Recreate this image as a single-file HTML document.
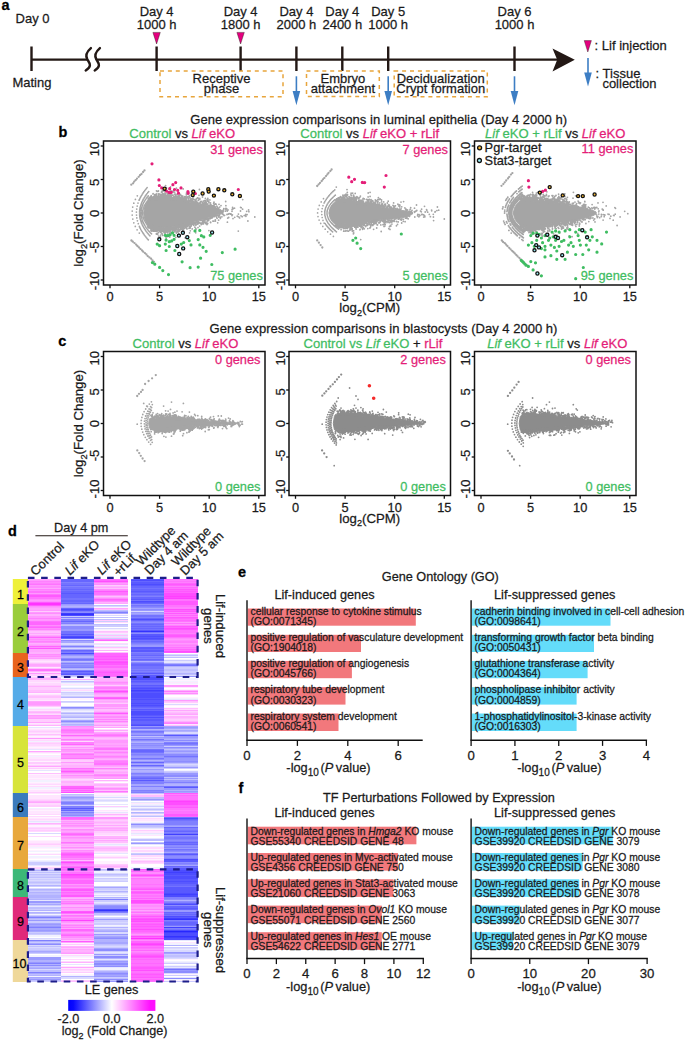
<!DOCTYPE html>
<html><head><meta charset="utf-8"><style>html,body{margin:0;padding:0;background:#fff;}svg{display:block;}text{font-family:"Liberation Sans",sans-serif;}</style></head>
<body><svg width="685" height="1040" viewBox="0 0 685 1040" font-family="Liberation Sans, sans-serif" fill="#1a1a1a">
<text font-size="14.5" fill="#000" font-weight="bold" transform="matrix(1 0 0 1.035 1.60 9.80)" stroke="#000" stroke-width="0.25">a</text>
<text font-size="13" transform="matrix(1 0 0 1.035 15.60 23.20)" stroke="#1a1a1a" stroke-width="0.25">Day 0</text>
<text font-size="13" transform="matrix(1 0 0 1.035 12.40 86.90)" stroke="#1a1a1a" stroke-width="0.25">Mating</text>
<g stroke="#231815" stroke-width="2.4" fill="none">
<path d="M31.5 59.6H87.3M96.3 59.6H558"/>
<path d="M31.5 46.5V71"/>
<path d="M156.6 46.5V71"/>
<path d="M240.6 46.5V71"/>
<path d="M296.4 46.5V71"/>
<path d="M342.3 46.5V71"/>
<path d="M388.2 46.5V71"/>
<path d="M514.5 46.5V71"/>
<path d="M90.9 48.1C87 51.5 85.3 55.8 87.3 59.3C89.2 62.6 92.8 66.2 85.7 70.5" stroke-width="2.4" stroke-linecap="round"/>
<path d="M99.9 48.1C96 51.5 94.3 55.8 96.3 59.3C98.2 62.6 101.8 66.2 94.7 70.5" stroke-width="2.4" stroke-linecap="round"/>
</g>
<path d="M574.8 59.7L552.5 48.4L557.2 59.7L552.5 71.4Z" fill="#231815"/>
<text font-size="13" text-anchor="middle" transform="matrix(1 0 0 1.035 156.60 16.40)" stroke="#1a1a1a" stroke-width="0.25">Day 4</text>
<text font-size="13" text-anchor="middle" transform="matrix(1 0 0 1.035 156.60 29.30)" stroke="#1a1a1a" stroke-width="0.25">1000 h</text>
<text font-size="13" text-anchor="middle" transform="matrix(1 0 0 1.035 240.60 16.40)" stroke="#1a1a1a" stroke-width="0.25">Day 4</text>
<text font-size="13" text-anchor="middle" transform="matrix(1 0 0 1.035 240.60 29.30)" stroke="#1a1a1a" stroke-width="0.25">1800 h</text>
<text font-size="13" text-anchor="middle" transform="matrix(1 0 0 1.035 296.40 16.40)" stroke="#1a1a1a" stroke-width="0.25">Day 4</text>
<text font-size="13" text-anchor="middle" transform="matrix(1 0 0 1.035 296.40 29.30)" stroke="#1a1a1a" stroke-width="0.25">2000 h</text>
<text font-size="13" text-anchor="middle" transform="matrix(1 0 0 1.035 342.30 16.40)" stroke="#1a1a1a" stroke-width="0.25">Day 4</text>
<text font-size="13" text-anchor="middle" transform="matrix(1 0 0 1.035 342.30 29.30)" stroke="#1a1a1a" stroke-width="0.25">2400 h</text>
<text font-size="13" text-anchor="middle" transform="matrix(1 0 0 1.035 388.20 16.40)" stroke="#1a1a1a" stroke-width="0.25">Day 5</text>
<text font-size="13" text-anchor="middle" transform="matrix(1 0 0 1.035 388.20 29.30)" stroke="#1a1a1a" stroke-width="0.25">1000 h</text>
<text font-size="13" text-anchor="middle" transform="matrix(1 0 0 1.035 514.50 16.40)" stroke="#1a1a1a" stroke-width="0.25">Day 6</text>
<text font-size="13" text-anchor="middle" transform="matrix(1 0 0 1.035 514.50 29.30)" stroke="#1a1a1a" stroke-width="0.25">1000 h</text>
<path d="M152.9 32.4H160.29999999999998L156.6 44Z" fill="#e4007f" stroke="#231815" stroke-width="0.4"/>
<path d="M236.9 32.4H244.29999999999998L240.6 44Z" fill="#e4007f" stroke="#231815" stroke-width="0.4"/>
<path d="M296.4 76.3V92.8" stroke="#3d7ec4" stroke-width="1.6"/>
<path d="M292.59999999999997 91.0L300.2 91.0L296.4 105.2Z" fill="#3d7ec4"/>
<path d="M388.2 76.3V92.8" stroke="#3d7ec4" stroke-width="1.6"/>
<path d="M384.4 91.0L392.0 91.0L388.2 105.2Z" fill="#3d7ec4"/>
<path d="M514.5 76.3V92.8" stroke="#3d7ec4" stroke-width="1.6"/>
<path d="M510.7 91.0L518.3 91.0L514.5 105.2Z" fill="#3d7ec4"/>
<rect x="160" y="70.9" width="123.0" height="25.8" fill="none" stroke="#e8a53c" stroke-width="1.5" stroke-dasharray="4 3.9"/>
<rect x="306.5" y="70.9" width="72.8" height="25.6" fill="none" stroke="#e8a53c" stroke-width="1.5" stroke-dasharray="4 3.9"/>
<rect x="394.2" y="70.9" width="93.1" height="25.8" fill="none" stroke="#e8a53c" stroke-width="1.5" stroke-dasharray="4 3.9"/>
<text font-size="13" text-anchor="middle" transform="matrix(1 0 0 1.035 221.50 83.20)" stroke="#1a1a1a" stroke-width="0.25">Receptive</text>
<text font-size="13" text-anchor="middle" transform="matrix(1 0 0 1.035 221.50 92.60)" stroke="#1a1a1a" stroke-width="0.25">phase</text>
<text font-size="13" text-anchor="middle" transform="matrix(1 0 0 1.035 342.90 83.20)" stroke="#1a1a1a" stroke-width="0.25">Embryo</text>
<text font-size="13" text-anchor="middle" transform="matrix(1 0 0 1.035 342.90 92.60)" stroke="#1a1a1a" stroke-width="0.25">attachment</text>
<text font-size="13" text-anchor="middle" transform="matrix(1 0 0 1.035 440.70 83.20)" stroke="#1a1a1a" stroke-width="0.25">Decidualization</text>
<text font-size="13" text-anchor="middle" transform="matrix(1 0 0 1.035 440.70 92.60)" stroke="#1a1a1a" stroke-width="0.25">Crypt formation</text>
<path d="M584.2 40.6H591.4L587.8 52Z" fill="#e4007f" stroke="#231815" stroke-width="0.4"/>
<text font-size="13" transform="matrix(1 0 0 1.035 594.60 49.80)" stroke="#1a1a1a" stroke-width="0.25">: Lif injection</text>
<path d="M588 58.1V74.2" stroke="#3d7ec4" stroke-width="1.6"/>
<path d="M584.2 72.4L591.8 72.4L588 86.60000000000001Z" fill="#3d7ec4"/>
<text font-size="13" transform="matrix(1 0 0 1.035 595.60 77.70)" stroke="#1a1a1a" stroke-width="0.25">: Tissue</text>
<text font-size="13" transform="matrix(1 0 0 1.035 602.40 88.00)" stroke="#1a1a1a" stroke-width="0.25">collection</text>
<text font-size="14.5" fill="#000" font-weight="bold" transform="matrix(1 0 0 1.035 58.60 137.40)" stroke="#000" stroke-width="0.25">b</text>
<text font-size="13.04" transform="matrix(1 0 0 1.035 190.30 123.80)" stroke="#1a1a1a" stroke-width="0.25">Gene expression comparisons in luminal epithelia (Day 4 2000 h)</text>
<text font-size="13.05" text-anchor="middle" transform="matrix(1 0 0 1.035 182.20 137.70)" stroke="#1a1a1a" stroke-width="0.25"><tspan fill="#3fbd62" stroke="#3fbd62">Control</tspan><tspan fill="#1a1a1a" stroke="#1a1a1a"> vs </tspan><tspan fill="#e41e78" font-style="italic" stroke="#e41e78">Lif</tspan><tspan fill="#e41e78" stroke="#e41e78"> eKO</tspan></text>
<text font-size="13.05" text-anchor="middle" transform="matrix(1 0 0 1.035 369.70 137.70)" stroke="#1a1a1a" stroke-width="0.25"><tspan fill="#3fbd62" stroke="#3fbd62">Control</tspan><tspan fill="#1a1a1a" stroke="#1a1a1a"> vs </tspan><tspan fill="#e41e78" font-style="italic" stroke="#e41e78">Lif</tspan><tspan fill="#e41e78" stroke="#e41e78"> eKO + rLif</tspan></text>
<text font-size="13.05" text-anchor="middle" transform="matrix(1 0 0 1.035 555.20 137.70)" stroke="#1a1a1a" stroke-width="0.25"><tspan fill="#3fbd62" font-style="italic" stroke="#3fbd62">Lif</tspan><tspan fill="#3fbd62" stroke="#3fbd62"> eKO + rLif</tspan><tspan fill="#1a1a1a" stroke="#1a1a1a"> vs </tspan><tspan fill="#e41e78" font-style="italic" stroke="#e41e78">Lif</tspan><tspan fill="#e41e78" stroke="#e41e78"> eKO</tspan></text>
<path d="M143.7 213.0 144.7 207.1 145.7 204.7 146.7 202.8 147.7 201.2 148.7 199.9 149.7 200.1 150.7 200.0 151.7 199.9 152.7 199.8 153.6 199.7 154.6 199.6 155.6 199.5 156.6 199.4 157.6 199.3 158.6 199.2 159.6 199.1 160.6 199.0 161.6 198.9 162.6 198.8 163.6 198.9 164.6 198.9 165.6 199.0 166.5 199.1 167.5 199.1 168.5 199.2 169.5 199.3 170.5 199.3 171.5 199.4 172.5 199.5 173.5 199.5 174.5 199.6 175.5 199.8 176.5 199.9 177.5 200.1 178.4 200.3 179.4 200.5 180.4 200.6 181.4 200.8 182.4 201.0 183.4 201.1 184.4 201.3 185.4 201.5 186.4 201.7 187.4 201.9 188.4 202.1 189.4 202.3 190.4 202.5 191.3 202.7 192.3 202.9 193.3 203.1 194.3 203.3 195.3 203.5 196.3 203.7 197.3 203.9 198.3 204.0 199.3 204.2 200.3 204.4 201.3 204.5 202.3 204.7 203.2 204.8 204.2 205.0 205.2 205.1 206.2 205.3 207.2 205.5 208.2 205.6 209.2 205.8 210.2 206.1 211.2 206.4 212.2 206.6 213.2 206.9 214.2 207.2 215.2 207.5 216.1 207.8 217.1 208.1 218.1 208.4 219.1 208.7 220.1 209.4 221.1 210.1 222.1 210.7 223.1 211.4 223.1 213.5 222.1 213.7 221.1 213.8 220.1 213.9 219.1 214.1 218.1 214.4 217.1 214.8 216.1 215.1 215.2 215.5 214.2 215.8 213.2 216.2 212.2 216.5 211.2 216.9 210.2 217.2 209.2 217.6 208.2 217.8 207.2 218.1 206.2 218.4 205.2 218.7 204.2 219.0 203.2 219.3 202.3 219.6 201.3 219.9 200.3 220.2 199.3 220.5 198.3 220.7 197.3 221.0 196.3 221.2 195.3 221.4 194.3 221.6 193.3 221.8 192.3 222.0 191.3 222.2 190.4 222.4 189.4 222.6 188.4 222.8 187.4 223.1 186.4 223.3 185.4 223.5 184.4 223.7 183.4 224.0 182.4 224.3 181.4 224.6 180.4 224.9 179.4 225.2 178.4 225.5 177.5 225.8 176.5 226.1 175.5 226.4 174.5 226.7 173.5 226.8 172.5 226.8 171.5 226.9 170.5 227.0 169.5 227.1 168.5 227.2 167.5 227.3 166.5 227.4 165.6 227.5 164.6 227.6 163.6 227.7 162.6 227.7 161.6 227.5 160.6 227.3 159.6 227.1 158.6 226.9 157.6 226.7 156.6 226.5 155.6 226.3 154.6 226.1 153.6 225.9 152.7 225.7 151.7 225.5 150.7 225.3 149.7 225.1 148.7 225.8 147.7 224.8 146.7 223.2 145.7 221.3 144.7 218.9 143.7 213.0Z" fill="#a5a5a5" stroke="#a5a5a5" stroke-width="1" stroke-linejoin="round"/>
<path d="M154.6 196.2h0M175.1 228.9h0M171.7 227.5h0M158.8 199.1h0M171.2 198.8h0M159.0 198.4h0M225.6 209.0h0M153.8 228.9h0M223.0 214.4h0M245.4 215.2h0M156.6 229.3h0M167.3 229.0h0M177.0 198.5h0M168.5 228.8h0M207.6 200.9h0M176.5 197.9h0M161.6 191.5h0M210.5 222.2h0M216.8 206.1h0M150.0 198.1h0M175.8 198.8h0M178.4 198.1h0M147.8 226.9h0M234.7 217.3h0M160.8 196.4h0M204.6 219.2h0M165.6 227.9h0M156.3 196.5h0M164.4 198.9h0M170.1 227.3h0M176.2 228.3h0M155.2 226.6h0M192.5 222.6h0M213.8 216.5h0M168.5 228.1h0M163.5 228.5h0M202.5 204.0h0M219.7 207.1h0M237.8 216.4h0M167.5 227.8h0M170.9 227.2h0M163.0 228.6h0M165.3 230.1h0M174.4 227.3h0M205.3 200.8h0M165.4 232.2h0M154.6 199.4h0M151.1 229.0h0M165.4 195.4h0M181.2 200.5h0M162.0 194.7h0M191.6 222.5h0M153.5 226.5h0M152.8 226.8h0M160.7 227.6h0M183.5 200.3h0M158.8 236.1h0M193.9 222.4h0M163.6 198.7h0M189.3 195.7h0M163.6 228.5h0M165.1 229.5h0M160.2 197.2h0M151.2 226.2h0M175.0 226.9h0M208.8 201.7h0M153.0 193.9h0M164.1 231.4h0M226.7 208.6h0M170.9 229.9h0M160.7 235.1h0M179.3 196.0h0M168.6 198.5h0M188.7 200.2h0M166.2 198.7h0M168.9 198.6h0M177.6 197.7h0M193.6 202.5h0M174.0 228.0h0M161.9 198.8h0M176.3 226.5h0M194.5 222.7h0M201.2 224.5h0M156.8 227.1h0M193.0 222.9h0M156.2 226.5h0M216.5 215.7h0M208.7 220.2h0M171.7 191.1h0M215.1 207.1h0M183.9 200.9h0M160.5 199.0h0M171.3 229.3h0M162.4 228.4h0M160.6 231.0h0M174.8 230.0h0M167.8 227.5h0M153.7 227.7h0M205.7 218.9h0M181.3 199.1h0M171.5 198.5h0M210.3 218.7h0M167.5 199.1h0M183.7 228.1h0M202.6 203.9h0M185.8 200.5h0M168.2 228.5h0M182.4 229.7h0M174.9 228.9h0M186.9 225.5h0M228.7 217.5h0M165.9 230.3h0M178.9 196.2h0M173.1 228.5h0M170.2 196.8h0M176.0 197.1h0M194.0 202.7h0M151.2 198.2h0M176.3 226.6h0M197.5 221.7h0M159.6 227.6h0M159.1 229.9h0M170.8 195.7h0M186.5 193.2h0M184.5 199.6h0M154.8 227.2h0M160.1 196.1h0M153.0 198.2h0M157.3 228.8h0M196.1 229.1h0M165.5 227.8h0M152.4 198.3h0M156.4 195.4h0M182.0 197.9h0M183.2 188.9h0M213.8 206.2h0M182.0 225.6h0M155.1 199.4h0M154.3 230.3h0M161.8 198.7h0M187.7 225.7h0M190.6 224.7h0M188.2 223.0h0M182.9 226.4h0M177.1 199.0h0M158.0 228.1h0M197.5 224.0h0M160.6 227.7h0M232.0 211.3h0M217.9 215.6h0M148.8 198.2h0M168.6 194.2h0M177.3 196.3h0M154.3 229.9h0M163.4 228.3h0M164.8 231.1h0M182.4 198.5h0M224.6 215.3h0M155.8 197.8h0M165.7 227.6h0M189.2 201.4h0M164.6 229.2h0M155.3 198.6h0M150.8 226.8h0M218.6 220.2h0M154.6 228.1h0M210.5 202.9h0M169.0 236.3h0M156.3 229.2h0M169.5 199.1h0M179.0 200.1h0M187.1 201.6h0M230.4 214.0h0M162.3 229.8h0M192.2 228.9h0M199.4 189.5h0M158.1 230.3h0M174.5 231.7h0M182.4 196.5h0M157.5 196.6h0M153.8 231.0h0M181.3 226.4h0M219.5 215.3h0M163.6 229.3h0M179.4 225.6h0M180.7 226.0h0M173.0 227.9h0M174.1 198.1h0M166.2 199.0h0M161.1 196.9h0M176.5 197.2h0M209.0 202.8h0M168.8 195.0h0M185.0 225.4h0M165.7 190.8h0M179.6 197.9h0M161.4 229.0h0M233.3 208.7h0M168.2 228.0h0M168.0 227.8h0M169.9 187.9h0M174.9 197.8h0M205.4 203.6h0M161.5 228.9h0M161.8 197.6h0M157.7 228.9h0M178.0 199.8h0M162.1 198.1h0M166.9 228.3h0M157.0 229.4h0M150.1 227.9h0M217.6 207.4h0M164.8 198.6h0M152.0 228.4h0M193.4 222.3h0M163.5 198.6h0M192.9 222.9h0M176.9 199.1h0M160.6 196.3h0M151.3 199.7h0M161.6 198.8h0M168.8 196.8h0M192.7 201.3h0M215.3 219.8h0M192.7 223.7h0M178.2 230.9h0M179.3 198.8h0M158.8 197.3h0M161.7 197.4h0M152.9 228.2h0M178.9 228.4h0M227.0 214.5h0M155.9 198.4h0M153.7 226.6h0M214.2 215.8h0M167.6 194.1h0M209.5 218.7h0M169.4 199.1h0M148.6 199.5h0M153.3 198.1h0M161.7 233.2h0M214.9 216.2h0M160.0 198.0h0M209.0 218.5h0M165.7 240.3h0M149.9 199.0h0M218.8 217.0h0M176.9 228.6h0M156.6 197.9h0M197.0 221.1h0M167.8 227.7h0M210.7 204.7h0M208.2 205.1h0M178.7 231.5h0M155.4 199.3h0M151.1 228.8h0M155.7 230.4h0M215.4 221.0h0M165.5 231.0h0M182.5 225.6h0M195.5 223.9h0M160.5 227.6h0M168.1 196.8h0M169.8 237.1h0M164.2 229.0h0M169.9 198.1h0M158.0 198.2h0M180.8 228.4h0M200.3 204.0h0M165.9 197.5h0M154.3 226.5h0M178.4 226.8h0M181.8 199.7h0M186.4 198.1h0M202.9 222.1h0M154.3 199.5h0M167.8 229.8h0M166.3 228.0h0M165.8 227.7h0M158.4 227.7h0M183.1 197.8h0M150.1 226.0h0M152.8 197.5h0M158.4 227.2h0M196.6 222.3h0M154.5 198.9h0M153.8 196.3h0M174.2 227.4h0M191.7 223.8h0M170.1 227.3h0M154.3 198.2h0M158.7 228.8h0M170.2 234.4h0M157.5 197.6h0M166.5 236.7h0M150.5 226.7h0M156.8 193.8h0M168.6 230.9h0M188.7 196.6h0M170.5 198.4h0M182.8 225.0h0M211.3 218.1h0M212.2 216.8h0M179.4 198.4h0M187.4 224.4h0M156.0 226.9h0M155.3 227.1h0M220.4 218.4h0M187.0 223.9h0M179.4 198.2h0M156.5 198.7h0M162.3 198.1h0M162.0 195.7h0M240.6 207.3h0M164.0 194.3h0M171.5 196.2h0M164.0 193.8h0M182.7 196.2h0M153.5 197.7h0M161.4 227.6h0M165.1 196.0h0M160.7 227.4h0M151.8 225.6h0M158.5 197.6h0M168.4 198.7h0M193.4 196.8h0M173.6 199.5h0M186.4 194.6h0M196.6 203.6h0M195.7 228.5h0M180.5 199.0h0M192.8 198.4h0M173.4 229.4h0M180.5 198.4h0M163.7 198.8h0M171.6 233.0h0M186.4 224.6h0M166.3 227.4h0M202.2 204.6h0M182.8 196.2h0M159.7 196.3h0M206.7 203.4h0M162.9 197.1h0M157.9 229.0h0M186.9 200.6h0M155.5 229.5h0M163.6 196.2h0M167.1 232.2h0M164.1 196.8h0M179.2 200.4h0M151.9 227.1h0M203.2 194.1h0M167.2 227.6h0M176.3 232.1h0M179.4 199.8h0M179.8 199.6h0M158.9 193.6h0M213.1 216.6h0M162.5 196.7h0M212.8 206.5h0M159.0 198.5h0M160.7 198.0h0M241.0 215.8h0M168.0 227.9h0M242.6 209.2h0M151.0 230.4h0M204.5 203.6h0M168.6 199.2h0M156.3 231.3h0M155.4 197.2h0M151.5 226.1h0M156.5 198.6h0M179.4 231.0h0M157.6 234.4h0M239.0 217.1h0M191.0 222.6h0M158.5 194.8h0M169.0 227.3h0M152.5 226.7h0M154.9 227.0h0M170.8 197.3h0M176.4 198.6h0M158.3 198.9h0M156.1 199.4h0M184.8 196.6h0M188.4 223.8h0M225.7 201.5h0M164.1 198.8h0M166.9 198.7h0M164.2 229.6h0M184.3 199.3h0M169.8 227.2h0M157.0 227.5h0M160.7 228.9h0M162.9 198.7h0M166.3 229.4h0M184.7 200.4h0M168.7 229.2h0M168.6 231.4h0M160.2 227.9h0M148.7 227.8h0M180.5 224.9h0M180.4 225.3h0M193.8 202.3h0M205.1 204.7h0M224.0 215.5h0M156.6 199.4h0M189.6 232.9h0M157.0 197.1h0M179.7 226.6h0M156.4 233.7h0M167.7 230.4h0M171.3 228.3h0M149.8 199.9h0M171.6 228.3h0M168.2 195.7h0M183.6 227.5h0M176.0 198.0h0M248.6 209.9h0M155.2 197.4h0M172.3 199.2h0M149.7 199.0h0M174.5 196.4h0M182.1 197.6h0M174.7 228.0h0M178.2 229.6h0M180.1 197.6h0M183.1 199.5h0M178.2 199.6h0M183.3 227.6h0M205.4 198.5h0M166.6 196.5h0M211.2 205.5h0M168.7 196.6h0M168.2 234.8h0M209.7 205.3h0M185.0 198.5h0M171.0 199.1h0M155.6 229.4h0M171.2 229.3h0M158.4 191.0h0M182.4 200.6h0M212.8 206.0h0M166.4 198.4h0M174.7 226.8h0M180.6 199.6h0M150.5 227.0h0M198.3 198.4h0M213.7 203.6h0M168.9 230.1h0M177.2 197.5h0M167.2 195.8h0M167.0 198.6h0M191.4 224.5h0M170.7 228.3h0M194.8 227.1h0M182.4 225.7h0M177.2 226.9h0M160.3 197.7h0M162.6 198.7h0M213.5 205.7h0M184.1 225.6h0M179.0 231.0h0M173.9 198.2h0M183.1 200.0h0M153.0 226.0h0M163.6 229.6h0M168.4 197.1h0M185.9 224.1h0M164.4 229.1h0M161.5 196.0h0M182.4 226.0h0M205.4 219.9h0M183.5 198.8h0M226.0 209.6h0M171.7 232.6h0M154.1 227.8h0M186.1 200.2h0M161.4 230.3h0M153.3 228.0h0M193.9 223.1h0M177.7 197.5h0M149.9 225.2h0M163.5 198.4h0M166.1 197.1h0M154.6 226.7h0M161.3 227.5h0M162.3 229.0h0M157.2 226.7h0M221.0 205.6h0M166.2 238.3h0M159.5 228.2h0M164.4 228.3h0M153.1 231.1h0M208.9 230.6h0M214.0 206.1h0M207.1 200.7h0M233.0 218.6h0M171.1 199.1h0M181.5 225.6h0M183.3 225.4h0M170.2 229.4h0M154.9 227.0h0M187.8 223.7h0M161.3 227.7h0M155.5 229.9h0M190.4 199.0h0M203.6 201.1h0M182.2 227.8h0M174.9 199.0h0M215.2 215.6h0M184.9 201.3h0M149.2 226.3h0M185.9 197.0h0M186.6 223.9h0M195.7 232.8h0M164.4 198.9h0M240.5 211.0h0M156.0 199.0h0M179.6 229.7h0M164.1 198.3h0M158.8 196.4h0M159.0 228.7h0M171.7 199.2h0M177.2 198.2h0M178.6 199.7h0M184.5 200.6h0M151.3 199.1h0M157.7 229.0h0M159.4 231.3h0M178.5 200.3h0M161.0 232.3h0M178.0 199.7h0M168.5 198.6h0M149.6 199.5h0M244.2 215.6h0M194.0 202.0h0M161.7 228.1h0M178.0 200.0h0M214.6 215.7h0M173.7 230.7h0M217.7 222.8h0M165.3 197.3h0M219.0 204.3h0M167.5 227.6h0M183.8 201.0h0M182.5 227.7h0M186.4 194.9h0M176.4 197.3h0M182.8 196.7h0M156.3 229.4h0M174.7 192.1h0M151.7 197.4h0M167.2 195.6h0M216.6 217.5h0M180.4 194.3h0M163.8 229.9h0M165.7 196.1h0M176.4 188.2h0M168.5 227.2h0M185.8 197.3h0M225.8 208.4h0M176.3 227.1h0M151.4 196.7h0M170.7 228.7h0M175.8 237.3h0M162.4 230.6h0M179.5 226.2h0M190.0 197.5h0M155.5 199.1h0M179.3 196.8h0M183.4 229.4h0M151.6 198.6h0M170.5 196.3h0M161.4 227.6h0M183.2 226.1h0M155.1 195.3h0M158.2 227.5h0M208.1 201.2h0M168.8 196.4h0M151.2 225.8h0M171.6 228.2h0M151.5 229.0h0M179.9 200.1h0M178.7 233.9h0M161.3 198.7h0M160.1 228.1h0M207.7 223.5h0M171.3 196.0h0M245.9 216.3h0M149.6 226.5h0M189.2 225.8h0M183.4 200.1h0M185.1 224.0h0M199.0 195.3h0M192.7 223.1h0M169.6 198.8h0M175.7 228.5h0M168.4 230.3h0M187.3 201.1h0M191.7 222.4h0M173.1 199.4h0M148.6 199.4h0M227.4 222.2h0M181.4 196.1h0M176.4 197.3h0M232.6 207.5h0M162.2 234.0h0M210.7 217.3h0M159.2 230.6h0M247.1 214.6h0M152.3 197.2h0M167.3 227.9h0M154.9 197.4h0M154.2 227.3h0M162.9 198.3h0M154.9 226.4h0M161.9 197.6h0M191.1 224.9h0M156.0 195.2h0M203.0 204.4h0M161.1 227.6h0M193.9 199.3h0M165.3 195.3h0M182.8 231.0h0M161.9 227.8h0M173.5 198.8h0M183.3 224.5h0M208.1 201.2h0M186.0 223.7h0M169.5 233.1h0M190.2 223.3h0M188.9 201.9h0M164.3 228.5h0M181.5 200.1h0M214.2 206.9h0M191.9 198.6h0M156.4 226.5h0M177.2 198.8h0M185.6 201.2h0M160.1 228.6h0M177.0 200.0h0M156.4 229.7h0M185.5 197.8h0M168.3 229.9h0M167.7 232.9h0M165.0 197.4h0M176.3 196.2h0M189.6 223.2h0M151.0 197.3h0M209.2 205.1h0M185.7 198.8h0M163.0 198.4h0M175.7 198.7h0M156.0 226.6h0M192.8 223.7h0M159.0 199.1h0M169.8 235.0h0M149.8 198.9h0M155.9 227.8h0M231.0 214.0h0M162.8 190.4h0M187.2 226.1h0M159.0 197.4h0M158.9 198.3h0M188.6 201.0h0M187.5 226.5h0M198.4 221.6h0M169.2 197.0h0M162.1 197.3h0M182.0 200.7h0M193.8 225.3h0M166.9 197.5h0M170.9 194.2h0M199.6 226.1h0M196.3 198.8h0M184.6 224.3h0M167.9 198.6h0M165.8 231.3h0M167.6 197.2h0M175.7 196.4h0M163.8 227.9h0M182.8 197.1h0M157.6 197.1h0M168.4 198.7h0M175.4 197.1h0M157.4 234.2h0M203.9 203.8h0M177.6 198.2h0M179.9 227.0h0M179.7 230.2h0M166.9 197.2h0M191.5 222.3h0M172.9 198.0h0M155.7 198.0h0M158.4 227.7h0M152.0 198.6h0M225.4 211.2h0M195.3 202.7h0M153.0 228.9h0M175.2 197.9h0M171.1 197.7h0M186.6 199.2h0M155.2 227.9h0M176.4 233.0h0M166.9 228.6h0M157.8 227.7h0M215.5 203.8h0M186.2 199.9h0M178.6 225.8h0M212.3 216.8h0M168.9 199.0h0M186.4 227.0h0M163.6 230.8h0M159.0 227.9h0M157.1 191.4h0M213.8 221.1h0M198.2 198.4h0M161.6 197.3h0M163.5 228.3h0M171.1 199.4h0M209.9 199.9h0M165.9 237.1h0M180.0 200.1h0M154.7 194.7h0M148.3 198.6h0M155.1 199.4h0M197.9 203.1h0M170.5 197.9h0M173.7 199.5h0M197.2 224.2h0M159.1 196.9h0M158.9 193.7h0M165.8 231.3h0M158.2 228.6h0M196.3 222.3h0M157.0 231.2h0M150.4 199.4h0M167.0 229.0h0M150.9 226.3h0M165.7 198.1h0M163.4 196.2h0M196.3 221.7h0M150.0 225.9h0M180.1 199.9h0M202.5 202.8h0M170.6 230.0h0M177.9 197.3h0M165.8 229.2h0M180.1 199.9h0M176.2 228.6h0M178.9 226.3h0M152.3 226.9h0M187.6 223.8h0M167.9 227.6h0M189.2 201.0h0M187.0 228.9h0M163.0 229.2h0M197.5 202.5h0M158.2 232.7h0M188.3 224.0h0M199.8 198.3h0M161.5 192.4h0M153.2 197.2h0M194.0 223.0h0M223.8 208.6h0M167.3 227.5h0M155.9 226.9h0M154.6 227.4h0M181.9 199.8h0M172.7 230.8h0M186.2 196.9h0M193.0 223.6h0M225.9 205.7h0M155.8 195.4h0M156.2 227.5h0M159.0 198.4h0M155.4 227.0h0M193.9 224.3h0M152.5 227.4h0M188.7 192.3h0M172.1 197.5h0M165.3 193.7h0M165.3 198.6h0M187.7 224.3h0M185.6 200.4h0M181.5 199.7h0M158.7 195.1h0M178.7 200.3h0M160.6 198.8h0M176.7 226.1h0M155.6 230.2h0M166.6 228.3h0M164.1 198.0h0M203.0 202.7h0M180.6 199.3h0M207.4 204.0h0M192.6 202.9h0M189.3 197.7h0M160.2 227.6h0M175.9 228.4h0M178.9 197.7h0M162.1 196.3h0M210.2 205.7h0M186.6 200.7h0M155.7 229.0h0M174.7 230.4h0M191.6 202.7h0M151.2 230.0h0M150.3 226.5h0M190.6 226.5h0M169.4 228.4h0M175.6 226.4h0M155.3 197.4h0M150.7 225.7h0M176.5 229.9h0M190.1 201.0h0M155.9 197.2h0M155.3 226.9h0M175.4 226.7h0M188.3 198.6h0M183.1 224.4h0M157.8 196.9h0M152.4 226.7h0M179.0 225.7h0M163.2 195.4h0M188.0 194.2h0M162.9 197.7h0M211.1 217.3h0M203.2 203.2h0M223.1 211.2h0M170.8 228.4h0M185.5 200.4h0M221.9 216.8h0M245.8 214.5h0M238.4 214.1h0M214.1 216.7h0M190.2 228.0h0M192.6 200.8h0M214.0 202.2h0M203.7 220.6h0M183.8 200.6h0M154.9 228.2h0M151.6 227.3h0M195.9 222.3h0M227.4 210.6h0M172.4 195.2h0M176.3 199.4h0M153.3 198.5h0M160.0 197.1h0M163.5 197.6h0M172.9 228.1h0M178.9 197.2h0M202.5 197.0h0M177.2 198.3h0M210.0 205.1h0M154.6 231.1h0M184.7 224.7h0M195.8 203.5h0M202.0 222.4h0M167.1 197.9h0M164.6 196.1h0M154.5 228.4h0M170.5 197.2h0M154.4 197.2h0M228.2 214.2h0M193.1 190.3h0M170.1 227.8h0M151.5 197.0h0M149.2 198.1h0M158.3 227.1h0M164.3 197.2h0M175.0 226.7h0M165.1 197.4h0M181.6 200.0h0M170.8 232.2h0M167.2 227.9h0M153.2 199.1h0M162.1 198.7h0M171.6 226.9h0M227.3 211.0h0M174.4 198.8h0M207.4 218.6h0M184.2 198.7h0M173.3 226.9h0M165.6 198.7h0M197.7 221.9h0M173.0 228.9h0M181.2 195.5h0M155.1 198.4h0M200.6 220.4h0M185.6 223.7h0M154.0 197.3h0M168.5 231.3h0M172.1 198.1h0M186.1 200.2h0M186.6 192.8h0M164.6 228.8h0M168.6 227.8h0M174.5 198.7h0M154.8 199.2h0M155.2 194.3h0M211.4 205.1h0M170.1 228.2h0M185.7 226.8h0M153.2 229.8h0M219.7 214.3h0M180.9 225.9h0M242.2 216.7h0M152.1 198.5h0M192.3 201.8h0M149.4 199.0h0M156.9 198.8h0M186.7 228.7h0M189.0 228.3h0M173.4 199.1h0M213.7 203.2h0M207.0 224.6h0M166.4 227.4h0M185.6 225.7h0M165.2 199.0h0M160.9 227.4h0M188.9 223.5h0M151.4 199.4h0M171.8 229.8h0M160.2 228.8h0M188.0 202.0h0M167.1 198.2h0M198.8 222.2h0M158.0 230.0h0M155.1 198.1h0M185.3 200.8h0M152.0 198.8h0M160.5 232.4h0M156.3 198.0h0M157.8 199.1h0M160.2 229.4h0M181.4 199.6h0M190.3 199.9h0M158.6 198.8h0M183.6 200.0h0M153.1 193.6h0M164.5 196.0h0M175.4 230.2h0M160.9 198.7h0M165.5 198.7h0M170.1 195.3h0M168.2 228.4h0M176.7 196.9h0M173.5 227.6h0M177.3 194.1h0M168.4 198.5h0M196.4 203.6h0M184.9 228.1h0M197.4 197.9h0M169.4 196.6h0M157.4 227.6h0M170.1 228.0h0M198.1 223.7h0M166.0 227.6h0M173.2 192.1h0M176.6 198.9h0M172.5 227.6h0M177.6 199.5h0M173.1 197.8h0M216.1 204.2h0M161.7 229.5h0M166.4 227.5h0M168.2 229.8h0M176.1 226.3h0M202.2 220.2h0M162.1 230.3h0M162.8 235.4h0M195.5 201.8h0M178.8 226.3h0M152.1 198.5h0M173.4 199.4h0M194.0 222.5h0M178.9 230.6h0M178.1 198.0h0M203.9 219.4h0M179.8 198.4h0M164.7 191.8h0M160.7 229.8h0M219.0 215.2h0M151.2 195.6h0M179.6 197.1h0M174.4 197.7h0M178.7 227.7h0M155.1 227.5h0M210.7 222.5h0M151.7 226.1h0M165.8 195.6h0M179.3 225.4h0M182.6 225.2h0M170.3 227.0h0M166.8 227.9h0M169.8 227.5h0M150.0 198.9h0M156.4 234.0h0M175.5 194.2h0M165.9 230.3h0M161.5 196.1h0M162.1 228.7h0M174.8 227.1h0M177.7 226.3h0M170.3 230.4h0M176.4 199.7h0M168.3 227.8h0M202.8 223.9h0M204.0 219.3h0M192.5 199.2h0M232.4 214.8h0M160.4 194.5h0M193.1 201.4h0M158.2 198.6h0M165.2 232.3h0M192.4 200.8h0M192.0 201.9h0M168.5 227.3h0M214.2 204.7h0M166.0 197.4h0M168.8 228.4h0M164.2 197.8h0M176.2 228.5h0M153.4 198.6h0M207.8 221.0h0M228.0 209.9h0M151.6 231.0h0M204.6 200.6h0M150.3 199.3h0M175.3 228.2h0M163.6 198.4h0M162.6 198.0h0M163.1 231.4h0M158.6 227.0h0M164.7 197.8h0M168.6 227.6h0M157.0 197.9h0M178.9 196.6h0M160.0 197.3h0M165.1 190.5h0M174.6 198.3h0M180.3 229.8h0M215.2 206.9h0M165.4 227.7h0M173.5 229.0h0M172.6 198.2h0M152.9 199.2h0M170.7 232.6h0M187.0 200.9h0M182.6 200.9h0M173.0 195.2h0M153.3 199.1h0M195.5 202.4h0M149.7 199.7h0M174.1 197.7h0M185.1 237.8h0M171.0 196.2h0M195.4 201.4h0M149.1 226.3h0M165.9 198.0h0M170.5 190.9h0M160.7 195.7h0M161.1 195.5h0M237.3 216.2h0M181.2 225.5h0M159.3 227.4h0M187.0 225.5h0M184.4 226.3h0M246.7 211.3h0M210.6 217.6h0M160.3 198.7h0M227.7 218.1h0M152.3 197.5h0M170.9 198.3h0M162.8 191.3h0M170.6 196.6h0M154.9 227.0h0M166.6 195.8h0M154.9 198.9h0M155.8 198.4h0M183.2 226.1h0M154.9 197.9h0M177.3 231.6h0M200.5 202.5h0M181.9 198.9h0M163.2 198.2h0M156.9 229.8h0M187.2 223.7h0M174.6 194.1h0M153.6 228.5h0M215.8 204.3h0M184.7 196.8h0M223.6 209.7h0M192.0 200.4h0M155.2 196.7h0M208.6 205.7h0M178.5 225.6h0M188.9 224.2h0M166.3 198.9h0M181.4 225.1h0M165.8 193.4h0M152.8 198.0h0M163.2 230.0h0M178.3 198.2h0M204.9 222.4h0M182.8 224.9h0M222.3 213.7h0M198.0 227.6h0M200.1 222.8h0M181.8 225.2h0M151.0 226.0h0M207.1 199.6h0M154.4 198.7h0M168.5 230.7h0M229.2 213.6h0M149.8 226.1h0M164.6 230.4h0M199.4 203.7h0M168.2 196.3h0M156.0 229.8h0M150.9 227.3h0M160.2 228.7h0M153.4 226.7h0M167.5 198.9h0M176.5 226.1h0M193.0 223.2h0M171.9 227.6h0M211.2 206.2h0M167.9 228.0h0M152.2 226.7h0M188.5 200.9h0M192.2 222.1h0M178.3 199.1h0M207.8 198.3h0M169.1 199.2h0M208.8 218.9h0M156.8 198.3h0M179.2 225.7h0M163.0 196.8h0M177.2 227.4h0M201.8 201.3h0M195.9 225.3h0M170.1 194.3h0M165.5 234.2h0M152.3 226.5h0M168.0 227.9h0M179.4 199.2h0M232.1 209.5h0M212.9 221.1h0M158.9 227.4h0M198.7 198.8h0M207.3 223.1h0M188.0 223.1h0M164.6 196.7h0M166.3 196.8h0M156.6 230.4h0M175.4 198.9h0M191.2 225.3h0M205.1 219.4h0M166.7 228.4h0M166.9 229.9h0M168.0 199.2h0M156.9 227.7h0M168.9 229.4h0M161.7 228.0h0M151.3 199.6h0M162.5 193.3h0M157.6 198.9h0M185.6 227.3h0M165.3 196.0h0M175.5 194.8h0M158.8 198.8h0M160.0 228.3h0M181.2 200.7h0M169.5 231.0h0M159.5 227.5h0M190.9 200.8h0M203.7 222.8h0M162.9 197.0h0M179.9 226.3h0M183.7 227.5h0M171.3 193.1h0M179.5 226.6h0M157.6 229.2h0M184.3 223.8h0M191.2 226.1h0M161.8 231.0h0M172.1 198.3h0M150.2 197.0h0M173.4 191.0h0M164.3 228.4h0M200.5 201.6h0M193.3 202.0h0M194.1 223.0h0M159.2 229.2h0M173.1 228.0h0M192.8 196.3h0M183.4 228.0h0M159.9 196.8h0M156.0 195.9h0M165.6 185.7h0M153.5 197.3h0M162.6 229.8h0M179.2 197.9h0M186.3 226.2h0M156.8 227.0h0M182.2 200.2h0M187.7 197.0h0M178.5 199.4h0M155.9 198.4h0M171.5 227.4h0M234.5 208.2h0M166.3 230.0h0M204.2 221.4h0M170.8 228.8h0M186.9 225.7h0M190.5 222.5h0M166.2 198.6h0M157.3 196.9h0M185.1 225.9h0M192.7 224.3h0M160.0 198.4h0M164.5 233.1h0M168.0 193.4h0M171.2 196.4h0M150.3 226.1h0M148.1 226.7h0M184.8 200.8h0M185.3 224.9h0M149.3 225.5h0M169.0 230.9h0M152.8 226.6h0M188.6 201.3h0M175.8 226.7h0M180.8 227.6h0M171.1 191.8h0M171.1 197.7h0M201.6 223.6h0M157.6 229.6h0M164.1 198.6h0M149.6 226.1h0M153.0 199.7h0M171.2 197.9h0M177.9 227.8h0M151.6 198.3h0M166.3 227.8h0M175.4 230.6h0M206.4 202.1h0M158.4 198.7h0M171.5 196.8h0M151.8 227.3h0M156.5 198.9h0M160.7 227.7h0M206.0 222.0h0M159.6 199.0h0M192.4 202.9h0M193.5 199.3h0M200.9 204.1h0M232.0 215.5h0M162.1 198.0h0M177.4 200.0h0M153.5 226.6h0M149.9 199.1h0M207.1 219.8h0M150.7 226.8h0M169.6 228.5h0M151.6 198.8h0M185.8 223.7h0M166.1 235.8h0M191.9 202.1h0M202.7 220.8h0M185.7 224.0h0M156.7 234.0h0M186.8 224.4h0M155.1 227.7h0M183.6 230.8h0M157.3 197.4h0M164.2 198.5h0M162.1 198.2h0M183.6 229.4h0M152.1 226.5h0M178.6 198.6h0M176.7 199.6h0M190.3 201.9h0M170.2 227.8h0M186.3 225.7h0M171.5 197.5h0M175.6 199.5h0M166.9 227.7h0M191.5 198.9h0M166.1 198.7h0M193.6 221.9h0M183.3 226.3h0M159.6 197.2h0M182.1 224.8h0M188.7 222.9h0M157.2 198.6h0M181.6 198.7h0M205.7 223.5h0M218.2 208.1h0M165.2 228.5h0M181.2 224.7h0M204.0 219.9h0M186.4 225.1h0M181.7 229.2h0M179.6 199.0h0M169.4 227.4h0M195.8 201.5h0M241.2 207.7h0M205.9 223.5h0M162.0 229.7h0M152.9 198.8h0M200.0 223.1h0M203.4 223.9h0M157.1 228.7h0M185.0 224.1h0M150.3 199.3h0M172.1 198.9h0M169.6 197.9h0M157.6 196.5h0M177.7 200.1h0M166.5 188.0h0M167.0 195.1h0M197.4 221.3h0M206.0 204.7h0M170.8 195.8h0M166.6 198.2h0M156.1 197.7h0M183.6 225.2h0M189.8 200.4h0M162.2 194.6h0M178.4 195.6h0M174.6 227.8h0M190.3 230.8h0M150.2 227.2h0M157.1 198.2h0M168.4 197.1h0M169.3 227.8h0M167.4 227.3h0M194.9 200.0h0M189.1 224.3h0M159.3 197.9h0M186.6 201.2h0M186.7 200.5h0M165.0 228.4h0M187.0 224.5h0M156.0 196.4h0M157.4 227.9h0M153.2 225.9h0M158.8 229.8h0M170.1 232.7h0M168.9 193.5h0M171.8 228.9h0M194.7 203.3h0M172.7 228.7h0M159.3 228.7h0M183.1 232.3h0M197.1 222.0h0M158.6 229.4h0M156.2 199.3h0M204.1 204.3h0M154.9 199.0h0M177.6 225.9h0M149.0 227.4h0M173.9 197.5h0M197.1 222.7h0M204.3 219.7h0M162.4 228.5h0M175.8 199.5h0M167.2 230.2h0M238.3 231.1h0M175.8 195.0h0M169.7 198.8h0M198.4 223.7h0M201.4 223.6h0M175.3 198.8h0M152.6 226.3h0M149.1 225.6h0M193.4 224.1h0M156.8 196.5h0M192.7 202.6h0M160.0 229.4h0M184.9 224.5h0M181.4 196.4h0M171.1 229.9h0M170.6 186.8h0M156.7 198.7h0M155.7 228.5h0M217.1 218.3h0M208.2 199.8h0M149.5 225.7h0M157.6 227.2h0M199.8 199.6h0M179.0 231.3h0M169.5 196.4h0M242.7 199.6h0M175.8 196.5h0M173.8 199.2h0M183.5 200.9h0M182.2 200.9h0M177.8 197.8h0M166.7 227.9h0M170.6 197.7h0M154.3 228.3h0M168.6 228.8h0M155.4 198.9h0M178.0 232.1h0M174.6 231.8h0M163.1 198.4h0M162.9 228.0h0M159.1 198.1h0M164.4 197.5h0M177.4 198.0h0M173.0 199.3h0M156.6 198.1h0M200.4 202.2h0M189.5 227.0h0M172.2 227.1h0M174.9 227.7h0M181.1 198.3h0M206.6 218.7h0M158.8 227.9h0M187.8 225.1h0M175.0 226.6h0M152.5 226.1h0M166.0 227.9h0M158.7 197.4h0M155.7 226.4h0M177.0 228.0h0M193.0 224.6h0M179.9 198.6h0M169.9 198.9h0M213.8 203.8h0M167.0 231.9h0M212.2 217.8h0M155.7 197.2h0M161.6 229.2h0M204.4 220.5h0M239.6 217.9h0M154.8 196.8h0M150.0 198.2h0M175.3 199.7h0M162.3 229.2h0M163.8 232.1h0M159.8 227.3h0M198.2 200.3h0M166.4 230.6h0M152.9 199.3h0M187.3 224.0h0M167.5 229.5h0M204.8 202.4h0M176.2 226.2h0M160.4 236.8h0M199.8 222.7h0M167.4 229.0h0M157.8 227.6h0M199.2 203.5h0M164.1 228.1h0M172.7 198.4h0M159.9 230.3h0M223.0 210.4h0M192.3 200.3h0M172.8 232.9h0M156.1 199.1h0M168.4 227.7h0M179.7 195.0h0M181.1 200.6h0M173.6 199.0h0M174.5 196.7h0M156.0 231.2h0M169.2 196.3h0M166.0 198.9h0M157.5 227.6h0M175.9 230.1h0M177.5 226.5h0M205.0 203.0h0M156.7 199.0h0M182.0 228.4h0M151.5 226.9h0M156.5 190.8h0M169.7 229.1h0M157.0 228.6h0M196.6 202.0h0M220.3 217.2h0M157.9 228.0h0M199.2 203.1h0M173.7 227.7h0M160.4 197.8h0M163.2 193.8h0M198.5 222.5h0M173.9 196.6h0M186.4 201.6h0M170.4 198.6h0M155.1 227.4h0M196.0 200.2h0M174.6 198.4h0M151.5 225.5h0M248.9 211.7h0M254.8 217.0h0M247.9 221.0h0M240.9 207.6h0" stroke="#a5a5a5" stroke-width="1.8" stroke-linecap="round" fill="none"/>
<path d="M139.3 233.1h0M137.1 229.8h0M135.3 226.4h0M133.8 222.8h0M132.8 219.0h0M132.2 215.1h0M132.2 211.1h0M132.7 207.1h0M133.8 203.2h0M135.4 199.4h0M137.3 195.8h0M139.4 226.4h0M138.3 223.7h0M137.4 220.8h0M136.8 217.9h0M136.5 215.0h0M136.4 212.0h0M136.7 209.0h0M137.2 206.0h0M138.0 203.1h0M139.1 200.2h0M139.4 199.6h0M139.9 198.4h0M140.5 197.2h0M141.1 196.1h0M141.8 195.0h0M142.5 193.8h0M143.2 192.7h0M143.9 191.7h0M144.7 190.6h0M145.5 189.6h0M146.3 188.5h0M147.1 187.5h0M148.3 239.8h0M147.4 238.8h0M146.6 237.8h0M145.8 236.8h0M145.0 235.8h0M144.2 234.8h0M143.5 233.7h0M142.8 232.7h0M142.1 231.6h0M141.4 230.5h0M140.8 229.3h0M140.2 228.2h0M139.6 227.0h0M149.9 235.8h0M149.0 234.8h0M148.2 233.8h0M147.4 232.8h0M146.6 231.8h0M145.8 230.8h0M145.1 229.7h0M144.4 228.6h0M143.8 227.5h0M143.1 226.4h0M142.5 225.3h0M142.0 224.1h0M141.5 222.9h0M141.1 221.7h0M140.7 220.5h0M140.3 219.2h0M140.0 217.9h0M139.8 216.7h0M139.7 215.4h0M139.6 214.1h0M139.6 212.8h0M139.6 211.5h0M139.7 210.2h0M139.9 208.9h0M140.1 207.6h0M140.4 206.3h0M140.8 205.1h0M141.2 203.9h0M141.7 202.6h0M142.2 201.4h0M142.8 200.2h0M143.4 199.1h0M144.1 197.9h0M144.8 196.8h0M145.5 195.7h0M146.2 194.7h0M147.0 193.6h0M147.8 192.6h0M148.7 191.6h0M151.5 233.8h0M150.6 232.9h0M149.8 231.9h0M148.9 231.0h0M148.1 230.0h0M147.3 229.0h0M146.5 228.0h0M145.7 226.9h0M145.0 225.8h0M144.4 224.7h0M143.8 223.6h0M143.2 222.4h0M142.7 221.3h0M142.3 220.1h0M141.9 218.8h0M141.6 217.6h0M141.3 216.3h0M141.1 215.0h0M141.1 213.7h0M141.1 212.4h0M141.1 211.1h0M141.3 209.8h0M141.5 208.5h0M141.8 207.3h0M142.2 206.0h0M142.7 204.8h0M143.2 203.6h0M143.8 202.4h0M144.4 201.2h0M145.1 200.1h0M145.8 199.0h0M146.6 197.9h0M147.4 196.9h0M148.2 195.9h0M152.7 230.4h0M151.7 229.6h0M150.8 228.7h0M149.9 227.8h0M149.0 226.9h0M148.2 225.9h0M147.3 224.9h0M146.6 223.9h0M145.9 222.8h0M145.2 221.8h0M144.6 220.6h0M144.0 219.5h0M143.6 218.3h0M143.2 217.1h0M142.9 215.8h0M142.7 214.5h0M142.6 213.2h0M142.7 211.9h0M142.8 210.6h0M143.1 209.3h0M143.4 208.1h0M143.9 206.8h0M144.4 205.6h0M145.0 204.5h0M145.7 203.3h0M146.5 202.2h0M147.3 201.2h0M148.1 200.2h0M149.0 199.2h0M149.9 198.2h0" stroke="#a5a5a5" stroke-width="1.75" stroke-linecap="round" fill="none"/>
<path d="M131.3 184.7h0M133.1 183.3h0M134.2 181.6h0M135.6 180.2h0M137.0 178.6h0M138.7 176.8h0M140.0 175.2h0M141.5 174.0h0M143.1 172.0h0M144.5 170.4h0M131.4 240.5h0M132.8 241.7h0M134.5 243.1h0M136.1 244.6h0M137.4 246.0h0M138.9 247.4h0M140.4 248.9h0M142.0 250.4h0M143.2 251.7h0M144.9 253.1h0M146.4 254.4h0M147.7 256.1h0M149.4 257.4h0M151.1 258.7h0M152.5 260.3h0M153.9 261.8h0" stroke="#a5a5a5" stroke-width="2.3" stroke-linecap="round" fill="none"/>
<rect x="103.5" y="141" width="161.5" height="144" fill="none" stroke="#111" stroke-width="1.5"/>
<line x1="100.7" y1="146.0" x2="103.5" y2="146.0" stroke="#111" stroke-width="1.3"/>
<text font-size="12.6" text-anchor="middle" transform="translate(99.30 149.00) rotate(-90) scale(1.035 1)" stroke="#1a1a1a" stroke-width="0.25">10</text>
<line x1="100.7" y1="179.5" x2="103.5" y2="179.5" stroke="#111" stroke-width="1.3"/>
<text font-size="12.6" text-anchor="middle" transform="translate(99.30 182.50) rotate(-90) scale(1.035 1)" stroke="#1a1a1a" stroke-width="0.25">5</text>
<line x1="100.7" y1="213.0" x2="103.5" y2="213.0" stroke="#111" stroke-width="1.3"/>
<text font-size="12.6" text-anchor="middle" transform="translate(99.30 213.50) rotate(-90) scale(1.035 1)" stroke="#1a1a1a" stroke-width="0.25">0</text>
<line x1="100.7" y1="246.5" x2="103.5" y2="246.5" stroke="#111" stroke-width="1.3"/>
<text font-size="12.6" text-anchor="middle" transform="translate(99.30 247.30) rotate(-90) scale(1.035 1)" stroke="#1a1a1a" stroke-width="0.25">-5</text>
<line x1="100.7" y1="280.0" x2="103.5" y2="280.0" stroke="#111" stroke-width="1.3"/>
<text font-size="12.6" text-anchor="middle" transform="translate(99.30 280.80) rotate(-90) scale(1.035 1)" stroke="#1a1a1a" stroke-width="0.25">-10</text>
<line x1="110.0" y1="285" x2="110.0" y2="288.3" stroke="#111" stroke-width="1.3"/>
<text font-size="12.8" text-anchor="middle" transform="matrix(1 0 0 1.035 110.00 301.00)" stroke="#1a1a1a" stroke-width="0.25">0</text>
<line x1="159.6" y1="285" x2="159.6" y2="288.3" stroke="#111" stroke-width="1.3"/>
<text font-size="12.8" text-anchor="middle" transform="matrix(1 0 0 1.035 159.60 301.00)" stroke="#1a1a1a" stroke-width="0.25">5</text>
<line x1="209.2" y1="285" x2="209.2" y2="288.3" stroke="#111" stroke-width="1.3"/>
<text font-size="12.8" text-anchor="middle" transform="matrix(1 0 0 1.035 209.20 301.00)" stroke="#1a1a1a" stroke-width="0.25">10</text>
<line x1="258.8" y1="285" x2="258.8" y2="288.3" stroke="#111" stroke-width="1.3"/>
<text font-size="12.8" text-anchor="middle" transform="matrix(1 0 0 1.035 258.80 301.00)" stroke="#1a1a1a" stroke-width="0.25">15</text>
<text font-size="12.8" text-anchor="middle" transform="translate(83.00 213.00) rotate(-90) scale(1.035 1)" stroke="#1a1a1a" stroke-width="0.25">log<tspan font-size="9" dy="3.5">2</tspan><tspan dy="-3.5">(Fold Change)</tspan></text>
<path d="M165.3 235.3h0M167.7 235.7h0M170.1 234.8h0M172.5 232.8h0M174.1 235.3h0M166.1 240.1h0M169.3 241.7h0M171.7 240.9h0M174.1 239.3h0M165.3 244.1h0M169.3 246.5h0M166.1 250.5h0M174.9 250.5h0M181.3 244.1h0M183.7 242.5h0M182.1 261.8h0M190.1 267.7h0M198.2 267.1h0M200.6 258.2h0M211.8 264.5h0M206.2 251.3h0M222.3 252.6h0M235.1 249.2h0M203.0 247.3h0M199.8 244.9h0M198.2 239.6h0M201.4 235.7h0M203.8 236.9h0M195.0 230.9h0M199.8 230.4h0M210.2 235.3h0M191.0 244.9h0M189.3 240.6h0M157.2 244.1h0M159.6 245.7h0M152.4 262.6h0M154.8 264.2h0M159.6 267.4h0M162.8 270.6h0M168.5 274.6h0" stroke="#3fbd62" stroke-width="3.2" stroke-linecap="round" fill="none"/>
<path d="M152.0 163.8h0M158.9 179.9h0M159.3 185.5h0M161.7 187.9h0M166.5 191.1h0M169.7 188.7h0M168.9 192.3h0M171.3 192.3h0M172.9 184.7h0M175.7 182.6h0M174.5 189.5h0M177.7 190.3h0M178.5 193.2h0M181.0 187.9h0M187.9 191.6h0M188.2 193.2h0M195.4 193.5h0M238.3 189.5h0" stroke="#e41e78" stroke-width="3.2" stroke-linecap="round" fill="none"/>
<circle cx="164.6" cy="188.7" r="1.55" fill="#f5b733" stroke="#111" stroke-width="1.3"/>
<circle cx="193.3" cy="191.6" r="1.55" fill="#f5b733" stroke="#111" stroke-width="1.3"/>
<circle cx="192.7" cy="195.1" r="1.55" fill="#f5b733" stroke="#111" stroke-width="1.3"/>
<circle cx="202.6" cy="193.5" r="1.55" fill="#f5b733" stroke="#111" stroke-width="1.3"/>
<circle cx="208.3" cy="189.2" r="1.55" fill="#f5b733" stroke="#111" stroke-width="1.3"/>
<circle cx="208.7" cy="191.6" r="1.55" fill="#f5b733" stroke="#111" stroke-width="1.3"/>
<circle cx="213.9" cy="195.6" r="1.55" fill="#f5b733" stroke="#111" stroke-width="1.3"/>
<circle cx="218.4" cy="189.2" r="1.55" fill="#f5b733" stroke="#111" stroke-width="1.3"/>
<circle cx="224.3" cy="190.3" r="1.55" fill="#f5b733" stroke="#111" stroke-width="1.3"/>
<circle cx="232.3" cy="194.3" r="1.55" fill="#f5b733" stroke="#111" stroke-width="1.3"/>
<circle cx="239.9" cy="196.0" r="1.55" fill="#f5b733" stroke="#111" stroke-width="1.3"/>
<circle cx="159.3" cy="239.3" r="1.55" fill="#9ef0fa" stroke="#111" stroke-width="1.3"/>
<circle cx="178.9" cy="235.6" r="1.55" fill="#9ef0fa" stroke="#111" stroke-width="1.3"/>
<circle cx="182.9" cy="232.8" r="1.55" fill="#9ef0fa" stroke="#111" stroke-width="1.3"/>
<circle cx="187.3" cy="237.2" r="1.55" fill="#9ef0fa" stroke="#111" stroke-width="1.3"/>
<circle cx="177.3" cy="246.0" r="1.55" fill="#9ef0fa" stroke="#111" stroke-width="1.3"/>
<circle cx="183.2" cy="248.4" r="1.55" fill="#9ef0fa" stroke="#111" stroke-width="1.3"/>
<circle cx="179.2" cy="254.0" r="1.55" fill="#9ef0fa" stroke="#111" stroke-width="1.3"/>
<circle cx="212.1" cy="232.5" r="1.55" fill="#9ef0fa" stroke="#111" stroke-width="1.3"/>
<text font-size="12.8" text-anchor="end" fill="#e41e78" transform="matrix(1 0 0 1.035 262.80 153.60)" stroke="#e41e78" stroke-width="0.25">31 genes</text>
<text font-size="12.8" text-anchor="end" fill="#3fbd62" transform="matrix(1 0 0 1.035 262.80 280.20)" stroke="#3fbd62" stroke-width="0.25">75 genes</text>
<path d="M328.9 213.0 330.0 208.3 331.0 206.3 332.1 204.8 333.1 203.5 334.2 202.4 335.2 201.4 336.2 200.4 337.3 200.4 338.3 200.5 339.4 200.7 340.4 200.8 341.5 201.0 342.5 201.2 343.6 201.3 344.6 201.5 345.7 201.7 346.7 201.8 347.7 202.0 348.8 202.1 349.8 202.3 350.9 202.5 351.9 202.6 353.0 202.8 354.0 202.9 355.1 203.1 356.1 203.3 357.2 203.4 358.2 203.6 359.2 203.7 360.3 203.9 361.3 204.1 362.4 204.2 363.4 204.4 364.5 204.6 365.5 204.7 366.6 204.9 367.6 205.1 368.7 205.2 369.7 205.4 370.7 205.6 371.8 205.7 372.8 205.9 373.9 206.1 374.9 206.2 376.0 206.4 377.0 206.5 378.1 206.7 379.1 206.9 380.2 207.0 381.2 207.2 382.2 207.4 383.3 207.5 384.3 207.7 385.4 207.8 386.4 208.0 387.5 208.2 388.5 208.3 389.6 208.5 390.6 208.7 391.6 208.8 392.7 209.0 393.7 209.1 394.8 209.3 395.8 209.5 396.9 209.6 397.9 209.8 399.0 210.0 400.0 210.1 401.1 210.3 402.1 210.5 403.1 210.6 404.2 210.8 405.2 210.9 406.3 211.1 407.3 211.3 408.4 211.5 409.4 211.8 410.5 212.0 411.5 212.2 412.6 212.5 412.6 214.0 411.5 214.6 410.5 215.1 409.4 215.7 408.4 216.2 407.3 216.8 406.3 217.0 405.2 217.1 404.2 217.3 403.1 217.5 402.1 217.6 401.1 217.8 400.0 217.9 399.0 218.1 397.9 218.3 396.9 218.4 395.8 218.6 394.8 218.7 393.7 218.8 392.7 218.9 391.6 218.9 390.6 219.0 389.6 219.1 388.5 219.2 387.5 219.3 386.4 219.4 385.4 219.4 384.3 219.5 383.3 219.6 382.2 219.7 381.2 219.8 380.2 219.8 379.1 219.9 378.1 220.0 377.0 220.1 376.0 220.2 374.9 220.2 373.9 220.3 372.8 220.4 371.8 220.5 370.7 220.6 369.7 220.7 368.7 220.8 367.6 220.9 366.6 221.1 365.5 221.2 364.5 221.3 363.4 221.4 362.4 221.5 361.3 221.6 360.3 221.7 359.2 221.9 358.2 222.0 357.2 222.1 356.1 222.3 355.1 222.4 354.0 222.5 353.0 222.6 351.9 222.8 350.9 222.9 349.8 223.0 348.8 223.2 347.7 223.3 346.7 223.5 345.7 223.6 344.6 223.8 343.6 223.9 342.5 224.1 341.5 224.3 340.4 224.4 339.4 224.6 338.3 224.8 337.3 224.9 336.2 225.1 335.2 224.6 334.2 223.6 333.1 222.5 332.1 221.2 331.0 219.7 330.0 217.7 328.9 213.0Z" fill="#a5a5a5" stroke="#a5a5a5" stroke-width="1" stroke-linejoin="round"/>
<path d="M410.1 209.5h0M369.6 203.5h0M355.9 225.1h0M356.9 203.3h0M358.2 223.1h0M362.6 203.7h0M349.8 224.6h0M377.3 225.0h0M386.0 222.6h0M351.3 195.3h0M389.5 220.5h0M360.0 223.3h0M351.4 197.4h0M366.1 202.0h0M344.3 198.8h0M361.0 224.0h0M349.0 224.7h0M371.4 224.3h0M374.6 220.8h0M343.7 225.1h0M336.9 225.0h0M342.4 200.1h0M338.6 200.5h0M391.9 224.1h0M420.5 211.1h0M375.6 206.1h0M367.6 203.5h0M369.6 220.8h0M361.3 227.6h0M344.9 224.4h0M371.5 203.0h0M355.5 203.2h0M354.6 200.2h0M337.8 199.9h0M362.2 222.3h0M343.8 231.2h0M356.1 201.3h0M355.2 202.7h0M400.3 219.5h0M370.1 196.4h0M411.8 212.3h0M354.7 222.9h0M336.3 226.1h0M336.5 225.5h0M353.6 199.8h0M339.1 224.8h0M373.3 203.4h0M375.4 203.5h0M351.6 199.0h0M362.7 228.3h0M348.2 200.6h0M355.8 227.8h0M351.5 202.2h0M438.7 210.2h0M348.2 225.7h0M356.5 222.5h0M381.2 231.5h0M366.6 203.6h0M368.6 221.3h0M359.4 224.6h0M381.5 200.0h0M388.0 222.4h0M344.5 224.9h0M374.3 220.3h0M385.2 224.7h0M387.7 219.7h0M339.9 199.5h0M365.9 221.6h0M359.6 224.2h0M359.6 202.9h0M360.9 221.9h0M341.8 197.7h0M377.3 202.2h0M341.3 199.6h0M363.6 222.7h0M348.8 224.6h0M373.9 203.7h0M372.4 222.1h0M399.1 209.2h0M357.7 222.8h0M338.5 199.5h0M349.4 200.9h0M356.7 227.2h0M356.7 197.5h0M337.8 225.3h0M352.5 199.2h0M401.9 218.8h0M350.7 228.7h0M379.3 222.9h0M423.7 217.1h0M347.9 199.5h0M353.8 195.9h0M359.0 222.4h0M351.2 228.4h0M391.0 207.0h0M347.6 201.6h0M340.2 200.2h0M345.8 201.0h0M370.1 221.7h0M362.4 222.4h0M370.1 192.3h0M358.8 222.8h0M368.8 222.5h0M357.5 201.8h0M338.3 225.1h0M377.9 206.5h0M338.2 200.1h0M376.7 228.0h0M365.3 203.2h0M343.2 227.8h0M378.2 206.4h0M339.6 200.5h0M418.9 216.8h0M338.2 198.3h0M352.7 201.5h0M353.9 226.2h0M358.7 225.1h0M344.7 226.4h0M367.2 223.2h0M381.1 219.9h0M406.0 209.1h0M343.0 226.3h0M358.1 222.5h0M380.8 224.9h0M354.8 200.2h0M375.4 203.6h0M350.2 224.1h0M393.2 205.6h0M357.5 202.1h0M342.7 200.7h0M366.6 221.5h0M370.6 225.4h0M348.8 198.1h0M349.4 199.4h0M356.6 199.4h0M367.2 221.3h0M352.6 224.6h0M373.8 223.9h0M343.3 228.6h0M381.0 206.6h0M335.5 225.6h0M353.5 195.1h0M358.9 203.1h0M363.2 221.6h0M381.7 205.7h0M361.4 225.0h0M381.4 206.7h0M359.1 203.4h0M363.6 223.7h0M338.0 225.0h0M356.4 223.0h0M358.8 202.7h0M338.3 225.8h0M372.7 225.4h0M350.6 223.0h0M363.8 203.2h0M377.1 201.4h0M345.6 196.7h0M368.8 204.7h0M360.7 201.6h0M362.0 222.7h0M339.3 199.3h0M361.9 222.8h0M399.4 218.4h0M339.4 224.6h0M366.3 203.6h0M355.5 222.9h0M348.5 231.2h0M366.2 221.7h0M352.0 224.1h0M365.1 222.6h0M389.7 220.7h0M388.2 201.2h0M368.9 222.1h0M370.7 202.9h0M399.2 218.4h0M374.2 221.8h0M401.7 223.0h0M354.3 225.9h0M376.7 205.4h0M357.5 197.2h0M369.5 221.2h0M349.8 200.3h0M350.0 228.0h0M366.7 202.8h0M348.6 225.0h0M358.2 223.5h0M345.4 198.8h0M367.7 225.3h0M361.5 202.9h0M351.8 223.3h0M370.6 205.2h0M336.9 199.8h0M353.8 222.6h0M348.7 200.7h0M400.9 219.1h0M401.7 206.8h0M339.3 199.3h0M344.6 226.0h0M373.7 220.7h0M338.1 226.3h0M370.4 227.6h0M343.0 201.2h0M373.0 224.7h0M359.3 222.0h0M405.4 218.1h0M340.9 226.2h0M363.4 227.3h0M350.3 201.9h0M354.7 199.1h0M350.8 229.8h0M346.7 196.6h0M409.6 216.1h0M371.2 203.9h0M360.9 202.7h0M338.2 199.6h0M365.7 221.8h0M350.5 223.3h0M341.7 200.8h0M355.7 223.5h0M352.9 202.4h0M346.6 224.1h0M355.0 226.5h0M366.9 203.1h0M357.9 226.1h0M358.6 203.3h0M403.6 201.6h0M361.2 203.7h0M361.8 201.6h0M365.6 203.0h0M397.5 224.4h0M406.5 210.5h0M371.0 200.3h0M349.7 230.0h0M358.4 203.5h0M377.4 206.5h0M355.1 223.4h0M339.8 225.3h0M341.8 225.4h0M390.4 225.3h0M370.3 205.3h0M343.5 228.1h0M338.2 227.2h0M354.8 227.2h0M383.1 207.4h0M345.2 224.2h0M378.0 201.6h0M373.8 222.9h0M343.5 197.9h0M338.2 200.0h0M347.5 227.1h0M374.7 223.6h0M349.0 224.6h0M369.9 228.0h0M373.7 222.0h0M344.9 201.2h0M369.7 205.0h0M352.6 201.5h0M350.5 223.3h0M358.6 222.0h0M343.5 201.2h0M338.5 226.7h0M382.8 205.7h0M393.3 205.8h0M374.6 221.7h0M367.8 228.6h0M350.1 197.4h0M390.4 208.2h0M355.4 226.6h0M347.0 197.3h0M367.8 200.8h0M359.7 222.7h0M357.8 224.9h0M382.1 203.7h0M373.6 220.5h0M362.8 204.0h0M388.8 228.7h0M429.3 214.4h0M423.6 214.8h0M353.4 225.5h0M339.8 200.6h0M406.6 217.6h0M342.3 200.2h0M356.1 199.0h0M343.6 227.7h0M344.0 199.7h0M363.0 204.1h0M341.8 224.6h0M339.2 225.5h0M370.1 203.3h0M371.9 221.1h0M342.7 197.9h0M369.5 203.4h0M349.6 201.6h0M383.9 220.9h0M414.8 217.0h0M354.5 224.5h0M347.4 195.0h0M338.5 225.5h0M360.0 200.6h0M365.9 223.1h0M356.1 223.4h0M362.4 222.6h0M378.3 205.6h0M394.4 219.3h0M352.6 223.4h0M342.4 226.0h0M380.1 205.1h0M338.0 200.2h0M347.1 230.8h0M355.4 203.0h0M340.2 197.1h0M381.6 201.8h0M345.1 200.0h0M378.4 197.7h0M346.5 201.0h0M342.4 225.0h0M344.5 195.2h0M360.7 222.6h0M348.5 224.6h0M393.6 202.9h0M362.2 203.9h0M373.3 203.4h0M394.4 221.3h0M416.8 210.5h0M363.9 223.8h0M348.9 223.7h0M359.6 203.3h0M364.8 222.4h0M389.9 219.9h0M372.1 203.8h0M342.3 199.8h0M346.7 199.2h0M352.9 225.3h0M372.3 220.8h0M352.1 223.3h0M351.6 223.3h0M361.0 200.1h0M364.2 221.9h0M345.4 200.4h0M360.7 239.6h0M350.1 202.1h0M363.0 202.3h0M354.5 223.5h0M358.2 225.4h0M353.7 224.7h0M368.4 202.5h0M396.5 221.5h0M362.9 199.1h0M355.2 199.4h0M352.7 202.7h0M340.5 200.1h0M338.5 197.9h0M390.4 207.7h0M382.9 221.4h0M345.2 225.0h0M354.3 201.4h0M351.2 224.9h0M338.9 198.5h0M345.4 231.0h0M363.3 222.8h0M349.2 200.9h0M370.7 226.2h0M348.8 223.2h0M355.5 222.4h0M343.5 224.9h0M351.0 202.1h0M365.7 221.2h0M347.7 201.9h0M337.0 199.0h0M390.6 221.9h0M336.7 225.8h0M343.6 225.5h0M377.2 221.1h0M361.8 202.2h0M364.2 203.9h0M355.0 198.5h0M361.8 222.7h0M346.0 200.9h0M359.0 224.3h0M365.2 222.8h0M404.9 207.9h0M357.2 222.2h0M364.3 228.8h0M388.2 220.9h0M395.4 205.8h0M363.1 222.0h0M359.5 203.4h0M345.8 228.5h0M362.3 223.1h0M377.2 205.9h0M354.3 201.4h0M392.7 221.5h0M356.7 223.0h0M349.7 224.8h0M382.2 205.6h0M341.6 198.5h0M354.4 222.6h0M358.3 223.7h0M380.4 206.4h0M384.7 226.3h0M343.5 225.3h0M379.2 199.5h0M387.4 203.0h0M384.3 224.2h0M340.6 224.8h0M421.6 209.2h0M372.3 220.7h0M387.2 208.1h0M350.0 228.2h0M430.4 216.7h0M344.3 225.7h0M360.4 225.8h0M342.8 199.5h0M397.1 208.4h0M346.8 200.1h0M374.7 220.7h0M357.3 222.6h0M377.9 202.9h0M364.3 203.4h0M385.1 220.9h0M351.7 202.1h0M354.8 223.6h0M361.7 221.9h0M390.9 226.0h0M352.4 231.3h0M338.7 200.2h0M394.1 207.2h0M359.7 203.1h0M342.4 227.2h0M346.0 227.3h0M350.1 224.2h0M375.1 202.1h0M371.7 205.3h0M352.2 201.3h0M352.5 201.0h0M384.3 219.5h0M354.4 223.2h0M342.4 200.0h0M347.3 192.4h0M343.5 201.1h0M374.7 205.2h0M343.1 200.8h0M358.9 198.9h0M341.9 200.7h0M353.3 222.8h0M412.0 210.3h0M362.4 223.2h0M342.1 200.7h0M368.4 204.9h0M353.7 232.9h0M352.8 198.0h0M376.6 220.8h0M358.7 224.0h0M424.9 216.8h0M354.8 202.4h0M345.6 226.4h0M355.5 225.5h0M354.5 223.5h0M375.6 221.1h0M370.3 201.4h0M364.4 225.3h0M362.9 201.0h0M359.8 197.3h0M347.0 223.5h0M348.3 201.9h0M352.1 226.5h0M380.4 220.6h0M409.1 216.3h0M371.8 222.0h0M342.6 224.8h0M343.9 228.3h0M377.9 204.5h0M392.7 220.6h0M351.8 200.1h0M396.9 209.1h0M341.1 227.7h0M363.1 202.3h0M371.8 201.4h0M366.7 223.5h0M370.6 222.5h0M353.6 225.5h0M385.2 205.6h0M393.6 208.5h0M356.0 203.1h0M354.6 203.0h0M381.4 205.6h0M360.4 196.1h0M366.5 222.3h0M433.6 220.6h0M340.3 200.4h0M349.7 201.6h0M367.2 202.3h0M344.6 197.4h0M346.0 195.2h0M349.6 224.4h0M367.0 204.1h0M357.3 227.2h0M344.1 200.6h0M358.7 223.5h0M338.9 199.4h0M363.9 222.2h0M348.3 223.9h0M383.6 206.2h0M338.1 225.7h0M338.6 225.6h0M386.6 207.4h0M376.1 223.5h0M357.9 222.3h0M368.5 205.1h0M340.6 225.5h0M358.5 202.4h0M410.3 211.6h0M344.0 223.9h0M398.3 219.2h0M353.7 197.7h0M352.9 202.5h0M361.3 203.8h0M354.3 223.9h0M372.2 203.4h0M349.0 224.3h0M350.8 202.2h0M366.6 202.3h0M351.1 223.8h0M359.6 203.4h0M365.2 221.2h0M356.1 225.3h0M392.3 208.4h0M405.1 221.7h0M396.3 209.5h0M336.3 226.2h0M344.1 225.1h0M377.6 206.4h0M339.2 199.9h0M367.4 221.4h0M367.9 203.9h0M344.5 197.9h0M406.5 210.1h0M360.6 203.8h0M337.2 225.2h0M363.6 225.2h0M398.2 221.9h0M408.2 218.8h0M344.9 199.7h0M341.1 224.5h0M391.3 221.9h0M370.9 224.7h0M354.7 224.6h0M349.0 224.3h0M339.1 226.2h0M343.6 227.8h0M361.8 225.2h0M395.8 218.9h0M343.9 198.9h0M351.9 201.3h0M363.7 204.3h0M356.9 196.7h0M335.7 200.1h0M381.2 206.8h0M357.7 203.1h0M347.5 194.6h0M346.8 224.2h0M347.8 199.2h0M353.6 230.8h0M388.5 204.8h0M344.1 199.2h0M368.2 204.1h0M352.1 193.3h0M358.9 222.7h0M361.0 227.1h0M343.5 224.0h0M347.4 223.7h0M338.1 225.5h0M366.8 203.6h0M360.6 202.3h0M364.0 204.1h0M359.3 222.5h0M419.9 215.6h0M352.9 230.6h0M352.2 222.7h0M372.9 221.5h0M337.1 199.9h0M344.4 225.9h0M401.0 202.1h0M363.1 222.3h0M352.8 201.6h0M351.2 227.0h0M346.2 200.1h0M406.7 217.1h0M357.3 223.5h0M378.5 222.8h0M355.5 222.3h0M369.7 224.4h0M391.6 219.8h0M346.1 227.3h0M420.8 211.1h0M347.2 223.6h0M345.5 201.3h0M350.1 201.4h0M358.9 202.1h0M364.3 222.3h0M356.0 223.4h0M378.7 220.3h0M405.6 209.8h0M360.9 222.7h0M339.6 199.7h0M403.4 219.3h0M339.8 226.4h0M349.7 202.1h0M358.9 223.4h0M364.5 221.7h0M387.8 207.8h0M381.4 220.6h0M356.7 202.0h0M388.0 222.1h0M349.3 200.2h0M384.4 207.0h0M367.2 204.9h0M395.3 208.3h0M366.4 204.0h0M346.3 200.0h0M337.8 226.3h0M383.5 220.2h0M358.4 222.6h0M353.1 223.9h0M344.4 199.8h0M366.4 199.6h0M373.1 205.9h0M355.2 193.4h0M347.2 224.7h0M415.8 211.2h0M379.5 204.5h0M385.4 204.2h0M355.4 226.3h0M372.6 220.6h0M361.5 200.4h0M417.8 214.3h0M356.2 222.4h0M381.9 206.3h0M337.5 199.9h0M338.7 199.4h0M384.3 222.8h0M383.5 220.6h0M351.0 199.6h0M347.8 223.5h0M353.6 202.4h0M427.7 212.2h0M338.3 225.5h0M349.0 202.0h0M371.8 221.9h0M340.7 196.6h0M363.9 198.8h0M339.5 226.3h0M339.2 199.8h0M341.1 229.7h0M375.3 205.5h0M336.2 225.7h0M375.5 222.1h0M386.3 221.8h0M360.3 224.6h0M345.1 194.8h0M356.9 225.8h0M349.3 226.1h0M336.9 225.0h0M360.6 224.8h0M345.4 223.8h0M349.7 197.4h0M340.6 199.9h0M375.8 203.8h0M340.0 226.2h0M375.5 222.4h0M345.5 200.9h0M358.7 201.0h0M354.0 196.8h0M359.7 224.3h0M350.5 224.5h0M385.2 219.9h0M357.8 203.1h0M362.1 222.3h0M359.9 203.1h0M344.8 201.4h0M424.6 215.7h0M406.2 218.0h0M350.9 202.0h0M398.6 205.8h0M380.9 206.4h0M338.4 197.8h0M381.3 219.9h0M391.8 208.3h0M354.3 223.3h0M378.8 204.9h0M400.0 205.1h0M354.1 223.8h0M374.2 205.7h0M358.8 198.3h0M370.9 221.7h0M371.1 221.3h0M337.5 226.6h0M362.2 221.8h0M362.9 224.6h0M421.3 211.8h0M384.5 206.8h0M377.5 204.5h0M360.6 222.2h0M366.0 202.7h0M350.4 224.9h0M396.4 225.8h0M383.6 207.6h0M358.3 198.0h0M411.5 211.3h0M356.1 229.0h0M342.6 225.7h0M343.9 228.5h0M406.9 217.5h0M354.1 225.3h0M345.8 224.7h0M391.3 208.0h0M352.1 223.0h0M374.7 221.0h0M384.0 222.5h0M346.0 194.1h0M378.7 204.9h0M352.4 224.9h0M399.8 206.9h0M357.1 223.4h0M364.3 198.9h0M373.5 202.1h0M370.4 203.1h0M358.5 202.9h0M386.4 206.9h0M371.4 223.0h0M359.3 203.5h0M342.0 200.2h0M380.9 206.6h0M349.6 223.3h0M344.7 197.4h0M375.3 206.0h0M353.8 200.7h0M349.1 225.1h0M377.6 204.4h0M391.6 222.0h0M374.9 220.3h0M348.8 201.7h0M354.6 202.0h0M351.5 224.5h0M359.8 226.2h0M379.1 206.8h0M359.2 221.9h0M344.2 201.0h0M353.1 222.8h0M354.3 222.9h0M388.1 205.6h0M414.4 211.7h0M382.6 205.4h0M366.7 225.3h0M356.2 200.3h0M339.0 225.3h0M341.6 224.5h0M421.5 214.5h0M341.2 224.8h0M385.7 205.6h0M350.6 199.1h0M340.1 200.3h0M362.6 229.3h0M363.9 224.0h0M376.4 222.1h0M373.7 204.3h0M382.2 206.1h0M345.9 225.7h0M341.9 200.5h0M351.9 201.3h0M344.7 199.0h0M370.0 221.4h0M339.7 199.7h0M355.2 226.4h0M401.1 208.8h0M347.8 223.5h0M360.4 221.8h0M375.3 221.0h0M343.6 200.9h0M348.1 223.8h0M337.4 200.1h0M337.5 198.9h0M357.3 202.1h0M384.2 220.8h0M389.4 206.6h0M386.5 221.5h0M364.2 203.9h0M357.3 227.1h0M387.8 219.5h0M346.8 201.7h0M362.1 226.6h0M345.7 225.5h0M337.8 225.8h0M348.2 226.3h0M362.2 222.0h0M370.0 204.9h0M359.5 200.3h0M385.0 222.7h0M345.5 226.3h0M372.9 204.5h0M374.3 205.6h0M376.5 200.6h0M435.0 212.0h0M356.4 201.4h0M364.4 203.5h0M369.4 199.5h0M342.0 200.0h0M369.1 199.6h0M338.6 227.7h0M380.5 221.3h0M354.7 199.8h0M381.8 204.2h0M353.6 223.1h0M355.6 223.1h0M363.5 201.1h0M350.0 199.4h0M433.3 214.3h0M426.6 209.6h0M341.7 198.7h0M346.2 201.1h0M346.4 225.6h0M367.0 204.6h0M371.9 220.7h0M367.5 223.3h0M352.2 229.7h0M397.6 209.3h0M345.8 195.3h0M389.9 220.2h0M367.9 201.3h0M350.6 227.3h0M414.7 212.3h0M414.5 208.2h0M373.6 229.3h0M365.5 203.7h0M347.9 226.3h0M375.0 205.0h0M361.5 226.7h0M347.1 197.6h0M356.4 201.8h0M349.1 225.3h0M346.9 230.8h0M346.8 199.0h0M354.1 200.8h0M344.1 225.2h0M377.8 199.7h0M369.7 204.9h0M361.2 225.5h0M358.5 203.6h0M371.2 224.8h0M345.4 198.9h0M355.1 222.7h0M353.6 198.2h0M343.0 225.7h0M356.5 225.8h0M348.7 223.8h0M369.3 220.8h0M347.2 223.7h0M400.5 209.3h0M339.9 199.3h0M343.0 200.8h0M343.4 200.0h0M393.2 208.3h0M348.1 201.9h0M349.9 197.5h0M345.0 199.0h0M356.4 223.0h0M373.8 203.6h0M352.4 222.9h0M360.2 222.3h0M399.5 209.1h0M340.9 224.5h0M409.1 211.5h0M374.9 220.5h0M350.9 194.8h0M365.5 204.5h0M410.7 207.7h0M426.8 210.5h0M345.1 228.2h0M375.5 221.0h0M340.3 226.2h0M367.1 224.4h0M366.0 203.9h0M358.8 222.0h0M357.7 202.9h0M345.3 228.4h0M431.7 210.8h0M339.7 225.7h0M344.1 201.4h0M350.5 223.2h0M343.8 226.7h0M393.0 205.4h0M339.0 226.0h0M397.6 209.3h0M365.1 223.4h0M383.8 219.6h0M353.5 223.4h0M362.0 203.9h0M363.4 202.3h0M368.2 204.9h0M362.4 222.0h0M352.7 193.1h0M340.4 197.7h0M347.5 226.0h0M377.3 220.5h0M393.3 208.9h0M370.1 221.2h0M367.6 204.6h0M350.9 226.5h0M373.5 221.3h0M377.2 204.7h0M344.1 226.0h0M360.7 203.8h0M349.0 200.6h0M382.6 203.8h0M369.1 220.9h0M336.9 199.1h0M338.2 226.7h0M342.5 200.9h0M341.8 225.9h0M406.8 218.3h0M371.7 201.7h0M363.2 198.5h0M350.1 200.6h0M342.9 195.2h0M367.9 221.4h0M375.7 200.7h0M380.1 199.0h0M362.0 203.0h0M353.4 196.0h0M344.7 201.1h0M347.8 200.6h0M365.2 204.0h0M384.7 204.4h0M354.6 200.0h0M393.2 208.2h0M383.7 201.9h0M345.6 227.4h0M346.1 200.0h0M336.0 225.8h0M349.0 196.6h0M372.5 224.6h0M343.0 226.3h0M425.2 212.0h0M364.7 225.4h0M374.4 203.4h0M362.5 223.1h0M346.0 225.3h0M368.7 205.0h0M360.6 201.7h0M346.0 201.2h0M377.5 224.8h0M399.4 204.8h0M349.7 200.0h0M343.4 197.7h0M379.2 222.2h0M346.5 201.2h0M419.1 214.6h0M335.8 199.9h0M384.8 220.8h0M343.7 231.2h0M371.9 221.7h0M394.1 207.8h0M339.1 197.7h0M336.7 198.9h0M355.4 202.0h0M358.4 201.8h0M342.3 201.1h0M350.4 223.1h0M383.0 205.6h0M353.0 225.0h0M341.2 224.4h0M356.9 198.1h0M355.4 197.4h0M340.3 227.1h0M368.3 202.6h0M373.8 221.7h0M385.4 204.8h0M337.0 225.7h0M356.2 222.9h0M375.2 202.8h0M359.8 224.4h0M399.4 210.0h0M363.5 222.0h0M394.3 220.7h0M359.8 203.0h0M431.6 210.1h0M347.1 227.2h0M360.9 226.3h0M353.4 233.8h0M341.0 199.5h0M367.8 199.8h0M358.2 201.9h0M368.0 199.6h0M343.2 201.0h0M334.8 225.6h0M343.8 197.2h0M381.6 206.1h0M360.2 203.8h0M342.9 198.1h0M377.6 206.2h0M370.6 221.2h0M359.9 203.3h0M388.5 220.0h0M346.1 226.0h0M355.7 225.6h0M361.7 223.8h0M356.2 223.3h0M360.6 224.2h0M371.6 221.1h0M357.1 222.8h0M355.7 202.7h0M353.7 225.3h0M358.0 227.1h0M390.0 229.4h0M370.0 204.9h0M348.8 223.2h0M337.5 200.2h0M384.6 206.2h0M436.9 210.6h0M357.4 203.4h0M351.1 224.4h0M346.5 194.9h0M354.7 202.2h0M369.4 223.2h0M360.2 203.9h0M365.0 221.6h0M347.6 225.6h0M397.9 204.2h0M336.1 199.4h0M339.1 225.0h0M375.4 220.9h0M342.6 225.4h0M367.4 205.0h0M338.5 197.9h0M368.7 200.8h0M339.6 226.2h0M383.7 220.4h0M337.8 226.3h0M347.9 198.4h0M375.0 204.8h0M355.5 224.8h0M372.7 200.6h0M373.5 224.6h0M382.7 206.8h0M343.2 199.4h0M401.4 220.1h0M375.9 205.9h0M354.2 222.7h0M348.7 227.4h0M357.3 202.4h0M348.1 225.3h0M372.8 204.3h0M338.4 198.9h0M389.4 205.2h0M372.0 205.3h0M349.2 225.2h0M358.0 222.0h0M337.7 226.9h0M376.5 206.3h0M348.2 201.2h0M352.9 223.6h0M351.1 193.2h0M369.1 224.2h0M337.4 199.9h0M358.5 222.9h0M353.5 198.6h0M338.0 198.1h0M345.8 200.0h0M355.0 224.6h0M384.0 226.4h0M346.9 226.1h0M360.1 229.4h0M379.8 202.8h0M417.6 215.8h0M367.4 224.1h0M357.2 224.0h0M356.9 202.3h0M341.7 225.4h0M352.2 228.6h0M409.7 211.3h0M406.5 210.2h0M417.7 214.9h0M350.9 223.7h0M338.2 226.0h0M337.4 225.9h0M382.8 220.2h0M386.0 221.3h0M351.5 200.9h0M343.0 196.6h0M341.1 225.7h0M435.2 211.7h0M359.9 229.8h0M375.3 200.0h0M351.3 223.5h0M371.0 205.0h0M353.8 223.6h0M356.8 224.7h0M348.6 200.8h0M344.9 200.6h0M340.9 199.8h0M374.6 220.6h0M391.3 208.7h0M389.8 207.9h0M382.0 205.0h0M345.2 224.9h0M346.9 224.4h0M409.5 216.3h0M382.9 220.7h0M367.4 202.4h0M391.2 220.6h0M369.5 222.9h0M350.0 202.3h0M387.7 206.7h0M349.9 198.6h0M351.8 200.8h0M352.8 223.5h0M383.1 205.4h0M339.9 200.6h0M340.0 200.3h0M376.3 220.9h0M363.7 221.7h0M368.1 196.9h0M366.7 199.4h0M362.1 203.4h0M395.0 206.0h0M339.4 224.7h0M365.6 221.8h0M423.6 214.9h0M379.4 205.1h0M343.2 224.4h0M353.4 202.0h0M351.5 223.9h0M349.6 225.2h0M358.5 223.6h0M349.6 200.6h0M389.7 222.7h0M347.4 228.6h0M372.3 204.7h0M355.5 225.6h0M389.5 226.7h0M339.4 227.9h0M336.0 225.5h0M380.6 206.8h0M365.7 226.5h0M335.5 199.9h0M351.7 226.2h0M366.6 203.4h0M365.4 203.1h0M371.1 199.6h0M345.3 225.3h0M380.0 222.4h0M358.5 223.9h0M362.1 222.2h0M403.3 221.3h0M383.0 224.7h0M347.3 200.0h0M340.7 226.2h0M407.5 210.0h0M352.3 202.5h0M368.6 220.9h0M376.0 221.1h0M347.0 189.6h0M336.3 187.1h0M368.2 193.0h0M424.5 206.3h0M437.4 207.0h0M433.4 217.0h0M444.3 219.0h0M422.5 214.3h0M416.5 205.0h0" stroke="#a5a5a5" stroke-width="1.8" stroke-linecap="round" fill="none"/>
<path d="M333.4 236.4h0M330.5 234.2h0M327.7 231.8h0M325.2 229.2h0M322.8 226.4h0M320.7 223.4h0M319.1 220.1h0M318.0 216.6h0M317.6 212.9h0M318.1 209.1h0M319.3 205.4h0M321.2 201.9h0M323.5 198.7h0M324.1 223.1h0M323.0 220.4h0M322.2 217.5h0M321.8 214.6h0M321.7 211.6h0M322.2 208.6h0M323.0 205.7h0M324.1 202.9h0M324.8 201.7h0M325.5 200.5h0M326.3 199.3h0M327.1 198.1h0M327.9 197.0h0M328.8 195.9h0M329.7 194.8h0M330.7 193.7h0M331.7 192.7h0M332.7 191.7h0M333.7 190.8h0M334.8 189.8h0M332.6 231.8h0M331.5 230.8h0M330.5 229.9h0M329.5 228.9h0M328.6 227.9h0M327.7 226.9h0M326.8 225.9h0M326.0 224.8h0M325.2 223.6h0M336.4 231.8h0M335.4 230.9h0M334.5 230.1h0M333.5 229.2h0M332.6 228.4h0M331.7 227.5h0M330.8 226.5h0M330.0 225.5h0M329.2 224.5h0M328.4 223.5h0M327.7 222.4h0M327.1 221.3h0M326.5 220.2h0M326.0 219.0h0M325.5 217.8h0M325.2 216.6h0M324.9 215.3h0M324.8 214.0h0M324.8 212.7h0M324.8 211.4h0M325.0 210.2h0M325.3 208.9h0M325.7 207.6h0M326.2 206.4h0M326.8 205.2h0M327.4 204.1h0M328.1 202.9h0M328.9 201.9h0M329.7 200.8h0M330.5 199.8h0M331.4 198.8h0M332.4 197.9h0M333.3 197.0h0M334.3 196.1h0M335.3 195.2h0M338.5 229.1h0M337.4 228.3h0M336.4 227.6h0M335.4 226.8h0M334.4 225.9h0M333.5 225.1h0M332.6 224.2h0M331.7 223.3h0M330.9 222.3h0M330.1 221.3h0M329.4 220.3h0M328.7 219.2h0M328.2 218.0h0M327.7 216.8h0M327.3 215.6h0M327.1 214.3h0M327.0 213.0h0M327.1 211.7h0M327.3 210.4h0M327.7 209.2h0M328.2 207.9h0M328.8 206.8h0M329.5 205.6h0M330.2 204.5h0M331.0 203.5h0M331.9 202.5h0M332.8 201.5h0M333.8 200.6h0M334.8 199.8h0" stroke="#a5a5a5" stroke-width="1.7" stroke-linecap="round" fill="none"/>
<path d="M317.2 186.0h0M318.7 184.3h0M320.1 182.8h0M321.7 181.0h0M323.0 179.3h0M324.4 177.9h0M326.0 176.1h0M327.4 174.4h0M328.6 172.8h0M330.3 171.1h0M331.6 169.5h0M317.2 240.4h0M318.9 242.7h0M320.6 245.1h0M322.3 247.5h0" stroke="#a5a5a5" stroke-width="2.3" stroke-linecap="round" fill="none"/>
<rect x="289" y="141" width="161.5" height="144" fill="none" stroke="#111" stroke-width="1.5"/>
<line x1="286.2" y1="146.0" x2="289" y2="146.0" stroke="#111" stroke-width="1.3"/>
<text font-size="12.6" text-anchor="middle" transform="translate(284.80 149.00) rotate(-90) scale(1.035 1)" stroke="#1a1a1a" stroke-width="0.25">10</text>
<line x1="286.2" y1="179.5" x2="289" y2="179.5" stroke="#111" stroke-width="1.3"/>
<text font-size="12.6" text-anchor="middle" transform="translate(284.80 182.50) rotate(-90) scale(1.035 1)" stroke="#1a1a1a" stroke-width="0.25">5</text>
<line x1="286.2" y1="213.0" x2="289" y2="213.0" stroke="#111" stroke-width="1.3"/>
<text font-size="12.6" text-anchor="middle" transform="translate(284.80 213.50) rotate(-90) scale(1.035 1)" stroke="#1a1a1a" stroke-width="0.25">0</text>
<line x1="286.2" y1="246.5" x2="289" y2="246.5" stroke="#111" stroke-width="1.3"/>
<text font-size="12.6" text-anchor="middle" transform="translate(284.80 247.30) rotate(-90) scale(1.035 1)" stroke="#1a1a1a" stroke-width="0.25">-5</text>
<line x1="286.2" y1="280.0" x2="289" y2="280.0" stroke="#111" stroke-width="1.3"/>
<text font-size="12.6" text-anchor="middle" transform="translate(284.80 280.80) rotate(-90) scale(1.035 1)" stroke="#1a1a1a" stroke-width="0.25">-10</text>
<line x1="295.5" y1="285" x2="295.5" y2="288.3" stroke="#111" stroke-width="1.3"/>
<text font-size="12.8" text-anchor="middle" transform="matrix(1 0 0 1.035 295.50 301.00)" stroke="#1a1a1a" stroke-width="0.25">0</text>
<line x1="345.1" y1="285" x2="345.1" y2="288.3" stroke="#111" stroke-width="1.3"/>
<text font-size="12.8" text-anchor="middle" transform="matrix(1 0 0 1.035 345.10 301.00)" stroke="#1a1a1a" stroke-width="0.25">5</text>
<line x1="394.7" y1="285" x2="394.7" y2="288.3" stroke="#111" stroke-width="1.3"/>
<text font-size="12.8" text-anchor="middle" transform="matrix(1 0 0 1.035 394.70 301.00)" stroke="#1a1a1a" stroke-width="0.25">10</text>
<line x1="444.3" y1="285" x2="444.3" y2="288.3" stroke="#111" stroke-width="1.3"/>
<text font-size="12.8" text-anchor="middle" transform="matrix(1 0 0 1.035 444.30 301.00)" stroke="#1a1a1a" stroke-width="0.25">15</text>
<text font-size="13.2" text-anchor="middle" transform="matrix(1 0 0 1.035 369.75 312.00)" stroke="#1a1a1a" stroke-width="0.25">log<tspan font-size="9.2" dy="3.5">2</tspan><tspan dy="-3.5">(CPM)</tspan></text>
<path d="M348.8 177.2h0M351.7 181.7h0M354.5 179.3h0M362.3 182.4h0M364.7 182.6h0M384.3 187.1h0M386.0 175.5h0" stroke="#e41e78" stroke-width="3.2" stroke-linecap="round" fill="none"/>
<path d="M352.9 240.3h0M355.7 238.0h0M357.1 243.2h0M360.7 248.6h0M401.3 234.0h0" stroke="#3fbd62" stroke-width="3.2" stroke-linecap="round" fill="none"/>
<text font-size="12.8" text-anchor="end" fill="#e41e78" transform="matrix(1 0 0 1.035 448.00 153.60)" stroke="#e41e78" stroke-width="0.25">7 genes</text>
<text font-size="12.8" text-anchor="end" fill="#3fbd62" transform="matrix(1 0 0 1.035 448.00 280.20)" stroke="#3fbd62" stroke-width="0.25">5 genes</text>
<path d="M513.3 213.0 514.4 208.2 515.4 206.2 516.4 204.6 517.5 203.3 518.5 202.2 519.5 201.2 520.6 200.2 521.6 199.9 522.6 200.1 523.7 200.2 524.7 200.3 525.7 200.4 526.8 200.6 527.8 200.7 528.9 200.8 529.9 200.9 530.9 201.1 532.0 201.2 533.0 201.3 534.0 201.4 535.1 201.5 536.1 201.6 537.1 201.8 538.2 201.9 539.2 202.0 540.2 202.1 541.3 202.2 542.3 202.3 543.3 202.4 544.4 202.5 545.4 202.6 546.4 202.7 547.5 202.7 548.5 202.8 549.5 202.9 550.6 203.0 551.6 203.1 552.6 203.1 553.7 203.2 554.7 203.3 555.7 203.4 556.8 203.4 557.8 203.6 558.8 203.8 559.9 203.9 560.9 204.1 561.9 204.3 563.0 204.5 564.0 204.7 565.0 204.8 566.1 205.0 567.1 205.2 568.1 205.4 569.2 205.6 570.2 205.7 571.3 205.9 572.3 206.0 573.3 206.2 574.4 206.3 575.4 206.5 576.4 206.6 577.5 206.8 578.5 206.9 579.5 207.1 580.6 207.2 581.6 207.5 582.6 207.8 583.7 208.0 584.7 208.3 585.7 208.6 586.8 208.9 587.8 209.1 588.8 209.4 589.9 209.7 590.9 210.0 591.9 210.2 593.0 210.6 594.0 211.0 595.0 211.5 596.1 212.0 596.1 214.0 595.0 214.5 594.0 215.1 593.0 215.6 591.9 216.0 590.9 216.3 589.9 216.6 588.8 216.9 587.8 217.2 586.8 217.5 585.7 217.8 584.7 218.1 583.7 218.4 582.6 218.7 581.6 219.0 580.6 219.2 579.5 219.4 578.5 219.6 577.5 219.7 576.4 219.9 575.4 220.0 574.4 220.2 573.3 220.3 572.3 220.5 571.3 220.7 570.2 220.8 569.2 221.0 568.1 221.1 567.1 221.3 566.1 221.4 565.0 221.6 564.0 221.7 563.0 221.9 561.9 222.0 560.9 222.2 559.9 222.3 558.8 222.5 557.8 222.6 556.8 222.8 555.7 222.9 554.7 223.1 553.7 223.2 552.6 223.4 551.6 223.6 550.6 223.7 549.5 223.9 548.5 224.0 547.5 224.2 546.4 224.3 545.4 224.5 544.4 224.7 543.3 224.9 542.3 225.2 541.3 225.4 540.2 225.6 539.2 225.8 538.2 226.1 537.1 226.3 536.1 226.5 535.1 226.8 534.0 227.0 533.0 227.0 532.0 226.8 530.9 226.7 529.9 226.5 528.9 226.4 527.8 226.2 526.8 226.1 525.7 225.9 524.7 225.8 523.7 225.6 522.6 225.5 521.6 225.4 520.6 225.7 519.5 224.8 518.5 223.8 517.5 222.7 516.4 221.4 515.4 219.8 514.4 217.8 513.3 213.0Z" fill="#a5a5a5" stroke="#a5a5a5" stroke-width="1" stroke-linejoin="round"/>
<path d="M529.6 227.6h0M556.0 222.9h0M594.8 209.0h0M557.0 224.5h0M574.8 205.6h0M567.9 224.1h0M538.2 227.4h0M556.1 201.7h0M535.6 228.7h0M562.7 226.5h0M561.3 226.8h0M567.1 225.4h0M532.0 231.4h0M521.6 198.7h0M532.5 196.4h0M554.9 200.3h0M614.1 215.6h0M533.3 199.2h0M527.5 198.4h0M542.3 227.6h0M549.8 230.4h0M540.4 201.4h0M548.9 225.2h0M556.2 200.7h0M566.1 205.0h0M561.9 203.6h0M552.8 202.1h0M536.6 200.9h0M550.6 202.1h0M526.9 197.8h0M534.0 197.2h0M534.8 196.5h0M528.9 199.1h0M585.8 208.1h0M585.9 204.8h0M523.9 196.5h0M535.3 200.3h0M613.6 215.3h0M572.4 223.0h0M532.2 200.6h0M552.4 199.2h0M560.2 223.5h0M554.7 223.8h0M543.5 201.4h0M547.7 224.6h0M556.4 203.3h0M531.1 199.8h0M521.5 199.0h0M535.6 199.5h0M527.1 226.4h0M567.5 205.1h0M536.9 198.1h0M584.3 206.9h0M544.8 225.9h0M542.3 226.9h0M520.6 227.0h0M624.7 211.3h0M523.6 228.2h0M582.1 221.9h0M522.4 200.0h0M561.6 229.2h0M576.6 203.7h0M573.0 206.0h0M550.2 202.3h0M530.2 197.7h0M536.5 200.7h0M563.8 224.4h0M543.9 197.1h0M541.2 201.7h0M527.6 199.8h0M563.9 222.6h0M539.3 199.9h0M543.6 202.0h0M534.0 227.4h0M543.6 226.3h0M590.0 218.1h0M570.3 204.3h0M529.4 229.1h0M527.1 226.6h0M603.3 214.7h0M533.5 198.3h0M521.8 199.2h0M551.6 203.0h0M540.7 226.1h0M548.5 224.8h0M577.6 220.5h0M559.2 223.2h0M547.9 201.2h0M567.8 203.4h0M558.2 223.0h0M559.3 197.5h0M534.5 229.0h0M558.4 202.8h0M571.3 205.2h0M545.4 199.1h0M534.6 228.7h0M535.7 201.3h0M526.8 227.4h0M588.3 207.2h0M538.4 227.8h0M527.7 197.1h0M584.8 201.4h0M549.2 226.3h0M563.3 199.9h0M553.6 223.3h0M560.1 202.2h0M527.3 226.2h0M558.3 224.5h0M582.1 207.5h0M529.3 228.3h0M534.1 198.7h0M603.1 220.1h0M571.4 224.5h0M574.5 206.1h0M521.0 199.4h0M565.0 222.9h0M533.1 198.0h0M526.6 197.6h0M536.7 199.6h0M542.3 201.7h0M538.7 201.8h0M526.0 200.3h0M541.5 199.3h0M538.7 226.0h0M528.6 199.3h0M555.7 203.1h0M569.3 202.0h0M530.2 230.5h0M535.2 229.4h0M584.9 201.8h0M533.1 194.5h0M532.5 201.0h0M534.7 195.3h0M571.4 224.9h0M539.4 198.4h0M531.2 229.7h0M566.7 203.6h0M542.7 199.7h0M529.5 228.9h0M534.6 201.3h0M550.6 223.9h0M529.7 226.9h0M529.1 227.0h0M539.7 227.9h0M547.8 202.3h0M521.4 226.0h0M555.0 226.4h0M535.3 200.2h0M594.4 207.3h0M548.1 199.7h0M535.3 226.9h0M570.6 223.2h0M540.4 201.5h0M610.8 216.2h0M547.8 231.0h0M577.8 233.5h0M532.4 200.8h0M568.5 222.8h0M535.3 198.3h0M522.5 198.8h0M525.2 228.7h0M536.8 200.8h0M547.0 225.3h0M532.0 232.0h0M532.7 197.4h0M524.0 198.4h0M540.5 225.7h0M521.9 226.0h0M539.6 201.9h0M556.2 228.6h0M530.0 229.9h0M545.7 200.7h0M557.9 198.0h0M560.6 226.2h0M539.3 201.5h0M562.9 202.6h0M535.7 197.8h0M533.6 228.3h0M591.9 208.0h0M551.1 201.4h0M566.5 221.6h0M536.8 231.7h0M558.0 197.7h0M537.5 200.9h0M533.7 200.6h0M530.2 200.8h0M527.6 228.0h0M595.4 207.7h0M531.9 201.0h0M543.8 200.6h0M529.4 226.8h0M526.5 228.7h0M527.1 195.7h0M537.4 227.4h0M531.8 200.8h0M535.7 201.4h0M535.8 228.1h0M535.3 230.3h0M542.6 226.5h0M552.9 198.7h0M525.9 199.9h0M563.1 201.1h0M548.2 224.4h0M534.1 200.3h0M536.0 235.8h0M604.8 214.8h0M531.2 228.4h0M535.0 227.5h0M541.8 227.0h0M541.1 202.0h0M598.8 214.1h0M537.5 200.7h0M548.9 225.3h0M566.8 222.2h0M538.4 228.5h0M552.0 202.5h0M554.9 203.1h0M548.1 225.9h0M592.1 204.6h0M562.7 199.5h0M543.3 201.6h0M590.6 209.7h0M531.4 199.5h0M556.4 202.1h0M543.6 230.1h0M534.5 228.9h0M527.7 226.4h0M521.4 226.9h0M548.1 233.5h0M547.2 225.0h0M524.1 198.0h0M576.8 224.4h0M527.8 199.4h0M527.3 226.7h0M528.2 200.7h0M537.5 197.6h0M538.5 201.4h0M530.9 200.1h0M528.6 198.8h0M565.1 224.2h0M526.3 227.2h0M553.2 201.8h0M580.8 220.8h0M531.1 198.4h0M588.8 217.9h0M543.9 199.5h0M570.1 221.1h0M548.1 201.4h0M551.8 202.5h0M575.3 220.9h0M572.8 220.4h0M570.6 222.3h0M530.2 199.0h0M522.8 226.4h0M526.2 200.0h0M551.3 202.9h0M527.7 200.3h0M548.0 228.8h0M538.3 201.1h0M540.6 194.4h0M550.8 202.5h0M570.3 221.0h0M573.3 221.8h0M534.3 227.4h0M531.2 227.8h0M572.3 203.3h0M548.5 201.7h0M526.0 226.5h0M545.4 228.9h0M536.8 228.3h0M525.4 197.3h0M548.5 200.6h0M580.4 220.7h0M554.6 200.4h0M531.8 200.7h0M546.4 194.3h0M584.6 204.4h0M560.8 203.5h0M584.1 207.5h0M522.0 227.4h0M553.2 203.1h0M534.9 199.6h0M575.5 222.6h0M546.7 201.8h0M582.6 218.9h0M551.8 201.7h0M536.5 201.4h0M543.6 196.3h0M608.0 214.1h0M533.1 200.5h0M524.1 225.9h0M572.3 223.9h0M556.6 225.5h0M566.7 204.0h0M553.6 224.1h0M530.6 200.3h0M558.8 196.4h0M527.7 200.5h0M552.0 202.4h0M522.2 198.4h0M535.0 226.9h0M573.4 203.2h0M528.6 226.9h0M557.8 222.9h0M543.5 200.8h0M527.6 228.6h0M620.1 216.9h0M552.9 224.2h0M524.7 196.2h0M533.6 195.2h0M521.4 199.3h0M533.0 228.8h0M538.4 226.9h0M530.2 227.0h0M549.6 201.6h0M532.2 227.4h0M533.4 227.3h0M538.4 228.5h0M530.2 199.0h0M526.0 200.2h0M548.4 201.9h0M544.1 226.1h0M543.8 225.3h0M543.6 226.6h0M537.0 200.7h0M548.6 201.2h0M543.1 225.5h0M523.1 226.0h0M530.7 228.5h0M598.0 202.9h0M537.2 198.5h0M572.1 236.7h0M521.1 199.6h0M528.2 226.4h0M565.8 223.7h0M552.2 198.7h0M546.7 224.6h0M584.0 207.3h0M525.8 199.1h0M546.6 201.8h0M576.3 205.8h0M552.9 195.7h0M528.4 227.3h0M536.4 199.2h0M559.9 201.7h0M546.8 198.5h0M580.5 202.8h0M544.0 199.5h0M530.8 228.6h0M527.6 227.6h0M532.3 230.8h0M544.3 198.8h0M532.4 199.2h0M535.2 199.7h0M547.9 202.8h0M525.4 230.4h0M529.6 198.6h0M573.4 192.3h0M532.0 231.5h0M551.5 224.9h0M564.9 196.2h0M533.1 227.5h0M522.0 226.6h0M575.0 202.1h0M531.0 228.0h0M613.2 220.2h0M535.9 229.8h0M536.7 199.5h0M558.6 223.0h0M543.2 230.0h0M609.1 214.4h0M593.7 207.6h0M527.9 226.8h0M551.1 202.0h0M537.2 227.6h0M546.3 233.5h0M574.8 220.6h0M590.2 217.0h0M546.8 200.6h0M558.6 194.2h0M550.8 226.2h0M582.2 205.6h0M555.4 201.6h0M543.2 226.1h0M525.6 229.3h0M521.3 225.5h0M544.2 226.0h0M555.9 199.4h0M520.9 199.7h0M548.5 200.7h0M574.7 222.2h0M528.9 200.3h0M528.0 199.5h0M541.3 226.4h0M545.1 225.2h0M531.6 226.9h0M555.7 202.3h0M526.2 200.4h0M579.8 223.9h0M549.4 226.7h0M540.0 201.8h0M542.3 233.4h0M571.5 221.2h0M539.0 201.7h0M539.6 226.0h0M588.9 218.3h0M532.4 227.2h0M552.7 196.5h0M520.4 199.7h0M566.6 223.7h0M590.2 208.6h0M525.3 226.4h0M533.9 228.9h0M525.3 197.7h0M561.3 223.3h0M554.9 224.8h0M562.7 223.6h0M542.5 230.7h0M565.6 198.4h0M526.2 227.1h0M552.7 224.7h0M581.6 221.9h0M572.0 220.7h0M554.5 201.8h0M529.2 229.3h0M525.6 199.3h0M566.7 224.5h0M532.2 227.1h0M543.5 200.2h0M536.9 227.4h0M556.3 223.7h0M558.6 224.1h0M530.3 226.8h0M551.7 200.7h0M524.3 226.1h0M523.2 199.5h0M541.4 226.6h0M535.0 196.9h0M526.3 226.9h0M534.6 196.7h0M535.1 227.3h0M524.0 228.0h0M545.3 225.0h0M530.3 200.5h0M556.1 201.4h0M535.2 230.4h0M581.3 207.3h0M533.0 228.4h0M602.2 209.1h0M563.3 223.4h0M533.1 195.6h0M522.6 227.1h0M534.9 227.7h0M531.4 227.6h0M526.5 200.2h0M546.8 200.9h0M533.4 196.0h0M539.5 200.0h0M540.9 201.4h0M531.4 198.3h0M529.6 199.3h0M559.7 198.4h0M528.7 200.5h0M541.2 233.4h0M529.7 199.3h0M535.4 227.3h0M553.8 224.7h0M535.1 198.2h0M522.1 226.1h0M547.2 198.6h0M521.4 199.8h0M559.0 203.1h0M536.8 201.7h0M540.0 197.9h0M553.7 224.7h0M530.1 200.0h0M532.0 200.0h0M534.0 228.6h0M521.6 226.2h0M564.6 221.9h0M557.2 224.6h0M559.0 199.2h0M528.0 198.6h0M604.2 216.7h0M564.5 200.9h0M531.6 199.0h0M540.9 199.9h0M532.4 201.2h0M521.4 226.5h0M552.3 224.4h0M533.3 227.9h0M537.1 227.2h0M574.4 205.7h0M579.4 223.1h0M543.1 227.5h0M532.3 201.0h0M566.7 199.4h0M552.5 202.5h0M536.0 228.6h0M520.5 225.9h0M556.7 199.5h0M556.4 200.2h0M531.6 198.1h0M525.3 198.4h0M552.7 225.8h0M533.0 233.6h0M574.6 223.2h0M548.2 226.2h0M527.9 230.7h0M535.6 229.7h0M572.2 221.6h0M537.6 226.2h0M520.0 226.4h0M527.1 198.7h0M546.0 201.4h0M548.6 200.6h0M531.3 231.9h0M585.3 219.7h0M590.3 217.2h0M558.8 228.3h0M565.0 223.3h0M566.2 201.2h0M563.5 224.6h0M588.8 221.6h0M543.1 227.7h0M543.0 202.1h0M525.4 198.7h0M557.0 202.3h0M543.3 195.8h0M534.3 227.7h0M557.5 200.7h0M542.0 197.7h0M523.8 196.9h0M563.6 222.4h0M556.3 224.6h0M526.2 198.4h0M545.7 202.1h0M541.8 228.8h0M536.8 201.5h0M533.4 200.5h0M536.6 226.5h0M599.0 211.0h0M548.4 224.9h0M548.9 201.8h0M538.7 226.4h0M524.1 197.9h0M541.9 226.4h0M575.3 222.2h0M550.5 200.2h0M558.7 224.0h0M533.6 229.1h0M526.8 226.4h0M541.7 229.9h0M529.1 227.9h0M533.1 200.5h0M547.6 227.5h0M562.8 201.4h0M527.2 198.1h0M560.7 225.8h0M563.9 222.1h0M527.1 200.5h0M599.6 217.7h0M534.6 200.1h0M530.7 198.7h0M526.2 228.9h0M557.7 200.2h0M572.4 205.1h0M537.1 198.5h0M548.3 200.7h0M576.7 220.0h0M532.4 232.6h0M536.1 200.6h0M540.1 226.5h0M550.5 201.5h0M549.4 199.8h0M539.3 228.0h0M532.4 199.5h0M553.1 224.5h0M530.4 197.8h0M544.3 224.9h0M551.7 200.0h0M531.9 198.5h0M530.2 226.7h0M559.6 224.4h0M569.2 235.8h0M549.7 201.9h0M540.9 201.5h0M524.7 198.7h0M549.9 226.8h0M522.8 226.1h0M544.8 199.0h0M584.3 219.3h0M572.4 225.3h0M541.0 225.7h0M559.9 203.8h0M538.6 227.5h0M526.9 200.0h0M582.8 219.5h0M541.4 228.1h0M540.1 227.0h0M544.6 229.2h0M539.2 227.3h0M531.1 199.4h0M536.9 200.6h0M529.8 197.6h0M544.5 228.2h0M548.4 196.7h0M529.4 228.5h0M533.7 227.1h0M529.7 198.0h0M567.4 197.3h0M557.2 199.3h0M523.9 226.0h0M548.4 201.7h0M540.8 226.8h0M598.2 208.8h0M539.8 226.7h0M528.2 199.8h0M541.3 226.5h0M615.5 208.3h0M536.4 226.5h0M531.7 198.5h0M535.1 201.0h0M539.8 226.4h0M571.8 220.6h0M530.9 230.0h0M530.5 231.8h0M535.5 226.7h0M558.2 200.4h0M564.6 221.8h0M541.4 199.3h0M541.3 226.9h0M568.4 222.5h0M550.5 202.2h0M542.3 228.8h0M549.8 201.8h0M536.7 194.8h0M528.3 200.7h0M549.9 202.1h0M539.6 191.7h0M529.7 199.8h0M570.4 223.4h0M529.2 227.2h0M540.8 200.0h0M525.0 199.4h0M526.7 230.2h0M550.1 201.2h0M555.0 227.2h0M568.1 222.5h0M533.8 227.3h0M531.6 199.2h0M540.1 201.4h0M525.0 226.1h0M543.2 227.0h0M522.7 226.4h0M556.1 223.2h0M532.2 228.2h0M534.0 199.3h0M523.3 228.5h0M528.2 230.5h0M531.4 228.8h0M536.1 200.5h0M534.1 196.8h0M572.7 224.9h0M590.6 217.5h0M544.7 225.2h0M520.7 226.1h0M596.8 207.5h0M520.5 226.6h0M539.1 227.7h0M579.2 219.9h0M521.9 199.5h0M552.5 228.7h0M534.6 230.0h0M557.2 224.7h0M532.3 195.0h0M532.1 229.8h0M523.5 197.2h0M523.5 200.2h0M527.0 199.6h0M548.2 202.7h0M538.6 201.6h0M550.6 202.0h0M525.5 226.5h0M535.1 199.6h0M526.6 229.5h0M565.9 198.6h0M548.7 199.2h0M582.9 207.0h0M574.6 221.2h0M533.2 227.9h0M524.3 229.4h0M563.5 203.1h0M531.5 228.0h0M539.3 226.4h0M577.5 206.2h0M546.5 224.7h0M564.6 203.9h0M532.0 199.7h0M537.8 226.4h0M564.6 221.8h0M537.2 199.3h0M573.6 221.3h0M534.4 227.0h0M531.4 226.9h0M531.7 232.1h0M528.8 228.7h0M537.0 200.9h0M593.7 220.1h0M604.8 215.2h0M528.6 199.1h0M537.7 192.5h0M543.6 226.8h0M543.2 194.5h0M528.9 200.2h0M536.6 200.3h0M535.4 227.1h0M529.0 232.6h0M537.3 201.5h0M546.1 202.4h0M552.2 226.8h0M615.2 214.2h0M549.8 202.4h0M539.8 194.8h0M563.7 203.4h0M524.1 199.0h0M597.9 216.3h0M521.1 227.1h0M534.1 229.4h0M540.2 201.0h0M540.7 197.3h0M572.7 220.6h0M522.6 199.6h0M558.7 203.5h0M562.2 228.2h0M533.2 198.6h0M561.5 224.6h0M559.8 203.6h0M533.4 232.0h0M534.6 196.0h0M548.8 202.6h0M565.9 204.1h0M548.5 202.4h0M534.0 227.5h0M558.5 199.9h0M534.4 229.3h0M551.9 201.3h0M558.6 200.6h0M533.4 229.0h0M555.5 202.0h0M531.0 232.3h0M563.3 204.5h0M528.6 200.8h0M524.2 199.9h0M556.0 223.3h0M531.8 227.6h0M557.2 203.2h0M542.1 200.5h0M536.1 196.5h0M533.0 230.3h0M554.8 226.1h0M572.5 221.5h0M555.1 202.9h0M529.2 227.4h0M564.6 201.2h0M558.0 200.0h0M591.0 218.0h0M566.0 229.7h0M544.9 224.8h0M538.7 227.5h0M556.5 202.9h0M606.2 205.9h0M533.7 200.7h0M537.8 229.2h0M537.2 201.0h0M577.5 220.8h0M523.9 199.0h0M537.9 228.7h0M532.2 228.9h0M578.6 202.8h0M562.6 203.9h0M544.9 229.0h0M528.7 230.8h0M566.5 222.3h0M566.9 201.3h0M522.0 227.2h0M561.0 197.6h0M533.7 228.1h0M523.2 200.1h0M529.7 200.2h0M567.6 225.5h0M549.4 230.9h0M545.8 202.6h0M541.2 228.7h0M521.3 225.5h0M588.3 218.1h0M564.1 202.9h0M564.1 204.7h0M545.6 201.0h0M543.5 232.0h0M543.5 230.5h0M532.9 200.3h0M543.1 226.8h0M596.6 214.8h0M521.4 199.7h0M617.1 225.5h0M546.6 225.8h0M535.0 227.6h0M527.1 200.3h0M551.0 200.1h0M567.2 204.3h0M528.3 198.6h0M554.5 199.4h0M577.6 221.7h0M544.0 226.2h0M520.4 225.9h0M530.8 227.6h0M545.8 225.9h0M545.2 195.9h0M525.0 228.8h0M552.7 224.0h0M521.8 198.7h0M568.3 204.7h0M525.6 198.3h0M524.3 225.9h0M554.9 223.1h0M527.6 226.9h0M525.5 227.1h0M583.5 205.9h0M544.4 195.7h0M533.7 200.8h0M541.3 201.1h0M532.3 227.6h0M545.9 225.3h0M528.1 200.6h0M539.8 202.0h0M538.7 227.6h0M547.5 224.3h0M530.5 199.3h0M568.7 204.9h0M533.9 200.9h0M532.7 227.8h0M595.0 221.9h0M565.1 222.3h0M559.7 200.4h0M528.1 199.5h0M536.0 227.0h0M527.2 227.4h0M529.4 227.1h0M559.7 232.9h0M526.2 226.2h0M589.2 218.5h0M536.7 227.7h0M537.5 201.7h0M569.7 223.9h0M524.7 198.0h0M550.2 199.9h0M522.6 198.8h0M523.7 200.1h0M569.8 224.3h0M542.1 198.5h0M542.5 236.2h0M537.7 197.4h0M541.9 235.0h0M544.1 197.3h0M553.7 198.8h0M537.1 229.3h0M523.4 197.5h0M586.3 217.9h0M527.5 226.6h0M567.7 203.3h0M562.2 203.6h0M563.6 203.7h0M533.3 200.8h0M538.2 228.6h0M533.7 200.8h0M523.6 198.9h0M545.5 202.1h0M561.1 202.0h0M541.6 225.7h0M571.6 223.1h0M566.1 202.8h0M584.7 207.7h0M526.6 200.1h0M526.0 200.3h0M572.9 206.1h0M541.3 199.7h0M548.1 225.9h0M565.2 201.4h0M547.2 202.3h0M575.1 220.6h0M536.8 231.7h0M534.5 227.1h0M552.0 201.9h0M561.6 223.4h0M535.4 228.3h0M529.6 195.2h0M528.1 195.5h0M531.2 226.8h0M571.5 222.1h0M564.7 198.9h0M533.8 200.6h0M590.4 218.6h0M520.8 199.7h0M544.8 227.2h0M535.7 227.0h0M536.1 227.1h0M545.0 202.4h0M557.2 235.4h0M563.0 226.6h0M534.3 196.8h0M537.8 201.0h0M535.4 197.4h0M539.0 227.1h0M531.3 227.2h0M543.6 199.7h0M529.9 199.9h0M551.7 202.9h0M539.8 227.7h0M551.1 202.1h0M573.5 205.7h0M543.1 199.8h0M550.9 201.8h0M546.9 224.6h0M548.1 202.8h0M573.0 198.2h0M531.9 233.1h0M530.5 199.0h0M575.5 220.8h0M563.4 223.1h0M530.5 226.6h0M570.6 204.7h0M542.9 199.4h0M530.8 200.9h0M561.8 202.8h0M530.6 194.5h0M563.7 223.6h0M526.6 200.3h0M574.8 221.2h0M530.3 227.1h0M539.3 227.2h0M549.5 201.5h0M548.3 226.1h0M546.6 195.6h0M527.3 197.8h0M529.3 199.0h0M554.6 202.8h0M558.2 223.9h0M584.5 205.8h0M539.4 201.2h0M559.2 222.6h0M552.8 224.1h0M545.1 225.3h0M558.3 199.2h0M542.2 196.9h0M562.2 222.1h0M533.9 233.5h0M526.7 200.3h0M528.3 195.2h0M555.8 224.3h0M521.7 225.7h0M583.6 218.6h0M579.3 226.1h0M544.4 225.0h0M533.2 196.5h0M534.8 228.0h0M567.6 203.7h0M560.1 202.3h0M556.8 202.0h0M548.9 202.4h0M526.1 197.2h0M534.4 228.7h0M531.5 200.0h0M528.9 229.3h0M524.9 199.2h0M535.7 201.1h0M543.0 202.2h0M538.4 229.6h0M548.1 226.7h0M533.0 200.8h0M534.5 200.3h0M531.8 229.8h0M568.0 229.2h0M523.6 226.8h0M525.4 197.5h0M555.9 200.7h0M563.7 201.2h0M535.3 231.1h0M539.5 200.0h0M566.5 204.3h0M541.9 201.7h0M535.9 200.0h0M543.2 225.1h0M545.6 200.2h0M525.8 200.1h0M544.2 201.6h0M536.6 229.4h0M527.1 228.4h0M565.2 222.7h0M551.6 202.5h0M587.2 217.8h0M562.5 203.1h0M541.9 226.0h0M520.5 199.3h0M539.4 200.0h0M539.8 229.5h0M552.7 224.6h0M567.6 221.6h0M561.0 198.9h0M523.4 226.2h0M585.9 223.5h0M527.8 200.0h0M579.1 202.3h0M576.1 206.2h0M542.5 199.4h0M534.6 228.7h0M558.1 227.5h0M545.1 225.9h0M531.3 229.5h0M570.2 220.9h0M529.5 200.0h0M545.2 225.0h0M524.7 199.6h0M542.9 225.2h0M529.6 228.1h0M554.2 202.4h0M531.0 232.9h0M539.1 226.7h0M521.4 227.4h0M598.7 211.8h0M536.7 198.6h0M534.4 200.2h0M537.7 226.3h0M525.1 197.3h0M537.1 227.1h0M524.1 198.7h0M556.3 226.0h0M542.2 199.1h0M550.1 201.5h0M563.8 222.7h0M588.1 217.7h0M535.2 226.9h0M549.4 202.3h0M534.4 198.8h0M577.3 219.8h0M520.2 226.0h0M550.5 199.5h0M542.4 197.5h0M551.6 224.7h0M526.5 200.1h0M547.2 201.2h0M520.2 226.8h0M530.4 228.1h0M546.7 201.3h0M547.4 224.9h0M550.3 200.6h0M545.3 202.4h0M521.3 199.8h0M536.8 201.2h0M539.7 201.5h0M532.5 197.7h0M567.8 227.2h0M557.3 223.8h0M527.1 226.4h0M543.6 228.6h0M540.3 226.5h0M547.1 224.8h0M531.8 227.4h0M528.8 227.9h0M541.2 199.4h0M558.4 223.4h0M552.5 223.6h0M564.7 204.5h0M551.1 202.7h0M540.5 200.7h0M545.1 201.9h0M597.3 217.6h0M544.2 198.8h0M576.1 204.6h0M570.8 222.0h0M575.3 224.8h0M532.4 199.0h0M547.0 202.1h0M541.2 200.2h0M548.6 228.6h0M545.5 201.7h0M538.5 227.6h0M525.1 199.4h0M546.8 224.9h0M536.6 198.1h0M544.9 202.4h0M532.9 228.9h0M532.5 234.1h0M554.1 223.3h0M541.5 199.5h0M530.9 200.7h0M562.0 222.4h0M603.0 209.7h0M585.7 208.0h0M537.6 201.4h0M549.2 224.3h0M541.3 234.8h0M558.0 201.4h0M529.8 196.6h0M545.3 201.9h0M569.1 203.9h0M539.7 226.8h0M532.4 227.6h0M564.7 223.9h0M583.5 204.4h0M540.7 198.3h0M573.2 205.1h0M560.0 223.7h0M526.8 199.3h0M524.9 196.4h0M531.1 227.4h0M549.4 224.7h0M531.8 228.4h0M528.1 200.4h0M538.8 198.2h0M541.0 201.7h0M527.3 230.0h0M542.5 225.1h0M578.1 201.1h0M554.6 201.6h0M557.7 225.0h0M543.9 201.5h0M533.1 200.0h0M533.2 200.7h0M534.5 228.6h0M575.9 226.4h0M547.6 202.0h0M551.9 200.0h0M563.5 228.0h0M521.6 226.5h0M553.6 233.8h0M558.0 223.2h0M565.8 222.7h0M526.5 226.6h0M563.9 203.5h0M534.5 230.0h0M552.2 203.1h0M535.7 200.4h0M579.2 224.8h0M534.1 198.8h0M566.3 224.4h0M549.7 202.4h0M521.9 226.0h0M592.9 218.0h0M529.2 199.4h0M541.9 226.0h0M554.6 223.5h0M589.3 207.8h0M536.1 199.6h0M529.1 226.9h0M549.0 226.3h0M529.1 226.7h0M545.5 226.3h0M544.9 202.3h0M549.1 224.7h0M534.3 227.7h0M536.8 228.1h0M555.2 228.2h0M550.3 225.1h0M561.4 228.1h0M597.0 216.5h0M559.8 225.6h0M554.6 226.3h0M524.4 196.6h0M549.3 202.2h0M544.6 231.4h0M533.7 227.3h0M537.3 227.5h0M574.9 221.7h0M527.5 200.4h0M541.1 226.6h0M531.3 198.1h0M531.9 228.8h0M526.6 226.9h0M531.9 230.8h0M532.4 197.8h0M575.6 195.8h0M534.7 229.1h0M568.4 221.9h0M584.3 207.7h0M546.6 202.6h0M555.8 231.5h0M524.1 198.0h0M587.2 208.8h0M555.2 203.1h0M534.4 229.0h0M544.5 202.3h0M530.1 227.3h0M523.4 199.3h0M580.0 203.5h0M553.8 202.0h0M531.1 227.5h0M535.1 197.8h0M539.7 202.0h0M566.4 202.7h0M545.1 199.4h0M552.0 195.6h0M546.9 191.8h0M547.1 201.5h0M594.7 218.8h0M539.1 201.3h0M546.9 224.3h0M521.3 225.6h0M573.4 220.4h0M604.6 214.8h0M527.7 197.6h0M532.8 199.9h0M564.2 204.0h0M549.6 202.4h0M547.1 225.0h0M533.0 229.4h0M522.5 227.3h0M603.2 210.2h0M528.3 199.7h0M556.0 195.5h0M574.7 205.8h0M547.8 202.3h0M521.3 225.6h0M526.7 227.1h0M542.0 202.2h0M541.9 227.0h0M541.5 200.0h0M552.4 201.8h0M529.6 229.7h0M523.6 200.1h0M542.2 225.5h0M528.3 200.4h0M527.2 200.4h0M554.5 198.3h0M527.1 197.1h0M536.3 193.1h0M538.7 227.5h0M530.5 198.4h0M550.4 202.1h0M530.0 226.8h0M557.9 202.4h0M523.1 225.6h0M541.8 229.4h0M543.1 200.6h0M551.6 201.4h0M546.9 200.0h0M522.5 226.7h0M552.4 229.0h0M551.5 202.9h0M532.6 192.5h0M545.7 198.3h0M530.6 200.2h0M541.4 234.1h0M552.9 223.5h0M566.9 228.0h0M526.3 226.7h0M528.0 228.7h0M528.3 228.0h0M564.9 193.8h0M556.3 202.1h0M535.7 194.9h0M534.3 199.9h0M536.7 195.2h0M567.3 225.7h0M578.5 206.8h0M583.6 219.9h0M538.7 226.7h0M542.0 199.5h0M538.6 227.7h0M528.2 197.5h0M540.5 228.0h0M526.5 227.5h0M564.0 222.4h0M526.6 200.3h0M535.4 199.9h0M530.3 228.0h0M577.5 222.6h0M535.7 227.2h0M564.7 224.9h0M531.6 227.2h0M540.3 226.6h0M601.3 216.5h0M558.9 201.1h0M554.2 200.5h0M553.7 202.6h0M540.8 226.7h0M527.6 200.2h0M585.6 206.6h0M552.8 201.2h0M544.8 226.5h0M554.2 202.2h0M547.0 226.6h0M528.3 228.9h0M540.2 226.3h0M547.7 225.6h0M565.2 225.7h0M545.9 202.2h0M546.3 225.0h0M557.9 199.1h0M575.6 220.9h0M537.0 200.1h0M532.9 201.0h0M551.9 200.3h0M540.3 195.8h0M548.8 224.8h0M537.1 227.0h0M546.2 224.8h0M550.8 225.7h0M567.6 202.0h0M549.6 200.9h0M540.0 201.5h0M531.9 227.7h0M554.0 197.6h0M538.7 226.5h0M601.4 214.5h0M555.2 227.4h0M592.6 208.6h0M560.7 198.8h0M539.3 201.6h0M568.5 202.8h0M524.6 199.6h0M555.3 225.0h0M532.3 197.3h0M554.8 196.4h0M527.3 226.4h0M535.2 229.1h0M537.0 198.8h0M547.2 225.0h0M533.5 228.1h0M529.1 230.8h0M522.1 199.7h0M568.4 204.0h0M551.0 225.0h0M549.0 196.0h0M539.9 225.9h0M549.6 229.7h0M524.6 200.2h0M548.4 200.3h0M519.4 165.8h0M614.9 207.6h0M627.8 213.7h0M603.0 202.3h0M610.0 218.4h0" stroke="#a5a5a5" stroke-width="1.8" stroke-linecap="round" fill="none"/>
<path d="M511.2 233.1h0M508.9 230.4h0M505.1 224.4h0M504.3 222.8h0M503.7 221.1h0M502.6 208.8h0M503.0 207.0h0M505.8 200.3h0M506.7 198.7h0M507.8 197.2h0M523.0 240.5h0M521.8 239.6h0M519.5 237.7h0M517.2 235.8h0M516.1 234.8h0M515.1 233.7h0M514.0 232.7h0M513.0 231.6h0M512.0 230.5h0M511.1 229.3h0M510.2 228.2h0M509.3 227.0h0M508.5 225.7h0M507.1 223.1h0M506.5 221.8h0M504.6 213.1h0M504.7 211.6h0M504.8 210.1h0M505.4 207.2h0M505.9 205.7h0M506.4 204.3h0M507.1 202.9h0M507.8 201.6h0M508.6 200.3h0M509.4 199.0h0M511.2 196.5h0M512.2 195.4h0M513.2 194.2h0M514.2 193.1h0M515.3 192.0h0M516.4 191.0h0M518.6 189.0h0M519.8 188.0h0M521.0 187.0h0M522.2 186.1h0M523.3 237.8h0M522.3 237.0h0M521.3 236.2h0M520.3 235.4h0M519.3 234.5h0M518.3 233.7h0M517.4 232.8h0M516.5 231.9h0M515.6 231.0h0M514.7 230.1h0M513.9 229.1h0M513.0 228.1h0M512.3 227.1h0M510.8 225.0h0M510.1 223.9h0M509.0 221.6h0M508.4 220.4h0M508.0 219.2h0M507.6 218.0h0M507.4 216.7h0M507.1 215.4h0M507.0 214.2h0M507.0 211.6h0M507.2 210.3h0M507.4 209.0h0M507.7 207.7h0M508.1 206.4h0M508.6 205.2h0M509.7 202.8h0M510.4 201.7h0M511.1 200.6h0M511.8 199.5h0M512.6 198.4h0M513.4 197.4h0M517.0 193.6h0M518.9 191.8h0M519.9 190.9h0M520.9 190.1h0M522.0 189.2h0M523.1 234.4h0M522.2 233.8h0M521.4 233.1h0M520.5 232.4h0M519.7 231.7h0M518.9 231.0h0M518.1 230.3h0M517.3 229.5h0M516.5 228.7h0M515.8 227.9h0M515.1 227.1h0M514.4 226.3h0M513.7 225.5h0M513.0 224.6h0M512.4 223.7h0M511.8 222.8h0M511.3 221.8h0M510.8 220.9h0M510.3 219.9h0M509.9 218.9h0M509.6 217.8h0M509.3 216.8h0M509.1 215.7h0M509.0 214.6h0M508.9 213.5h0M508.9 212.4h0M509.0 211.3h0M509.1 210.2h0M509.3 209.2h0M509.6 208.1h0M510.0 207.0h0M510.4 206.0h0M510.9 205.0h0M511.4 204.0h0M511.9 203.0h0M512.5 202.1h0M513.2 201.2h0M513.9 200.3h0M514.6 199.4h0M515.3 198.6h0M516.0 197.8h0M516.8 197.0h0M517.6 196.2h0M518.4 195.4h0M519.2 194.7h0M520.1 194.0h0M520.9 193.3h0M521.8 192.6h0M523.7 232.4h0M522.8 231.8h0M522.0 231.1h0M521.1 230.4h0M520.3 229.8h0M519.5 229.0h0M518.7 228.3h0M517.9 227.6h0M517.1 226.8h0M516.4 226.0h0M515.6 225.2h0M514.9 224.4h0M514.3 223.5h0M513.6 222.6h0M513.1 221.7h0M512.5 220.8h0M512.0 219.8h0M511.6 218.8h0M511.2 217.8h0M510.9 216.8h0M510.6 215.7h0M510.5 214.6h0M510.4 213.5h0M510.4 212.4h0M510.5 211.3h0M510.6 210.2h0M510.9 209.2h0M511.2 208.1h0M511.6 207.1h0M512.1 206.1h0M512.6 205.1h0M513.2 204.1h0M513.8 203.2h0M514.4 202.3h0M515.1 201.4h0M515.8 200.5h0M516.6 199.7h0M517.4 198.9h0M518.2 198.1h0M519.0 197.4h0M519.8 196.6h0M520.7 195.9h0M521.5 195.2h0M522.4 194.5h0M524.8 231.1h0M523.9 230.5h0M523.0 229.8h0M522.1 229.2h0M521.3 228.5h0M520.5 227.8h0M519.6 227.1h0M518.8 226.3h0M518.1 225.6h0M517.3 224.8h0M516.6 224.0h0M515.9 223.2h0M515.2 222.3h0M514.6 221.4h0M514.0 220.5h0M513.5 219.6h0M513.0 218.6h0M512.6 217.6h0M512.3 216.6h0M512.0 215.5h0M511.8 214.4h0M511.8 213.4h0M511.8 212.3h0M511.9 211.2h0M512.1 210.1h0M512.4 209.0h0M512.8 207.9h0M513.2 206.9h0M513.7 205.9h0M514.3 205.0h0M514.9 204.1h0M515.6 203.2h0M516.3 202.3h0M517.1 201.5h0M517.8 200.6h0M518.6 199.9h0M519.4 199.1h0M520.3 198.4h0M521.1 197.6h0M522.0 196.9h0M522.9 196.3h0M523.8 195.6h0" stroke="#a5a5a5" stroke-width="1.9" stroke-linecap="round" fill="none"/>
<path d="M501.5 185.8h0M503.3 184.1h0M504.7 182.3h0M506.2 180.5h0M508.0 178.5h0M509.3 176.8h0M510.9 174.6h0M512.4 173.1h0M501.8 240.5h0M503.1 242.0h0M504.8 243.2h0M506.2 244.7h0M507.5 246.2h0M509.2 247.8h0M510.6 249.3h0M512.1 250.8h0M513.4 252.0h0M514.8 253.4h0M516.3 254.9h0M517.6 256.4h0M519.3 257.8h0M520.6 259.5h0M522.3 260.9h0M523.7 262.1h0M525.0 263.8h0M526.6 265.1h0" stroke="#a5a5a5" stroke-width="2.3" stroke-linecap="round" fill="none"/>
<rect x="474.5" y="141" width="161.5" height="144" fill="none" stroke="#111" stroke-width="1.5"/>
<line x1="471.7" y1="146.0" x2="474.5" y2="146.0" stroke="#111" stroke-width="1.3"/>
<text font-size="12.6" text-anchor="middle" transform="translate(470.30 149.00) rotate(-90) scale(1.035 1)" stroke="#1a1a1a" stroke-width="0.25">10</text>
<line x1="471.7" y1="179.5" x2="474.5" y2="179.5" stroke="#111" stroke-width="1.3"/>
<text font-size="12.6" text-anchor="middle" transform="translate(470.30 182.50) rotate(-90) scale(1.035 1)" stroke="#1a1a1a" stroke-width="0.25">5</text>
<line x1="471.7" y1="213.0" x2="474.5" y2="213.0" stroke="#111" stroke-width="1.3"/>
<text font-size="12.6" text-anchor="middle" transform="translate(470.30 213.50) rotate(-90) scale(1.035 1)" stroke="#1a1a1a" stroke-width="0.25">0</text>
<line x1="471.7" y1="246.5" x2="474.5" y2="246.5" stroke="#111" stroke-width="1.3"/>
<text font-size="12.6" text-anchor="middle" transform="translate(470.30 247.30) rotate(-90) scale(1.035 1)" stroke="#1a1a1a" stroke-width="0.25">-5</text>
<line x1="471.7" y1="280.0" x2="474.5" y2="280.0" stroke="#111" stroke-width="1.3"/>
<text font-size="12.6" text-anchor="middle" transform="translate(470.30 280.80) rotate(-90) scale(1.035 1)" stroke="#1a1a1a" stroke-width="0.25">-10</text>
<line x1="481.0" y1="285" x2="481.0" y2="288.3" stroke="#111" stroke-width="1.3"/>
<text font-size="12.8" text-anchor="middle" transform="matrix(1 0 0 1.035 481.00 301.00)" stroke="#1a1a1a" stroke-width="0.25">0</text>
<line x1="530.6" y1="285" x2="530.6" y2="288.3" stroke="#111" stroke-width="1.3"/>
<text font-size="12.8" text-anchor="middle" transform="matrix(1 0 0 1.035 530.60 301.00)" stroke="#1a1a1a" stroke-width="0.25">5</text>
<line x1="580.2" y1="285" x2="580.2" y2="288.3" stroke="#111" stroke-width="1.3"/>
<text font-size="12.8" text-anchor="middle" transform="matrix(1 0 0 1.035 580.20 301.00)" stroke="#1a1a1a" stroke-width="0.25">10</text>
<line x1="629.8" y1="285" x2="629.8" y2="288.3" stroke="#111" stroke-width="1.3"/>
<text font-size="12.8" text-anchor="middle" transform="matrix(1 0 0 1.035 629.80 301.00)" stroke="#1a1a1a" stroke-width="0.25">15</text>
<path d="M530.8 235.6h0M533.1 233.2h0M539.0 234.4h0M541.4 238.0h0M545.0 235.6h0M552.1 232.1h0M555.6 230.9h0M559.1 232.1h0M565.1 230.9h0M569.8 229.7h0M575.7 232.1h0M579.3 229.7h0M585.2 232.1h0M591.1 229.7h0M592.3 236.8h0M597.0 240.3h0M606.5 232.1h0M528.4 245.1h0M536.7 240.3h0M542.6 242.7h0M545.0 246.3h0M548.5 240.3h0M550.9 245.1h0M554.4 247.4h0M559.1 246.3h0M561.5 241.5h0M571.0 242.7h0M573.3 246.3h0M580.4 245.1h0M586.3 245.1h0M589.9 240.3h0M601.7 243.9h0M597.0 252.2h0M588.7 249.8h0M582.8 254.5h0M575.7 254.5h0M567.4 252.2h0M556.8 251.0h0M550.9 255.7h0M545.0 256.9h0M565.1 259.3h0M556.8 259.3h0M530.8 261.6h0M535.5 262.8h0M521.3 260.4h0M522.5 261.6h0M523.7 262.8h0M524.9 264.0h0M526.0 265.2h0M528.4 266.4h0M533.1 269.9h0M537.9 273.5h0M541.4 275.8h0M583.3 267.5h0M575.7 278.7h0M545.0 249.8h0M541.4 248.6h0M553.2 236.8h0M549.7 238.0h0M555.6 240.3h0M534.3 246.3h0M531.9 242.7h0M568.6 245.1h0M579.3 240.3h0M569.8 236.8h0M563.9 240.3h0M578.1 235.6h0M536.7 233.2h0" stroke="#3fbd62" stroke-width="3.2" stroke-linecap="round" fill="none"/>
<path d="M528.4 180.7h0M528.9 187.1h0M542.6 191.4h0M545.4 190.2h0" stroke="#e41e78" stroke-width="3.2" stroke-linecap="round" fill="none"/>
<circle cx="549.7" cy="187.1" r="1.55" fill="#f5b733" stroke="#111" stroke-width="1.3"/>
<circle cx="539.8" cy="192.6" r="1.55" fill="#f5b733" stroke="#111" stroke-width="1.3"/>
<circle cx="562.7" cy="195.4" r="1.55" fill="#f5b733" stroke="#111" stroke-width="1.3"/>
<circle cx="578.1" cy="196.1" r="1.55" fill="#f5b733" stroke="#111" stroke-width="1.3"/>
<circle cx="582.8" cy="196.1" r="1.55" fill="#f5b733" stroke="#111" stroke-width="1.3"/>
<circle cx="594.6" cy="194.5" r="1.55" fill="#f5b733" stroke="#111" stroke-width="1.3"/>
<circle cx="537.4" cy="235.6" r="1.55" fill="#9ef0fa" stroke="#111" stroke-width="1.3"/>
<circle cx="547.3" cy="234.7" r="1.55" fill="#9ef0fa" stroke="#111" stroke-width="1.3"/>
<circle cx="555.6" cy="236.8" r="1.55" fill="#9ef0fa" stroke="#111" stroke-width="1.3"/>
<circle cx="558.0" cy="238.0" r="1.55" fill="#9ef0fa" stroke="#111" stroke-width="1.3"/>
<circle cx="536.2" cy="245.1" r="1.55" fill="#9ef0fa" stroke="#111" stroke-width="1.3"/>
<circle cx="539.0" cy="247.4" r="1.55" fill="#9ef0fa" stroke="#111" stroke-width="1.3"/>
<circle cx="534.5" cy="250.3" r="1.55" fill="#9ef0fa" stroke="#111" stroke-width="1.3"/>
<circle cx="562.2" cy="255.2" r="1.55" fill="#9ef0fa" stroke="#111" stroke-width="1.3"/>
<circle cx="582.3" cy="230.2" r="1.55" fill="#9ef0fa" stroke="#111" stroke-width="1.3"/>
<circle cx="587.1" cy="237.3" r="1.55" fill="#9ef0fa" stroke="#111" stroke-width="1.3"/>
<circle cx="537.4" cy="273.5" r="1.55" fill="#9ef0fa" stroke="#111" stroke-width="1.3"/>
<circle cx="479.6" cy="147.8" r="2.0" fill="#f5b733" stroke="#111" stroke-width="1.3"/>
<text font-size="12.8" transform="matrix(1 0 0 1.035 484.60 151.80)" stroke="#1a1a1a" stroke-width="0.25">Pgr-target</text>
<circle cx="479.4" cy="160.5" r="2.0" fill="#9ef0fa" stroke="#111" stroke-width="1.3"/>
<text font-size="12.8" transform="matrix(1 0 0 1.035 484.60 164.70)" stroke="#1a1a1a" stroke-width="0.25">Stat3-target</text>
<text font-size="12.8" text-anchor="end" fill="#e41e78" transform="matrix(1 0 0 1.035 633.30 153.40)" stroke="#e41e78" stroke-width="0.25">11 genes</text>
<text font-size="12.8" text-anchor="end" fill="#3fbd62" transform="matrix(1 0 0 1.035 633.30 280.20)" stroke="#3fbd62" stroke-width="0.25">95 genes</text>
<text font-size="14.5" fill="#000" font-weight="bold" transform="matrix(1 0 0 1.035 58.20 346.20)" stroke="#000" stroke-width="0.25">c</text>
<text font-size="13.04" transform="matrix(1 0 0 1.035 209.60 333.30)" stroke="#1a1a1a" stroke-width="0.25">Gene expression comparisons in blastocysts (Day 4 2000 h)</text>
<text font-size="13.05" text-anchor="middle" transform="matrix(1 0 0 1.035 185.40 347.60)" stroke="#1a1a1a" stroke-width="0.25"><tspan fill="#3fbd62" stroke="#3fbd62">Control</tspan><tspan fill="#1a1a1a" stroke="#1a1a1a"> vs </tspan><tspan fill="#e41e78" font-style="italic" stroke="#e41e78">Lif</tspan><tspan fill="#e41e78" stroke="#e41e78"> eKO</tspan></text>
<text font-size="13.05" text-anchor="middle" transform="matrix(1 0 0 1.035 372.90 347.60)" stroke="#1a1a1a" stroke-width="0.25"><tspan fill="#3fbd62" stroke="#3fbd62">Control vs </tspan><tspan fill="#3fbd62" font-style="italic" stroke="#3fbd62">Lif</tspan><tspan fill="#3fbd62" stroke="#3fbd62"> eKO</tspan><tspan fill="#1a1a1a" stroke="#1a1a1a"> + </tspan><tspan fill="#e41e78" stroke="#e41e78">rLif</tspan></text>
<text font-size="13.05" text-anchor="middle" transform="matrix(1 0 0 1.035 557.30 347.60)" stroke="#1a1a1a" stroke-width="0.25"><tspan fill="#3fbd62" font-style="italic" stroke="#3fbd62">Lif</tspan><tspan fill="#3fbd62" stroke="#3fbd62"> eKO + rLif</tspan><tspan fill="#1a1a1a" stroke="#1a1a1a"> vs </tspan><tspan fill="#e41e78" font-style="italic" stroke="#e41e78">Lif</tspan><tspan fill="#e41e78" stroke="#e41e78"> eKO</tspan></text>
<path d="M148.7 423.5 149.8 418.4 150.9 418.3 152.1 418.3 153.2 418.3 154.3 418.3 155.5 418.2 156.6 418.2 157.7 418.2 158.8 418.1 160.0 418.1 161.1 418.1 162.2 418.0 163.4 418.1 164.5 418.3 165.6 418.4 166.7 418.5 167.9 418.6 169.0 418.7 170.1 418.8 171.3 418.9 172.4 419.0 173.5 419.1 174.6 419.2 175.8 419.3 176.9 419.4 178.0 419.5 179.2 419.5 180.3 419.6 181.4 419.7 182.5 419.8 183.7 419.8 184.8 419.9 185.9 420.0 187.1 420.1 188.2 420.1 189.3 420.2 190.4 420.3 191.6 420.4 192.7 420.4 193.8 420.5 195.0 420.6 196.1 420.7 197.2 420.7 198.3 420.8 199.5 420.8 200.6 420.9 201.7 420.9 202.9 421.0 204.0 421.0 205.1 421.1 206.2 421.1 207.4 421.2 208.5 421.2 209.6 421.3 210.8 421.3 211.9 421.4 213.0 421.5 214.1 421.5 215.3 421.6 216.4 421.6 217.5 421.7 218.6 421.8 219.8 421.8 220.9 421.9 222.0 421.9 223.2 422.0 224.3 422.0 225.4 422.1 226.5 422.1 227.7 422.2 228.8 422.2 229.9 422.2 231.1 422.3 232.2 422.3 233.3 422.4 234.4 422.5 235.6 422.7 236.7 422.8 237.8 422.9 239.0 423.0 239.0 423.5 237.8 423.5 236.7 423.6 235.6 423.6 234.4 423.6 233.3 423.7 232.2 423.7 231.1 423.8 229.9 423.8 228.8 423.9 227.7 424.0 226.5 424.0 225.4 424.1 224.3 424.2 223.2 424.2 222.0 424.3 220.9 424.3 219.8 424.4 218.6 424.4 217.5 424.5 216.4 424.5 215.3 424.6 214.1 424.6 213.0 424.7 211.9 424.7 210.8 424.8 209.6 424.8 208.5 424.9 207.4 424.9 206.2 425.0 205.1 425.0 204.0 425.1 202.9 425.1 201.7 425.1 200.6 425.2 199.5 425.2 198.3 425.3 197.2 425.3 196.1 425.4 195.0 425.5 193.8 425.5 192.7 425.6 191.6 425.6 190.4 425.7 189.3 425.7 188.2 425.8 187.1 425.9 185.9 425.9 184.8 426.0 183.7 426.2 182.5 426.3 181.4 426.4 180.3 426.5 179.2 426.7 178.0 426.8 176.9 426.9 175.8 427.0 174.6 427.2 173.5 427.3 172.4 427.5 171.3 427.6 170.1 427.8 169.0 428.0 167.9 428.1 166.7 428.3 165.6 428.5 164.5 428.6 163.4 428.8 162.2 429.0 161.1 428.9 160.0 428.9 158.8 428.8 157.7 428.8 156.6 428.7 155.5 428.7 154.3 428.7 153.2 428.6 152.1 428.6 150.9 428.5 149.8 428.5 148.7 423.5Z" fill="#a5a5a5" stroke="#a5a5a5" stroke-width="1" stroke-linejoin="round"/>
<path d="M166.8 417.8h0M156.5 432.1h0M187.6 419.9h0M165.6 430.8h0M171.2 429.4h0M194.5 419.6h0M182.3 430.0h0M188.6 429.0h0M185.1 418.7h0M162.5 415.8h0M154.9 429.1h0M182.1 411.8h0M177.8 418.1h0M174.0 427.7h0M156.1 430.7h0M166.9 418.2h0M154.6 431.7h0M213.0 421.4h0M177.7 428.1h0M170.2 418.0h0M175.7 418.8h0M154.8 416.2h0M170.0 413.4h0M165.2 418.2h0M203.4 421.0h0M167.6 428.4h0M221.3 416.0h0M167.2 418.5h0M167.5 416.2h0M153.6 417.9h0M166.5 418.2h0M225.7 421.2h0M165.4 431.6h0M172.8 429.6h0M232.7 425.1h0M168.7 414.5h0M156.0 430.1h0M215.3 421.3h0M231.1 426.6h0M202.6 428.1h0M182.1 419.7h0M193.2 428.2h0M161.1 430.9h0M151.3 416.0h0M188.2 418.1h0M166.7 413.9h0M159.6 431.8h0M179.3 417.5h0M170.7 428.4h0M162.8 417.8h0M183.9 427.2h0M171.3 428.5h0M183.1 426.6h0M174.1 432.9h0M203.4 425.6h0M181.8 426.9h0M224.6 421.3h0M220.7 420.4h0M157.6 415.9h0M191.3 419.1h0M177.1 427.2h0M172.2 419.0h0M228.5 418.1h0M192.1 426.7h0M218.2 424.6h0M203.2 426.4h0M170.8 428.4h0M171.2 428.2h0M177.0 417.1h0M177.7 427.1h0M205.9 425.6h0M196.4 425.5h0M194.2 420.4h0M166.0 431.4h0M161.7 429.4h0M162.6 430.4h0M186.5 419.9h0M171.6 427.7h0M169.9 429.5h0M200.4 428.0h0M189.7 427.4h0M184.6 417.4h0M156.6 415.4h0M176.4 416.7h0M176.1 427.0h0M152.4 418.1h0M166.6 429.2h0M163.9 436.3h0M175.6 429.5h0M159.2 414.9h0M199.3 419.6h0M197.5 427.9h0M171.0 417.6h0M239.4 426.5h0M200.8 426.4h0M157.5 429.7h0M193.6 420.2h0M223.2 420.4h0M185.2 428.5h0M182.6 426.9h0M215.7 421.1h0M194.3 426.2h0M216.9 425.0h0M225.1 421.3h0M152.2 414.7h0M217.2 425.8h0M171.9 427.9h0M153.5 429.1h0M160.8 429.0h0M162.7 429.2h0M202.3 420.0h0M173.1 412.9h0M167.3 428.4h0M170.4 429.2h0M157.1 429.0h0M153.2 418.0h0M153.9 429.2h0M194.6 414.4h0M165.6 432.5h0M202.2 420.8h0M161.1 430.0h0M174.4 429.6h0M154.2 417.9h0M191.1 419.0h0M174.5 415.3h0M173.6 418.8h0M164.2 430.4h0M184.2 426.6h0M176.5 418.7h0M174.0 419.0h0M223.8 421.3h0M170.3 415.8h0M163.6 430.0h0M179.5 419.4h0M163.7 417.4h0M197.8 425.9h0M188.3 416.5h0M172.7 418.0h0M182.1 429.2h0M208.8 424.9h0M194.3 420.1h0M182.4 419.4h0M169.5 432.2h0M169.9 427.8h0M156.9 418.1h0M185.9 426.0h0M202.1 426.1h0M179.5 426.8h0M172.1 428.0h0M159.9 429.0h0M162.2 417.0h0M170.8 429.6h0M187.5 418.8h0M183.0 427.3h0M190.7 429.9h0M211.3 420.6h0M170.8 418.4h0M165.3 417.9h0M201.6 427.8h0M172.3 418.8h0M189.3 426.1h0M176.5 427.7h0M170.0 416.7h0M213.5 416.6h0M173.6 419.1h0M218.0 425.4h0M179.2 418.9h0M176.1 419.3h0M160.4 430.7h0M202.4 425.8h0M158.9 431.7h0M238.2 424.3h0M196.3 420.2h0M154.0 430.0h0M166.9 429.1h0M174.0 428.0h0M160.2 428.9h0M219.0 420.0h0M161.3 429.3h0M190.1 430.7h0M225.9 427.6h0M173.5 429.2h0M202.3 419.7h0M199.4 425.3h0M154.8 416.3h0M233.4 421.3h0M179.8 418.2h0M195.4 420.6h0M151.8 429.1h0M191.4 417.1h0M197.9 420.4h0M208.7 420.6h0M167.5 417.9h0M211.3 419.7h0M234.0 422.3h0M163.0 431.5h0M190.3 418.9h0M150.8 429.6h0M169.8 416.5h0M222.5 428.6h0M176.3 428.4h0M164.1 417.2h0M171.0 418.1h0M186.9 428.2h0M164.0 417.0h0M176.9 419.1h0M208.3 429.8h0M162.7 417.5h0M165.4 429.3h0M160.5 429.5h0M234.5 424.2h0M205.4 418.9h0M168.2 429.5h0M184.7 415.4h0M175.3 428.3h0M162.3 417.8h0M163.5 416.8h0M162.9 416.6h0M168.9 417.1h0M183.9 428.1h0M212.2 420.8h0M174.7 418.6h0M182.1 428.3h0M174.5 427.3h0M161.7 429.9h0M156.2 415.8h0M204.4 426.9h0M184.3 416.4h0M161.0 431.1h0M189.3 428.0h0M197.8 427.1h0M152.7 417.9h0M156.0 417.5h0M158.8 429.0h0M169.2 418.5h0M222.4 425.1h0M162.6 417.1h0M173.7 417.8h0M185.9 428.5h0M170.3 429.4h0M176.0 417.4h0M172.2 428.1h0M173.5 428.6h0M178.4 428.2h0M192.5 428.2h0M225.6 419.1h0M158.8 417.9h0M194.5 419.9h0M185.2 419.7h0M174.5 428.3h0M181.7 418.4h0M160.3 429.6h0M160.7 429.4h0M233.7 424.8h0M166.2 429.1h0M162.3 429.3h0M162.1 432.1h0M185.3 426.7h0M212.3 421.2h0M213.9 421.4h0M161.1 429.0h0M204.3 419.7h0M161.8 429.9h0M193.3 419.1h0M201.9 418.5h0M207.8 425.0h0M178.0 427.9h0M183.6 427.1h0M191.7 426.1h0M173.9 427.7h0M165.7 429.1h0M212.4 425.1h0M180.2 426.7h0M201.2 420.8h0M161.5 417.7h0M189.8 418.1h0M168.6 418.2h0M223.7 426.4h0M176.5 427.4h0M176.6 419.3h0M197.0 426.2h0M170.4 418.5h0M183.3 419.5h0M179.3 427.6h0M166.7 418.4h0M197.8 426.3h0M173.5 428.0h0M209.3 426.7h0M178.8 419.3h0M226.8 428.6h0M165.3 417.2h0M225.8 426.5h0M176.7 417.1h0M160.0 417.7h0M176.4 419.0h0M156.5 430.6h0M193.8 420.5h0M197.8 415.7h0M203.4 420.3h0M179.5 428.9h0M225.9 420.1h0M237.9 422.4h0M194.5 426.1h0M165.3 418.2h0M168.6 429.3h0M164.0 418.2h0M158.3 428.9h0M165.2 428.7h0M175.0 428.7h0M181.3 427.6h0M165.9 437.1h0M197.4 420.7h0M194.3 420.3h0M156.4 429.1h0M191.4 420.1h0M217.2 425.4h0M224.6 421.0h0M160.6 416.6h0M206.5 420.5h0M215.9 421.2h0M174.9 412.2h0M172.8 430.4h0M178.9 428.5h0M231.2 425.3h0M184.7 429.8h0M183.8 426.8h0M201.9 419.5h0M180.3 431.2h0M174.7 430.1h0M208.0 425.6h0M164.7 431.1h0M186.9 432.7h0M160.7 429.0h0M170.1 429.2h0M182.7 435.7h0M153.0 429.1h0M160.5 415.5h0M170.1 427.9h0M189.9 426.8h0M206.1 425.3h0M204.9 425.6h0M175.6 415.1h0M180.9 418.7h0M152.7 429.5h0M173.3 416.9h0M199.1 419.1h0M173.8 430.3h0M223.3 425.0h0M199.8 420.3h0M224.7 426.1h0M177.0 428.9h0M187.1 417.6h0M164.3 429.5h0M151.9 417.9h0M153.1 429.6h0M164.2 431.4h0M184.2 417.0h0M180.5 419.3h0M174.7 428.0h0M174.6 415.0h0M163.5 429.2h0M170.3 427.9h0M191.3 427.4h0M191.8 420.2h0M169.6 430.9h0M220.0 420.3h0M172.3 428.5h0M224.1 425.3h0M155.1 416.8h0M158.3 417.7h0M167.1 417.7h0M159.8 416.8h0M163.7 417.1h0M162.0 429.4h0M161.0 417.1h0M183.4 427.0h0M191.3 426.6h0M201.6 429.0h0M210.6 417.1h0M194.3 425.6h0M174.7 431.1h0M192.7 426.6h0M178.0 419.3h0M163.7 429.0h0M174.0 419.0h0M221.5 421.6h0M157.1 417.1h0M159.1 417.8h0M172.9 416.8h0M189.5 420.0h0M168.0 430.4h0M170.3 415.0h0M191.6 418.4h0M165.7 418.1h0M174.4 418.6h0M238.8 424.1h0M158.7 417.5h0M177.5 417.4h0M203.7 421.0h0M155.2 429.0h0M213.2 419.7h0M164.1 417.1h0M174.2 427.3h0M159.6 417.1h0M169.1 429.2h0M191.7 425.9h0M167.2 429.2h0M168.2 429.4h0M166.4 429.5h0M185.3 426.8h0M176.4 428.7h0M162.8 429.6h0M183.9 417.6h0M164.1 417.7h0M192.0 428.9h0M168.5 417.5h0M169.2 429.4h0M188.7 418.6h0M200.2 420.0h0M154.6 433.9h0M198.4 426.1h0M177.8 428.2h0M175.0 427.3h0M198.8 419.9h0M211.9 420.8h0M166.0 429.3h0M198.8 427.2h0M152.4 428.6h0M170.8 428.0h0M168.1 411.1h0M181.4 426.7h0M214.7 425.2h0M161.7 415.8h0M188.1 428.0h0M160.1 430.3h0M157.2 416.6h0M157.2 429.1h0M192.2 419.6h0M185.1 418.8h0M205.6 425.3h0M166.8 429.9h0M157.3 429.3h0M179.7 427.0h0M224.5 425.0h0M174.6 419.2h0M191.4 425.7h0M189.8 417.7h0M156.3 417.9h0M210.9 419.9h0M209.3 425.7h0M173.7 429.7h0M172.0 429.6h0M184.9 418.7h0M175.0 419.1h0M173.0 415.9h0M197.4 419.9h0M188.7 419.5h0M203.7 427.6h0M162.2 416.3h0M171.8 429.8h0M189.6 429.7h0M172.2 429.5h0M157.5 417.5h0M172.6 415.8h0M171.1 418.3h0M172.8 429.4h0M178.5 416.4h0M174.5 428.8h0M157.1 429.0h0M172.3 418.7h0M185.8 419.9h0M166.2 431.9h0M166.1 428.7h0M165.8 417.1h0M212.4 426.3h0M165.9 418.3h0M208.7 425.5h0M165.1 429.5h0M186.1 419.1h0M160.8 417.3h0M170.8 418.2h0M175.6 418.8h0M171.4 430.7h0M191.2 416.3h0M184.9 427.0h0M193.3 425.7h0M152.1 416.3h0M173.1 418.3h0M209.7 418.5h0M178.4 417.6h0M181.6 418.6h0M202.2 428.3h0M174.0 417.2h0M198.2 420.2h0M211.2 425.8h0M214.2 419.0h0M164.1 430.6h0M156.3 415.4h0M166.3 428.7h0M217.5 426.3h0M168.4 417.4h0M176.8 427.2h0M178.8 427.5h0M171.4 429.0h0M156.5 417.8h0M174.0 429.7h0M205.9 419.5h0M238.8 422.8h0M201.7 420.6h0M186.2 419.7h0M209.2 419.1h0M207.8 421.1h0M188.9 425.8h0M210.7 425.2h0M163.5 415.1h0M183.8 427.7h0M175.9 428.3h0M170.7 418.5h0M187.3 419.8h0M150.9 415.3h0M192.4 427.2h0M185.4 418.2h0M179.0 419.2h0M194.3 425.6h0M171.6 418.9h0M209.8 425.2h0M168.7 428.1h0M197.7 419.3h0M184.4 419.4h0M193.2 417.2h0M183.0 427.4h0M189.9 428.2h0M160.0 429.5h0M155.4 429.7h0M160.5 417.0h0M199.3 419.5h0M205.4 426.8h0M158.4 417.4h0M194.6 420.1h0M172.3 415.7h0M227.3 424.7h0M201.2 425.3h0M180.0 416.8h0M201.6 418.5h0M194.4 418.5h0M177.6 419.4h0M201.7 416.4h0M183.5 418.6h0M190.1 420.1h0M154.9 429.0h0M194.6 425.8h0M200.0 420.9h0M170.0 428.3h0M157.7 431.2h0M156.2 429.1h0M177.2 419.2h0M210.3 425.2h0M198.0 425.4h0M188.9 420.0h0M191.1 419.6h0M189.1 419.5h0M187.2 427.2h0M195.4 415.5h0M183.5 419.3h0M218.3 415.9h0M167.5 418.0h0M200.1 420.8h0M189.0 427.1h0M192.5 420.4h0M218.1 421.5h0M167.7 428.5h0M218.5 425.5h0M167.7 429.4h0M162.8 418.1h0M232.4 421.9h0M158.6 429.5h0M170.9 416.8h0M167.4 431.5h0M168.3 428.2h0M174.0 417.4h0M175.2 428.6h0M241.8 421.8h0M153.0 412.8h0M224.9 425.1h0M192.0 420.3h0M174.7 430.5h0M184.7 419.5h0M171.9 427.9h0M186.8 419.6h0M193.4 426.1h0M160.9 418.0h0M196.8 426.2h0M177.5 427.0h0M175.7 418.4h0M233.5 421.6h0M157.4 417.4h0M175.4 415.0h0M180.8 427.6h0M198.3 427.2h0M155.4 430.6h0M188.7 426.3h0M186.4 419.4h0M204.6 427.0h0M170.4 429.5h0M217.1 421.3h0M159.5 415.1h0M171.5 427.6h0M159.5 414.7h0M162.4 417.8h0M154.9 430.5h0M158.2 417.5h0M201.5 420.9h0M207.1 419.7h0M190.7 420.1h0M203.0 420.6h0M181.6 429.5h0M240.1 425.2h0M184.1 418.8h0M232.9 420.6h0M162.7 417.3h0M182.9 428.2h0M153.4 417.3h0M158.5 431.0h0M168.1 430.4h0M164.2 432.0h0M195.2 425.6h0M167.0 429.2h0M174.8 427.5h0M190.4 426.0h0M166.6 428.5h0M156.4 428.9h0M193.1 428.1h0M164.7 418.1h0M171.3 428.7h0M153.0 428.8h0M159.8 418.0h0M222.5 421.3h0M227.3 424.8h0M162.0 429.3h0M189.6 427.1h0M232.5 424.5h0M154.0 429.2h0M205.3 420.1h0M156.2 428.8h0M232.1 423.9h0M183.5 433.7h0M217.6 426.8h0M235.4 423.9h0M164.1 429.5h0M181.9 428.9h0M222.3 420.4h0M179.6 419.3h0M177.0 418.5h0M166.9 417.2h0M175.4 418.3h0M163.9 428.9h0M169.7 418.3h0M181.9 427.1h0M160.1 429.1h0M203.7 420.5h0M163.7 417.4h0M175.9 419.1h0M186.8 426.5h0M171.7 427.7h0M223.3 421.5h0M242.3 421.7h0M218.4 425.7h0M211.3 424.8h0M155.5 432.1h0M176.5 419.1h0M231.7 426.4h0M169.7 428.7h0M180.6 430.4h0M197.8 420.5h0M181.7 419.4h0M189.5 420.0h0M177.2 417.4h0M195.9 420.3h0M157.8 416.2h0M171.7 427.6h0M175.3 427.1h0M171.7 418.8h0M175.1 431.7h0M167.7 417.0h0M181.9 419.6h0M224.0 421.5h0M200.2 420.0h0M175.9 419.3h0M224.7 425.1h0M193.7 426.4h0M183.7 426.4h0M183.3 426.8h0M196.9 426.2h0M164.8 430.7h0M163.3 417.5h0M168.8 431.9h0M214.0 420.2h0M198.1 420.4h0M179.3 427.5h0M153.7 417.7h0M159.3 431.1h0M204.8 426.6h0M151.8 429.2h0M203.4 420.1h0M155.7 429.5h0M177.8 417.3h0M166.7 429.1h0M214.0 427.5h0M161.2 417.2h0M175.8 417.5h0M189.3 419.7h0M170.1 418.1h0M242.4 424.2h0M158.4 428.9h0M203.0 425.7h0M165.8 428.7h0M195.9 419.9h0M183.6 419.6h0M176.8 427.5h0M189.4 418.8h0M214.3 421.2h0M202.4 425.3h0M182.3 429.0h0M160.7 430.9h0M159.0 417.2h0M173.6 427.8h0M226.6 424.4h0M166.7 431.0h0M178.6 417.2h0M165.7 413.8h0M175.2 417.9h0M157.4 417.9h0M163.5 416.3h0M188.9 431.1h0M191.4 427.0h0M171.7 417.8h0M160.6 429.2h0M158.5 428.8h0M169.2 428.4h0M173.7 427.9h0M175.0 419.0h0M171.2 429.1h0M180.6 427.5h0M220.0 425.0h0M213.8 428.2h0M187.7 419.7h0M214.0 424.7h0M219.2 424.7h0M214.2 425.1h0M191.5 428.5h0M158.2 416.3h0M168.9 431.7h0M163.8 415.7h0M172.0 417.4h0M182.6 428.2h0M174.2 431.5h0M162.8 416.7h0M167.3 428.2h0M164.8 428.8h0M180.7 419.1h0M220.8 425.4h0M161.4 429.8h0M180.2 428.3h0M170.7 417.8h0M183.3 419.5h0M207.8 425.4h0M154.2 416.3h0M156.2 414.5h0M168.0 428.7h0M203.6 426.9h0M180.8 417.7h0M229.5 420.7h0M205.3 420.8h0M156.2 417.4h0M161.3 414.7h0M188.1 419.8h0M151.2 431.7h0M173.5 433.9h0M166.5 417.8h0M183.8 426.3h0M162.2 429.2h0M209.3 429.7h0M176.6 417.4h0M167.6 415.8h0M189.6 419.9h0M161.7 417.2h0M159.7 431.9h0M188.2 419.7h0M194.9 426.0h0M219.3 421.7h0M188.6 427.3h0M176.8 419.0h0M186.8 427.2h0M177.5 418.6h0M230.3 421.8h0M174.9 418.7h0M189.0 432.2h0M193.3 428.9h0M212.1 420.6h0M171.5 436.2h0M238.7 425.1h0M173.5 419.0h0M172.0 427.6h0M189.0 426.0h0M210.2 425.0h0M230.2 424.2h0M204.6 420.7h0M199.7 425.6h0M173.2 429.0h0M206.9 425.6h0M173.4 428.6h0M177.0 411.1h0M162.3 417.9h0M171.6 428.0h0M173.9 430.3h0M164.9 429.8h0M184.6 419.3h0M178.5 418.6h0M183.2 418.4h0M212.3 426.1h0M198.0 419.6h0M179.7 426.7h0M173.8 434.0h0M170.7 430.1h0M191.7 427.1h0M183.3 430.0h0M190.1 431.1h0M217.9 427.4h0M191.6 426.9h0M171.3 431.6h0M159.4 430.2h0M179.5 427.3h0M174.1 428.8h0M177.3 417.9h0M178.1 427.1h0M186.0 415.8h0M193.2 426.5h0M194.2 428.0h0M172.6 418.1h0M178.2 419.4h0M161.3 417.2h0M205.6 427.5h0M229.7 421.6h0M168.2 430.9h0M175.9 427.4h0M183.8 428.3h0M179.0 427.6h0M170.1 427.9h0M156.3 429.2h0M170.1 428.0h0M175.6 427.9h0M166.7 417.7h0M168.6 429.1h0M207.9 425.2h0M174.0 416.1h0M184.7 419.3h0M154.3 416.4h0M196.0 420.4h0M169.5 418.5h0M175.9 430.0h0M223.4 422.0h0M186.5 427.3h0M233.1 424.6h0M162.9 429.0h0M199.3 428.5h0M173.0 418.6h0M171.8 418.7h0M229.9 421.9h0M179.2 427.3h0M158.2 432.7h0M160.2 415.3h0M173.6 415.5h0M181.1 427.8h0M164.8 418.2h0M178.0 426.8h0M162.2 433.5h0M190.8 427.5h0M168.3 417.8h0M162.3 417.3h0M197.2 426.5h0M166.6 414.7h0M182.1 417.3h0M173.3 428.4h0M156.8 429.2h0M177.4 417.8h0M162.0 417.4h0M196.7 426.1h0M202.9 420.0h0M174.1 427.9h0M156.0 429.5h0M167.9 416.7h0M176.4 427.0h0M225.6 424.7h0M219.1 424.6h0M158.4 429.0h0M168.6 418.0h0M163.7 429.2h0M176.3 415.5h0M165.5 415.2h0M175.6 416.1h0M182.5 428.0h0M156.8 416.8h0M198.5 425.7h0M170.4 427.9h0M164.1 418.0h0M160.6 429.6h0M191.7 426.1h0M199.7 420.6h0M218.5 424.7h0M173.4 428.4h0M216.5 421.3h0M185.8 426.1h0M179.2 418.5h0M161.6 429.0h0M219.4 419.1h0M201.7 426.2h0M204.9 420.3h0M179.8 418.5h0M215.5 425.5h0M165.7 430.9h0M240.3 421.5h0M192.8 418.0h0M165.9 417.6h0M241.7 424.1h0M177.1 418.9h0M196.1 425.7h0M208.7 427.4h0M171.7 428.2h0M155.0 428.9h0M162.9 431.5h0M184.1 427.7h0M162.1 415.9h0M167.0 431.6h0M195.4 427.3h0M154.7 432.6h0M175.9 419.0h0M228.9 424.0h0M158.5 429.2h0M156.3 417.8h0M192.2 430.2h0M152.3 416.2h0M166.2 417.0h0M169.8 415.5h0M218.3 426.2h0M175.3 417.1h0M167.7 428.5h0M223.8 425.2h0M181.2 426.6h0M170.5 415.6h0M176.1 428.4h0M158.3 417.7h0M159.2 417.1h0M156.6 418.0h0M200.6 420.4h0M181.2 419.5h0M230.2 418.9h0M186.3 419.1h0M155.0 429.0h0M164.1 428.9h0M161.7 413.7h0M157.6 413.6h0M187.5 426.3h0M171.5 402.1h0M183.4 403.4h0M163.6 406.1h0M170.5 409.4h0M189.4 412.1h0M165.6 410.8h0M205.2 431.5h0M162.6 431.5h0M180.4 430.2h0M192.3 428.9h0M143.7 403.4h0M146.7 406.1h0" stroke="#a5a5a5" stroke-width="1.8" stroke-linecap="round" fill="none"/>
<path d="M137.2 424.2h0M150.6 444.3h0M148.7 442.1h0M146.9 439.7h0M145.3 437.3h0M143.8 434.7h0M142.7 432.1h0M141.8 429.2h0M141.2 426.3h0M141.1 423.4h0M141.3 420.4h0M141.9 417.4h0M142.8 414.5h0M144.1 411.7h0M145.7 409.0h0M147.4 406.5h0M149.3 404.1h0M151.4 401.8h0M152.2 442.3h0M150.6 440.3h0M149.2 438.2h0M147.9 436.0h0M146.7 433.7h0M145.8 431.3h0M145.1 428.9h0M144.6 426.4h0M144.4 423.8h0M144.5 421.2h0M145.0 418.6h0M145.6 416.0h0M146.6 413.6h0M147.8 411.2h0M149.1 408.9h0M150.6 406.7h0M152.3 404.6h0M151.7 439.6h0M150.5 437.7h0M149.3 435.8h0M148.3 433.7h0M147.5 431.6h0M146.8 429.5h0M146.3 427.3h0M146.1 425.0h0M146.0 422.7h0M146.2 420.4h0M146.7 418.1h0M147.3 415.9h0M148.1 413.7h0M149.1 411.6h0M150.3 409.5h0M151.6 407.6h0M151.5 436.9h0M150.5 435.2h0M149.7 433.4h0M148.9 431.6h0M148.3 429.7h0M147.9 427.8h0M147.6 425.8h0M147.5 423.8h0M147.6 421.8h0M147.8 419.8h0M148.2 417.8h0M148.8 415.9h0M149.5 414.0h0M150.3 412.2h0M151.3 410.4h0" stroke="#a5a5a5" stroke-width="1.8" stroke-linecap="round" fill="none"/>
<path d="M137.2 396.0h0M139.0 393.8h0M141.0 391.9h0M142.6 389.9h0M145.1 384.0h0M148.6 381.0h0M152.1 378.3h0M155.8 375.1h0M137.3 450.4h0M139.2 453.1h0M140.8 455.8h0M142.6 458.5h0M144.6 461.1h0" stroke="#a5a5a5" stroke-width="2.3" stroke-linecap="round" fill="none"/>
<rect x="103.5" y="351.5" width="161.5" height="144" fill="none" stroke="#111" stroke-width="1.5"/>
<line x1="100.7" y1="356.5" x2="103.5" y2="356.5" stroke="#111" stroke-width="1.3"/>
<text font-size="12.6" text-anchor="middle" transform="translate(99.30 358.30) rotate(-90) scale(1.035 1)" stroke="#1a1a1a" stroke-width="0.25">10</text>
<line x1="100.7" y1="390.0" x2="103.5" y2="390.0" stroke="#111" stroke-width="1.3"/>
<text font-size="12.6" text-anchor="middle" transform="translate(99.30 391.80) rotate(-90) scale(1.035 1)" stroke="#1a1a1a" stroke-width="0.25">5</text>
<line x1="100.7" y1="423.5" x2="103.5" y2="423.5" stroke="#111" stroke-width="1.3"/>
<text font-size="12.6" text-anchor="middle" transform="translate(99.30 423.70) rotate(-90) scale(1.035 1)" stroke="#1a1a1a" stroke-width="0.25">0</text>
<line x1="100.7" y1="457.0" x2="103.5" y2="457.0" stroke="#111" stroke-width="1.3"/>
<text font-size="12.6" text-anchor="middle" transform="translate(99.30 455.50) rotate(-90) scale(1.035 1)" stroke="#1a1a1a" stroke-width="0.25">-5</text>
<line x1="100.7" y1="490.5" x2="103.5" y2="490.5" stroke="#111" stroke-width="1.3"/>
<text font-size="12.6" text-anchor="middle" transform="translate(99.30 489.00) rotate(-90) scale(1.035 1)" stroke="#1a1a1a" stroke-width="0.25">-10</text>
<line x1="110.0" y1="495.5" x2="110.0" y2="498.8" stroke="#111" stroke-width="1.3"/>
<text font-size="12.8" text-anchor="middle" transform="matrix(1 0 0 1.035 110.00 511.50)" stroke="#1a1a1a" stroke-width="0.25">0</text>
<line x1="159.6" y1="495.5" x2="159.6" y2="498.8" stroke="#111" stroke-width="1.3"/>
<text font-size="12.8" text-anchor="middle" transform="matrix(1 0 0 1.035 159.60 511.50)" stroke="#1a1a1a" stroke-width="0.25">5</text>
<line x1="209.2" y1="495.5" x2="209.2" y2="498.8" stroke="#111" stroke-width="1.3"/>
<text font-size="12.8" text-anchor="middle" transform="matrix(1 0 0 1.035 209.20 511.50)" stroke="#1a1a1a" stroke-width="0.25">10</text>
<line x1="258.8" y1="495.5" x2="258.8" y2="498.8" stroke="#111" stroke-width="1.3"/>
<text font-size="12.8" text-anchor="middle" transform="matrix(1 0 0 1.035 258.80 511.50)" stroke="#1a1a1a" stroke-width="0.25">15</text>
<text font-size="12.8" text-anchor="middle" transform="translate(83.00 423.50) rotate(-90) scale(1.035 1)" stroke="#1a1a1a" stroke-width="0.25">log<tspan font-size="9" dy="3.5">2</tspan><tspan dy="-3.5">(Fold Change)</tspan></text>
<text font-size="12.8" text-anchor="end" fill="#e41e78" transform="matrix(1 0 0 1.035 260.50 364.30)" stroke="#e41e78" stroke-width="0.25">0 genes</text>
<text font-size="12.8" text-anchor="end" fill="#3fbd62" transform="matrix(1 0 0 1.035 260.50 490.90)" stroke="#3fbd62" stroke-width="0.25">0 genes</text>
<path d="M333.3 423.5 334.4 416.4 335.5 414.4 336.7 414.4 337.8 414.4 338.9 414.5 340.1 414.5 341.2 414.6 342.3 414.6 343.4 414.7 344.6 414.7 345.7 414.8 346.8 414.9 347.9 414.9 349.1 415.0 350.2 415.1 351.3 415.2 352.5 415.3 353.6 415.4 354.7 415.5 355.8 415.7 357.0 415.8 358.1 415.9 359.2 416.0 360.3 416.1 361.5 416.2 362.6 416.3 363.7 416.5 364.9 416.6 366.0 416.7 367.1 416.9 368.2 417.0 369.4 417.1 370.5 417.3 371.6 417.4 372.7 417.5 373.9 417.6 375.0 417.8 376.1 417.9 377.3 418.0 378.4 418.1 379.5 418.3 380.6 418.4 381.8 418.5 382.9 418.6 384.0 418.8 385.1 418.9 386.3 419.0 387.4 419.1 388.5 419.2 389.7 419.3 390.8 419.4 391.9 419.5 393.0 419.6 394.2 419.7 395.3 419.8 396.4 419.9 397.5 420.0 398.7 420.1 399.8 420.2 400.9 420.2 402.1 420.3 403.2 420.4 404.3 420.5 405.4 420.6 406.6 420.6 407.7 420.7 408.8 420.8 409.9 420.9 411.1 421.0 412.2 421.1 413.3 421.2 414.5 421.3 415.6 421.4 416.7 421.6 417.8 421.8 419.0 422.1 420.1 422.3 421.2 422.5 422.3 422.8 423.5 423.0 423.5 423.5 422.3 423.6 421.2 423.8 420.1 423.9 419.0 424.0 417.8 424.2 416.7 424.3 415.6 424.4 414.5 424.6 413.3 424.7 412.2 424.8 411.1 424.9 409.9 425.0 408.8 425.2 407.7 425.3 406.6 425.4 405.4 425.4 404.3 425.5 403.2 425.6 402.1 425.6 400.9 425.7 399.8 425.7 398.7 425.8 397.5 425.9 396.4 425.9 395.3 426.0 394.2 426.0 393.0 426.1 391.9 426.1 390.8 426.2 389.7 426.2 388.5 426.3 387.4 426.3 386.3 426.4 385.1 426.4 384.0 426.5 382.9 426.5 381.8 426.6 380.6 426.6 379.5 426.7 378.4 426.7 377.3 426.8 376.1 426.8 375.0 426.9 373.9 426.9 372.7 427.0 371.6 427.0 370.5 427.1 369.4 427.3 368.2 427.4 367.1 427.5 366.0 427.6 364.9 427.7 363.7 427.8 362.6 427.9 361.5 428.0 360.3 428.2 359.2 428.2 358.1 428.3 357.0 428.4 355.8 428.5 354.7 428.6 353.6 428.7 352.5 428.8 351.3 428.9 350.2 429.0 349.1 429.0 347.9 429.1 346.8 429.2 345.7 429.3 344.6 429.3 343.4 429.4 342.3 429.4 341.2 429.5 340.1 429.6 338.9 429.6 337.8 429.7 336.7 429.8 335.5 429.7 334.4 429.7 333.3 423.5Z" fill="#8c8c8c" stroke="#8c8c8c" stroke-width="1" stroke-linejoin="round"/>
<path d="M381.0 429.0h0M398.6 420.0h0M366.5 428.7h0M336.2 430.3h0M380.4 426.6h0M349.9 434.9h0M354.6 429.8h0M349.6 430.7h0M359.0 415.7h0M355.3 428.6h0M357.5 413.3h0M356.1 413.9h0M400.6 425.7h0M359.3 416.0h0M348.2 429.4h0M357.9 429.4h0M343.9 431.7h0M338.7 414.3h0M379.6 427.3h0M372.9 417.0h0M341.9 431.2h0M362.0 429.3h0M365.5 427.7h0M338.3 411.8h0M397.0 427.4h0M343.8 429.6h0M354.9 439.3h0M368.0 416.0h0M361.8 428.7h0M369.0 416.9h0M408.0 425.9h0M406.2 427.0h0M359.1 415.5h0M405.0 426.0h0M384.3 426.5h0M352.3 429.7h0M384.0 427.1h0M398.2 426.5h0M370.5 427.4h0M390.2 417.4h0M407.5 419.1h0M381.1 428.1h0M337.9 430.6h0M350.4 413.7h0M366.7 416.7h0M356.2 415.4h0M366.3 429.0h0M351.5 415.2h0M353.9 428.8h0M359.8 414.6h0M372.9 428.2h0M418.5 426.6h0M359.5 429.6h0M379.4 414.9h0M343.8 413.3h0M381.8 417.8h0M350.9 409.9h0M378.0 412.3h0M362.6 410.2h0M354.4 428.8h0M364.6 430.0h0M336.3 430.3h0M353.3 408.8h0M379.3 428.2h0M402.9 419.2h0M355.0 414.7h0M399.6 420.1h0M365.5 430.9h0M336.4 430.6h0M392.9 427.1h0M360.6 413.3h0M355.0 428.7h0M390.7 426.7h0M367.3 415.9h0M346.6 412.4h0M351.1 431.2h0M337.7 435.4h0M383.8 416.9h0M354.7 428.8h0M362.5 414.9h0M343.9 414.6h0M375.8 414.7h0M363.8 415.1h0M340.3 429.8h0M369.5 428.4h0M353.0 429.2h0M370.4 416.9h0M398.0 427.7h0M342.4 414.5h0M377.8 415.0h0M356.6 428.5h0M340.1 434.0h0M350.7 434.2h0M381.2 418.1h0M380.0 417.6h0M422.9 420.5h0M377.6 416.1h0M366.6 415.4h0M366.3 416.5h0M359.9 412.9h0M352.5 415.1h0M351.4 428.9h0M359.5 429.9h0M366.7 427.7h0M354.7 413.6h0M351.1 429.6h0M359.2 415.0h0M397.2 419.7h0M387.4 417.5h0M340.7 413.8h0M373.2 416.5h0M351.9 414.5h0M352.6 414.8h0M338.8 429.9h0M361.7 416.1h0M343.8 433.1h0M336.8 430.7h0M360.0 430.1h0M355.7 413.1h0M344.3 429.5h0M345.2 414.4h0M363.5 416.0h0M349.3 414.3h0M363.0 429.9h0M402.7 426.4h0M385.1 428.4h0M353.3 414.7h0M341.0 430.0h0M354.3 430.8h0M345.2 432.2h0M379.8 417.5h0M376.8 416.0h0M371.6 415.6h0M344.5 411.1h0M363.9 429.9h0M371.8 416.1h0M417.1 424.4h0M338.4 430.6h0M361.1 415.7h0M374.6 415.7h0M358.4 434.3h0M361.6 413.6h0M338.8 429.8h0M412.0 426.5h0M381.0 417.7h0M370.0 416.9h0M356.2 415.1h0M367.1 428.2h0M417.5 426.0h0M372.2 427.7h0M388.4 418.7h0M342.5 430.7h0M393.9 415.8h0M401.3 430.3h0M389.6 428.2h0M349.8 411.7h0M360.9 429.7h0M360.7 429.8h0M394.1 416.5h0M355.5 430.0h0M347.4 412.7h0M340.8 432.1h0M396.3 426.7h0M354.0 410.5h0M374.6 417.4h0M377.8 428.5h0M340.7 432.2h0M356.3 430.0h0M351.0 412.5h0M343.4 414.4h0M346.5 429.4h0M397.9 428.2h0M381.3 418.3h0M340.9 413.9h0M388.6 419.1h0M372.8 427.2h0M359.8 429.2h0M402.7 419.8h0M367.3 429.4h0M360.4 429.2h0M409.8 420.4h0M339.9 430.0h0M341.6 414.5h0M360.6 416.0h0M404.1 420.4h0M365.7 415.6h0M350.4 414.3h0M342.4 434.0h0M369.7 428.0h0M364.0 431.2h0M337.5 430.5h0M421.0 424.5h0M402.0 425.9h0M363.1 408.8h0M363.0 415.5h0M386.6 418.7h0M341.6 432.8h0M421.9 421.3h0M351.5 411.1h0M348.5 429.6h0M359.8 428.5h0M342.7 413.1h0M359.5 429.5h0M351.7 429.3h0M367.5 427.5h0M362.9 429.3h0M340.3 414.5h0M358.0 415.3h0M385.0 427.1h0M393.7 430.5h0M355.3 411.6h0M365.0 415.5h0M373.6 417.4h0M368.5 416.7h0M357.8 410.8h0M353.7 413.5h0M422.2 424.4h0M352.0 412.2h0M398.6 420.1h0M420.4 419.3h0M377.2 428.7h0M379.8 413.9h0M340.9 414.4h0M365.9 430.9h0M341.3 411.9h0M401.6 419.8h0M402.4 416.9h0M346.7 429.7h0M349.6 414.4h0M363.3 414.9h0M345.7 413.1h0M375.6 417.6h0M368.5 430.7h0M386.0 428.7h0M354.8 415.1h0M381.8 413.9h0M405.0 425.6h0M339.8 430.3h0M395.6 419.1h0M394.4 416.7h0M355.3 432.8h0M343.6 414.3h0M374.8 427.1h0M366.3 414.6h0M372.2 433.4h0M364.2 429.0h0M363.5 428.9h0M360.3 412.4h0M416.1 421.3h0M364.6 429.0h0M354.2 415.1h0M402.5 420.1h0M390.7 426.3h0M345.4 414.7h0M380.6 426.9h0M343.7 414.3h0M340.0 429.8h0M357.4 414.3h0M354.1 412.4h0M362.9 410.9h0M385.0 416.9h0M363.0 414.7h0M397.1 427.7h0M368.6 429.6h0M372.0 417.2h0M351.5 413.7h0M383.7 418.3h0M385.2 428.4h0M364.0 414.5h0M378.1 427.6h0M340.7 411.9h0M365.7 414.3h0M370.9 429.4h0M381.1 428.0h0M341.0 414.4h0M342.6 414.7h0M355.2 414.9h0M389.9 418.6h0M362.2 428.9h0M390.5 427.9h0M410.9 426.5h0M364.6 416.0h0M388.8 426.6h0M343.0 414.0h0M346.3 414.7h0M373.4 414.9h0M340.5 412.5h0M413.8 428.3h0M372.2 416.6h0M354.9 428.7h0M350.5 413.8h0M396.8 426.5h0M407.1 419.0h0M370.6 428.6h0M382.6 417.5h0M364.6 416.1h0M341.4 414.2h0M342.7 410.7h0M343.1 410.4h0M357.8 414.1h0M343.2 430.0h0M365.3 416.6h0M354.3 431.2h0M358.1 431.1h0M365.2 415.2h0M363.4 428.7h0M355.6 429.9h0M347.9 413.0h0M343.9 411.2h0M342.1 430.0h0M338.5 414.2h0M390.5 429.0h0M380.6 418.1h0M356.4 428.6h0M359.6 432.4h0M360.9 407.6h0M400.1 419.3h0M347.8 410.9h0M352.5 429.6h0M365.4 427.7h0M385.5 427.4h0M369.3 414.9h0M357.6 428.6h0M339.5 430.1h0M339.5 436.3h0M350.6 415.1h0M348.9 414.4h0M341.0 437.4h0M347.5 414.8h0M394.9 419.8h0M396.6 429.5h0M360.4 415.6h0M352.8 415.2h0M352.1 410.7h0M425.1 421.7h0M361.1 429.6h0M376.8 418.0h0M351.0 430.5h0M354.1 429.0h0M344.5 431.1h0M368.0 428.9h0M341.9 430.4h0M343.0 414.0h0M370.9 427.6h0M379.0 417.7h0M366.6 415.3h0M364.8 416.3h0M368.9 417.0h0M347.1 411.3h0M358.4 414.4h0M351.0 411.9h0M352.7 414.4h0M386.6 427.3h0M405.2 419.1h0M369.4 427.8h0M359.4 429.6h0M393.1 426.5h0M380.7 416.3h0M368.4 429.2h0M366.5 428.4h0M393.9 426.2h0M384.6 428.8h0M346.2 430.6h0M363.4 432.2h0M357.2 429.5h0M382.8 428.4h0M368.5 428.9h0M339.7 414.0h0M339.2 410.6h0M355.1 429.0h0M375.2 416.8h0M352.8 415.4h0M346.3 431.4h0M358.5 428.8h0M367.3 415.8h0M346.1 414.7h0M404.1 417.4h0M398.1 420.0h0M366.3 413.3h0M355.5 429.4h0M365.4 412.3h0M355.7 415.2h0M343.6 437.9h0M371.0 428.7h0M359.3 415.9h0M361.9 414.6h0M351.3 414.2h0M354.7 428.7h0M339.9 432.3h0M349.9 429.1h0M348.3 432.4h0M368.3 427.6h0M341.6 431.1h0M358.1 415.6h0M370.4 416.8h0M401.0 425.7h0M343.0 431.4h0M380.1 416.4h0M349.0 414.8h0M358.2 428.8h0M368.4 430.5h0M339.5 430.0h0M358.8 428.8h0M369.3 415.4h0M410.5 426.4h0M410.0 420.6h0M389.6 418.9h0M337.4 413.8h0M387.9 417.3h0M376.4 427.3h0M379.5 426.9h0M354.4 413.5h0M353.1 434.4h0M366.7 415.2h0M341.7 430.8h0M368.7 416.1h0M402.8 425.8h0M371.3 428.2h0M375.9 427.0h0M358.2 430.8h0M403.6 425.7h0M350.2 413.4h0M410.1 414.8h0M396.9 418.7h0M351.1 430.3h0M378.9 428.3h0M362.1 414.6h0M338.8 430.3h0M385.2 416.4h0M358.3 414.2h0M372.1 414.3h0M415.0 417.4h0M386.3 412.1h0M360.9 414.4h0M348.8 430.1h0M358.0 429.0h0M348.9 432.2h0M353.2 432.2h0M350.5 433.6h0M346.4 413.4h0M352.7 428.9h0M387.8 427.6h0M409.8 426.6h0M344.2 412.1h0M360.0 430.3h0M366.6 428.2h0M366.1 433.9h0M348.0 413.0h0M366.9 428.0h0M349.6 413.9h0M357.8 428.9h0M359.0 433.8h0M348.4 414.7h0M357.3 430.1h0M354.6 415.3h0M364.3 415.4h0M405.6 428.3h0M372.6 415.4h0M363.6 416.0h0M359.6 416.0h0M389.8 427.6h0M410.1 426.0h0M373.6 427.5h0M368.1 439.4h0M341.5 432.1h0M352.6 414.9h0M346.0 414.5h0M380.7 429.3h0M396.8 419.1h0M361.0 428.9h0M381.9 426.9h0M352.2 414.4h0M353.9 414.4h0M361.0 429.7h0M360.5 414.9h0M372.5 417.2h0M424.8 422.4h0M381.9 418.0h0M362.0 413.2h0M372.3 415.8h0M352.1 429.0h0M352.8 414.5h0M348.0 414.9h0M398.4 426.1h0M392.7 435.1h0M345.3 413.0h0M342.6 433.2h0M340.8 436.2h0M394.1 427.5h0M369.0 427.5h0M393.1 419.4h0M388.9 418.3h0M403.5 418.5h0M368.3 416.1h0M366.5 414.4h0M387.1 427.0h0M381.3 427.5h0M411.9 425.1h0M376.1 414.6h0M387.6 426.9h0M373.1 428.1h0M391.1 427.9h0M359.5 428.9h0M360.7 415.6h0M357.0 431.5h0M362.7 431.1h0M351.9 414.3h0M350.0 414.9h0M378.9 430.3h0M387.1 416.9h0M390.3 428.0h0M357.8 429.0h0M338.7 413.9h0M357.6 429.3h0M370.1 416.4h0M343.2 431.7h0M400.4 425.9h0M349.4 431.1h0M355.4 413.7h0M364.7 427.9h0M352.0 414.4h0M368.9 416.9h0M408.0 427.4h0M400.9 419.9h0M338.3 437.1h0M368.4 428.8h0M368.1 430.6h0M395.9 419.6h0M353.2 411.0h0M417.4 420.9h0M348.0 413.1h0M378.4 428.3h0M408.1 419.5h0M353.2 415.3h0M374.6 429.9h0M363.4 433.0h0M346.5 413.3h0M390.7 428.2h0M376.8 430.2h0M403.0 418.5h0M373.1 416.6h0M341.4 414.2h0M357.1 428.4h0M340.2 413.7h0M363.6 427.9h0M335.4 431.6h0M348.1 410.6h0M344.5 411.8h0M386.4 417.6h0M367.5 428.4h0M369.7 416.1h0M387.1 418.7h0M367.8 428.1h0M369.8 428.1h0M369.2 415.8h0M388.9 417.4h0M382.9 417.7h0M365.9 430.1h0M414.6 421.0h0M345.7 414.5h0M345.7 414.5h0M377.8 426.8h0M371.6 428.1h0M419.9 421.7h0M366.7 415.3h0M400.0 427.7h0M357.2 414.3h0M371.7 414.8h0M399.1 426.9h0M366.1 429.9h0M366.6 416.0h0M351.7 430.1h0M349.0 430.5h0M363.5 428.6h0M363.5 430.5h0M361.5 414.3h0M353.1 430.4h0M367.7 427.6h0M346.5 429.3h0M362.4 413.7h0M355.6 415.2h0M352.5 429.7h0M345.5 429.8h0M355.5 432.6h0M343.0 431.2h0M354.0 415.4h0M366.3 414.9h0M360.6 415.6h0M383.3 418.6h0M362.0 428.5h0M341.2 413.9h0M342.1 411.3h0M342.2 414.4h0M350.8 415.1h0M368.3 429.6h0M345.9 429.4h0M355.2 429.1h0M368.6 416.0h0M346.8 430.3h0M357.6 428.7h0M351.6 414.9h0M341.3 413.4h0M344.7 414.2h0M361.5 430.1h0M373.0 416.5h0M388.8 429.9h0M384.0 427.0h0M347.2 413.8h0M350.1 430.4h0M353.9 429.0h0M367.2 416.7h0M375.9 429.2h0M375.0 417.2h0M381.1 426.7h0M412.0 425.6h0M338.8 431.3h0M364.9 414.0h0M348.4 411.9h0M373.1 427.5h0M354.2 414.7h0M358.3 428.6h0M352.5 415.0h0M352.2 413.8h0M348.2 413.1h0M374.5 416.5h0M375.9 427.6h0M376.2 417.0h0M395.4 419.2h0M349.7 429.6h0M339.7 430.5h0M343.7 412.2h0M342.9 431.6h0M340.9 410.9h0M342.4 412.1h0M391.0 416.8h0M396.7 428.2h0M361.1 435.5h0M369.5 430.3h0M345.3 414.6h0M375.2 428.4h0M358.2 433.8h0M411.6 425.4h0M344.9 413.5h0M410.9 420.8h0M402.9 419.4h0M353.9 432.8h0M360.3 429.8h0M408.8 419.7h0M343.0 429.5h0M348.9 414.6h0M380.2 427.8h0M346.4 414.5h0M423.7 423.8h0M344.4 431.0h0M351.5 413.8h0M379.0 426.7h0M375.8 414.7h0M343.3 430.3h0M349.6 413.9h0M352.6 428.8h0M369.7 412.7h0M376.4 417.6h0M361.6 429.9h0M352.6 430.5h0M345.8 413.4h0M423.7 422.9h0M386.3 426.4h0M385.7 426.6h0M368.9 430.7h0M347.3 430.5h0M340.2 429.8h0M342.2 430.9h0M397.1 427.1h0M338.0 412.7h0M365.2 428.4h0M414.0 425.0h0M366.4 416.6h0M352.0 413.0h0M379.0 417.1h0M357.9 412.7h0M344.5 430.2h0M378.8 414.7h0M341.7 430.5h0M376.3 417.6h0M375.7 428.6h0M343.4 412.4h0M389.1 418.7h0M352.7 429.9h0M347.7 414.4h0M348.6 414.7h0M402.2 419.3h0M376.3 427.7h0M345.9 413.0h0M344.6 431.0h0M424.8 422.4h0M363.7 416.1h0M345.6 429.7h0M363.2 429.0h0M421.1 426.8h0M379.3 414.4h0M357.6 414.6h0M345.0 429.6h0M425.3 422.1h0M386.8 417.2h0M348.1 431.2h0M370.2 431.2h0M375.4 417.5h0M338.2 430.4h0M364.6 414.6h0M382.9 414.4h0M346.3 429.6h0M352.8 431.1h0M383.4 409.5h0M356.2 414.7h0M360.4 414.6h0M344.1 431.0h0M362.6 429.4h0M367.7 428.1h0M338.1 414.1h0M347.9 432.9h0M368.2 427.9h0M397.8 420.0h0M338.6 414.4h0M370.6 427.7h0M372.2 415.7h0M345.8 414.6h0M379.3 418.1h0M365.7 430.9h0M352.8 429.2h0M372.0 416.3h0M335.6 432.9h0M352.4 429.4h0M354.5 405.3h0M345.6 429.9h0M368.6 429.9h0M348.3 429.3h0M382.6 426.9h0M344.6 412.9h0M381.2 418.4h0M351.7 431.6h0M360.8 415.0h0M354.5 415.0h0M387.4 426.4h0M386.0 418.8h0M357.6 433.5h0M363.6 412.5h0M366.6 427.7h0M393.6 427.4h0M380.9 429.8h0M365.7 412.4h0M407.7 420.2h0M344.7 429.6h0M372.3 411.1h0M348.0 429.3h0M353.3 428.9h0M400.1 418.0h0M360.5 415.2h0M374.6 416.9h0M391.3 418.8h0M376.7 416.5h0M342.2 431.7h0M363.4 416.0h0M360.9 429.3h0M348.7 430.0h0M410.2 419.3h0M375.7 417.5h0M370.8 417.2h0M362.5 434.2h0M370.0 427.2h0M379.5 414.2h0M365.7 430.6h0M362.4 428.4h0M380.6 426.7h0M381.3 418.3h0M367.0 416.7h0M378.8 426.8h0M404.5 425.9h0M350.5 430.1h0M373.0 413.3h0M356.0 408.1h0M349.9 429.1h0M342.1 431.8h0M344.1 414.6h0M398.0 419.1h0M364.8 431.0h0M345.7 414.3h0M346.9 430.1h0M393.3 429.7h0M352.2 413.4h0M336.4 430.1h0M371.4 427.2h0M381.1 418.1h0M404.0 425.6h0M356.0 414.4h0M371.2 416.2h0M369.1 416.7h0M366.0 428.2h0M364.9 427.7h0M359.4 414.1h0M341.0 408.1h0M388.4 428.4h0M389.3 426.7h0M379.5 416.8h0M351.7 414.9h0M377.5 417.9h0M367.5 427.6h0M364.3 416.4h0M370.3 413.1h0M370.0 414.6h0M355.6 430.5h0M364.4 412.9h0M403.8 416.9h0M356.0 414.2h0M376.0 416.2h0M389.8 427.5h0M347.4 431.0h0M360.9 413.0h0M356.9 414.9h0M337.2 411.2h0M365.2 432.2h0M359.0 430.6h0M350.9 429.5h0M363.5 427.9h0M358.4 428.7h0M412.5 426.8h0M404.9 427.6h0M349.3 429.2h0M394.6 429.2h0M350.3 430.6h0M376.6 427.4h0M364.1 415.5h0M386.7 418.5h0M344.8 430.5h0M359.8 429.2h0M357.3 428.7h0M377.6 427.8h0M347.3 414.8h0M340.9 431.8h0M372.5 427.8h0M341.2 429.9h0M365.0 415.6h0M363.8 428.5h0M398.5 419.2h0M379.4 417.8h0M392.1 428.2h0M342.9 433.4h0M384.7 433.7h0M418.8 425.8h0M344.1 429.5h0M414.4 419.4h0M378.6 429.8h0M362.2 430.2h0M359.6 414.8h0M353.5 414.4h0M403.7 425.7h0M397.4 429.3h0M380.4 426.9h0M391.5 418.6h0M360.2 429.8h0M380.8 427.1h0M412.1 420.8h0M355.8 414.0h0M349.8 430.3h0M363.7 427.9h0M378.2 418.1h0M377.1 417.3h0M369.5 428.6h0M343.3 413.7h0M367.3 415.1h0M352.9 414.0h0M380.0 426.7h0M370.2 416.7h0M382.2 428.5h0M346.7 429.4h0M368.2 414.3h0M335.3 433.5h0M370.2 416.3h0M384.9 427.2h0M372.9 416.5h0M381.9 430.5h0M347.4 429.9h0M396.1 418.8h0M355.7 414.6h0M350.0 429.0h0M369.8 429.0h0M409.8 417.9h0M410.6 420.9h0M388.0 418.9h0M399.8 419.5h0M393.2 419.4h0M339.8 431.5h0M370.3 415.8h0M373.1 416.5h0M369.7 416.6h0M354.0 413.2h0M354.2 415.5h0M382.0 426.6h0M337.4 431.1h0M342.2 430.7h0M356.1 414.2h0M346.8 429.3h0M348.8 429.5h0M348.6 413.7h0M357.5 415.4h0M361.3 416.1h0M355.2 412.3h0M398.6 414.7h0M391.6 417.5h0M424.0 421.7h0M373.7 427.1h0M362.1 415.0h0M350.2 412.8h0M351.4 430.5h0M363.5 427.9h0M378.7 428.2h0M349.6 414.8h0M364.2 428.7h0M395.3 418.9h0M357.1 428.7h0M402.7 419.4h0M338.4 430.1h0M382.0 429.2h0M382.5 416.7h0M402.6 426.0h0M396.2 419.4h0M391.3 426.7h0M335.7 431.0h0M389.9 426.6h0M350.4 413.6h0M336.1 429.9h0M343.6 411.3h0M349.6 411.4h0M398.3 420.0h0M378.1 417.9h0M355.1 429.2h0M359.2 429.8h0M377.2 427.5h0M349.3 429.7h0M358.4 414.7h0M358.9 429.2h0M348.4 414.5h0M339.0 413.9h0M382.3 427.1h0M371.8 417.1h0M405.0 420.3h0M361.7 429.3h0M343.8 414.7h0M399.1 426.8h0M377.9 427.4h0M351.3 432.5h0M347.3 413.6h0M361.1 415.4h0M344.2 431.5h0M352.1 413.4h0M377.9 428.1h0M352.4 429.4h0M362.8 428.0h0M358.7 412.6h0M348.6 415.0h0M380.1 426.9h0M383.5 428.2h0M342.5 412.7h0M392.9 428.3h0M363.3 414.8h0M357.9 410.1h0M354.6 414.0h0M367.2 428.1h0M346.9 429.4h0M368.7 427.9h0M351.4 410.3h0M363.0 428.9h0M369.2 428.2h0M348.9 414.6h0M356.1 432.8h0M356.1 430.0h0M375.4 428.2h0M374.9 417.1h0M352.8 430.8h0M369.8 411.8h0M374.8 429.3h0M376.8 427.1h0M365.2 416.6h0M391.2 419.4h0M391.0 426.5h0M382.7 418.2h0M374.7 415.9h0M381.1 428.3h0M361.1 415.4h0M358.9 413.9h0M398.8 426.4h0M367.6 429.1h0M339.7 410.0h0M365.5 416.1h0M385.2 418.8h0M345.4 413.4h0M419.7 425.5h0M361.9 429.7h0M390.0 419.0h0M408.3 414.2h0M359.0 431.1h0M396.4 419.5h0M344.2 430.7h0M381.7 427.0h0M370.0 416.8h0M360.1 414.4h0M361.6 428.2h0M368.6 416.2h0M345.2 414.2h0M349.4 430.8h0M337.6 413.6h0M399.5 417.4h0M351.7 415.2h0M359.1 414.5h0M339.1 431.2h0M351.1 435.2h0M359.2 433.4h0M362.9 429.2h0M353.8 413.6h0M378.5 417.2h0M340.5 410.5h0M372.3 428.2h0M364.0 429.1h0M370.4 427.6h0M340.0 433.8h0M350.6 429.0h0M341.2 413.9h0M357.8 415.2h0M338.3 432.3h0M372.7 416.6h0M366.0 427.9h0M366.5 427.6h0M340.3 413.9h0M350.6 431.6h0M353.7 428.9h0M367.0 428.0h0M381.5 416.3h0M379.1 417.7h0M391.9 419.3h0M341.9 430.0h0M343.1 414.1h0M416.7 420.6h0M344.4 431.4h0M419.2 424.3h0M342.6 430.6h0M383.0 416.8h0M339.3 430.9h0M361.9 430.8h0M367.3 416.7h0M366.0 416.4h0M351.9 429.9h0M402.5 432.4h0M360.8 416.1h0M379.9 418.1h0M345.1 430.3h0M357.6 415.3h0M411.4 426.5h0M334.2 465.7h0M349.6 388.0h0M356.0 396.0h0M358.0 399.4h0M338.2 398.0h0M398.7 412.8h0M378.8 429.5h0M345.1 434.2h0M340.1 439.6h0" stroke="#8c8c8c" stroke-width="1.8" stroke-linecap="round" fill="none"/>
<path d="M322.2 424.2h0M336.2 444.9h0M334.5 443.1h0M332.9 441.1h0M331.4 439.0h0M330.0 436.9h0M328.8 434.7h0M327.8 432.3h0M327.0 429.9h0M326.4 427.4h0M326.1 424.8h0M326.1 422.2h0M326.4 419.6h0M327.0 417.1h0M327.8 414.6h0M328.9 412.2h0M330.2 409.8h0M331.6 407.6h0M333.2 405.5h0M334.9 403.4h0M336.7 401.5h0M336.4 442.9h0M335.0 441.3h0M333.7 439.5h0M332.5 437.7h0M331.4 435.9h0M330.4 433.9h0M329.6 431.9h0M328.9 429.9h0M328.4 427.8h0M328.1 425.6h0M328.0 423.4h0M328.2 421.2h0M328.5 419.0h0M329.0 416.9h0M329.7 414.8h0M330.6 412.7h0M331.6 410.7h0M332.8 408.8h0M334.1 407.0h0M335.5 405.2h0M336.1 440.9h0M335.0 439.3h0M333.9 437.7h0M332.9 436.0h0M332.0 434.3h0M331.2 432.4h0M330.5 430.6h0M330.0 428.7h0M329.7 426.7h0M329.5 424.7h0M329.4 422.8h0M329.6 420.8h0M329.9 418.8h0M330.4 416.8h0M331.1 414.9h0M331.9 413.0h0M332.8 411.2h0M333.8 409.4h0M334.9 407.8h0M336.1 406.1h0M336.2 438.9h0M335.2 437.4h0M334.3 435.9h0M333.5 434.3h0M332.8 432.7h0M332.2 431.0h0M331.7 429.3h0M331.3 427.6h0M331.0 425.8h0M330.9 424.0h0M331.0 422.2h0M331.1 420.4h0M331.4 418.6h0M331.9 416.9h0M332.5 415.1h0M333.1 413.4h0M333.9 411.8h0M334.8 410.2h0M335.8 408.7h0" stroke="#8c8c8c" stroke-width="1.8" stroke-linecap="round" fill="none"/>
<path d="M322.3 395.7h0M324.4 393.4h0M326.2 391.3h0M328.5 388.9h0M330.4 386.5h0M332.8 384.3h0M334.9 381.9h0M337.0 379.4h0M338.9 377.1h0M341.2 374.6h0M322.1 450.4h0M324.2 453.4h0M326.6 457.1h0" stroke="#8c8c8c" stroke-width="2.3" stroke-linecap="round" fill="none"/>
<rect x="289" y="351.5" width="161.5" height="144" fill="none" stroke="#111" stroke-width="1.5"/>
<line x1="286.2" y1="356.5" x2="289" y2="356.5" stroke="#111" stroke-width="1.3"/>
<text font-size="12.6" text-anchor="middle" transform="translate(284.80 358.30) rotate(-90) scale(1.035 1)" stroke="#1a1a1a" stroke-width="0.25">10</text>
<line x1="286.2" y1="390.0" x2="289" y2="390.0" stroke="#111" stroke-width="1.3"/>
<text font-size="12.6" text-anchor="middle" transform="translate(284.80 391.80) rotate(-90) scale(1.035 1)" stroke="#1a1a1a" stroke-width="0.25">5</text>
<line x1="286.2" y1="423.5" x2="289" y2="423.5" stroke="#111" stroke-width="1.3"/>
<text font-size="12.6" text-anchor="middle" transform="translate(284.80 423.70) rotate(-90) scale(1.035 1)" stroke="#1a1a1a" stroke-width="0.25">0</text>
<line x1="286.2" y1="457.0" x2="289" y2="457.0" stroke="#111" stroke-width="1.3"/>
<text font-size="12.6" text-anchor="middle" transform="translate(284.80 455.50) rotate(-90) scale(1.035 1)" stroke="#1a1a1a" stroke-width="0.25">-5</text>
<line x1="286.2" y1="490.5" x2="289" y2="490.5" stroke="#111" stroke-width="1.3"/>
<text font-size="12.6" text-anchor="middle" transform="translate(284.80 489.00) rotate(-90) scale(1.035 1)" stroke="#1a1a1a" stroke-width="0.25">-10</text>
<line x1="295.5" y1="495.5" x2="295.5" y2="498.8" stroke="#111" stroke-width="1.3"/>
<text font-size="12.8" text-anchor="middle" transform="matrix(1 0 0 1.035 295.50 511.50)" stroke="#1a1a1a" stroke-width="0.25">0</text>
<line x1="345.1" y1="495.5" x2="345.1" y2="498.8" stroke="#111" stroke-width="1.3"/>
<text font-size="12.8" text-anchor="middle" transform="matrix(1 0 0 1.035 345.10 511.50)" stroke="#1a1a1a" stroke-width="0.25">5</text>
<line x1="394.7" y1="495.5" x2="394.7" y2="498.8" stroke="#111" stroke-width="1.3"/>
<text font-size="12.8" text-anchor="middle" transform="matrix(1 0 0 1.035 394.70 511.50)" stroke="#1a1a1a" stroke-width="0.25">10</text>
<line x1="444.3" y1="495.5" x2="444.3" y2="498.8" stroke="#111" stroke-width="1.3"/>
<text font-size="12.8" text-anchor="middle" transform="matrix(1 0 0 1.035 444.30 511.50)" stroke="#1a1a1a" stroke-width="0.25">15</text>
<text font-size="13.2" text-anchor="middle" transform="matrix(1 0 0 1.035 369.75 522.50)" stroke="#1a1a1a" stroke-width="0.25">log<tspan font-size="9.2" dy="3.5">2</tspan><tspan dy="-3.5">(CPM)</tspan></text>
<path d="M369.4 385.8h0M373.7 398.3h0" stroke="#f52a2a" stroke-width="3.6" stroke-linecap="round" fill="none"/>
<text font-size="12.8" text-anchor="end" fill="#e41e78" transform="matrix(1 0 0 1.035 445.80 364.30)" stroke="#e41e78" stroke-width="0.25">2 genes</text>
<text font-size="12.8" text-anchor="end" fill="#3fbd62" transform="matrix(1 0 0 1.035 445.80 490.90)" stroke="#3fbd62" stroke-width="0.25">0 genes</text>
<path d="M519.2 423.5 520.3 416.4 521.4 415.3 522.6 415.3 523.7 415.3 524.8 415.3 525.9 415.3 527.0 415.3 528.2 415.3 529.3 415.4 530.4 415.4 531.5 415.4 532.7 415.4 533.8 415.4 534.9 415.5 536.0 415.5 537.1 415.6 538.3 415.6 539.4 415.7 540.5 415.8 541.6 415.8 542.8 415.9 543.9 416.0 545.0 416.0 546.1 416.1 547.2 416.2 548.4 416.4 549.5 416.5 550.6 416.6 551.7 416.8 552.9 416.9 554.0 417.0 555.1 417.2 556.2 417.3 557.3 417.4 558.5 417.5 559.6 417.6 560.7 417.6 561.8 417.7 563.0 417.8 564.1 417.9 565.2 418.0 566.3 418.0 567.4 418.1 568.6 418.2 569.7 418.3 570.8 418.4 571.9 418.5 573.1 418.6 574.2 418.8 575.3 418.9 576.4 419.0 577.5 419.1 578.7 419.2 579.8 419.3 580.9 419.4 582.0 419.5 583.2 419.7 584.3 419.8 585.4 419.9 586.5 420.0 587.6 420.1 588.8 420.3 589.9 420.4 591.0 420.5 592.1 420.6 593.3 420.8 594.4 420.9 595.5 421.1 596.6 421.2 597.7 421.4 598.9 421.6 600.0 421.7 601.1 421.9 602.2 422.1 603.4 422.2 604.5 422.4 605.6 422.6 606.7 422.7 607.8 422.9 609.0 423.0 609.0 423.5 607.8 423.6 606.7 423.8 605.6 423.9 604.5 424.0 603.4 424.2 602.2 424.3 601.1 424.4 600.0 424.6 598.9 424.7 597.7 424.8 596.6 424.9 595.5 425.0 594.4 425.2 593.3 425.3 592.1 425.4 591.0 425.4 589.9 425.5 588.8 425.6 587.6 425.6 586.5 425.7 585.4 425.7 584.3 425.8 583.2 425.9 582.0 425.9 580.9 426.0 579.8 426.0 578.7 426.1 577.5 426.1 576.4 426.2 575.3 426.2 574.2 426.3 573.1 426.3 571.9 426.4 570.8 426.4 569.7 426.5 568.6 426.5 567.4 426.6 566.3 426.7 565.2 426.8 564.1 426.9 563.0 426.9 561.8 427.0 560.7 427.1 559.6 427.2 558.5 427.3 557.3 427.3 556.2 427.4 555.1 427.5 554.0 427.6 552.9 427.7 551.7 427.7 550.6 427.8 549.5 427.9 548.4 428.0 547.2 428.1 546.1 428.1 545.0 428.3 543.9 428.4 542.8 428.6 541.6 428.8 540.5 429.0 539.4 429.1 538.3 429.3 537.1 429.5 536.0 429.7 534.9 429.9 533.8 430.0 532.7 430.1 531.5 430.1 530.4 430.1 529.3 430.2 528.2 430.2 527.0 430.2 525.9 430.2 524.8 430.2 523.7 430.3 522.6 430.3 521.4 430.3 520.3 430.2 519.2 423.5Z" fill="#8c8c8c" stroke="#8c8c8c" stroke-width="1" stroke-linejoin="round"/>
<path d="M596.8 420.3h0M552.5 428.4h0M539.5 413.8h0M558.2 427.6h0M599.7 419.0h0M528.8 412.9h0M528.8 413.9h0M535.3 430.5h0M569.6 428.9h0M523.8 414.0h0M563.2 430.1h0M530.3 414.8h0M553.6 428.0h0M543.1 414.5h0M545.9 428.4h0M526.0 413.3h0M573.0 427.2h0M597.6 425.8h0M548.1 414.3h0M553.9 416.7h0M530.7 414.7h0M551.1 416.3h0M539.2 414.7h0M545.9 413.7h0M571.5 414.7h0M564.7 417.2h0M596.9 420.8h0M550.9 427.8h0M530.0 430.8h0M534.8 414.1h0M593.9 419.9h0M529.2 430.4h0M565.0 416.5h0M529.6 431.1h0M567.7 426.8h0M528.2 433.7h0M576.5 426.4h0M593.0 425.8h0M526.8 409.7h0M528.3 431.7h0M524.2 414.6h0M543.8 414.0h0M559.0 416.5h0M527.5 430.2h0M532.3 430.3h0M546.7 428.5h0M533.1 430.5h0M595.0 420.7h0M546.2 428.9h0M559.4 429.1h0M600.2 426.2h0M533.1 414.7h0M524.9 430.4h0M529.2 430.2h0M560.8 417.1h0M581.5 426.2h0M530.5 409.3h0M573.8 417.2h0M550.5 430.7h0M563.5 429.2h0M575.0 426.4h0M524.2 430.4h0M523.8 411.0h0M563.3 417.6h0M534.2 430.7h0M560.6 416.7h0M531.5 415.1h0M601.2 428.8h0M556.0 415.9h0M576.5 427.1h0M538.2 430.0h0M541.4 430.3h0M546.1 431.7h0M556.6 428.5h0M553.9 435.2h0M563.4 428.5h0M527.0 430.4h0M580.7 418.4h0M575.5 426.4h0M572.2 417.9h0M582.2 419.3h0M567.6 416.2h0M529.9 431.0h0M561.4 432.3h0M524.0 414.4h0M539.6 429.8h0M529.4 430.8h0M532.2 414.4h0M522.9 412.6h0M550.7 435.4h0M574.1 418.6h0M578.2 432.8h0M550.1 415.4h0M558.8 428.1h0M585.9 418.5h0M558.1 417.4h0M535.8 415.3h0M582.1 416.4h0M582.3 426.0h0M544.6 428.6h0M536.4 414.4h0M571.0 427.2h0M566.4 427.2h0M569.5 417.9h0M549.3 435.3h0M539.8 429.7h0M555.5 417.0h0M557.8 417.0h0M539.1 429.9h0M584.7 426.8h0M556.2 427.7h0M569.1 414.8h0M530.4 414.4h0M539.6 415.5h0M523.4 414.7h0M576.6 418.0h0M566.0 417.7h0M572.8 418.2h0M560.6 428.4h0M534.8 413.5h0M547.2 428.3h0M554.8 413.6h0M544.9 429.0h0M548.2 428.5h0M552.7 413.6h0M561.8 416.8h0M551.3 427.8h0M565.1 428.3h0M608.5 421.9h0M545.0 415.1h0M562.9 427.6h0M565.7 429.4h0M539.0 429.9h0M566.5 427.0h0M569.6 427.5h0M552.5 408.5h0M525.7 409.8h0M544.6 429.0h0M568.7 426.8h0M560.4 427.5h0M557.3 429.0h0M523.4 412.5h0M528.0 413.7h0M561.1 427.7h0M550.3 414.4h0M542.7 429.1h0M555.9 416.9h0M563.7 416.5h0M549.8 430.8h0M535.2 415.0h0M547.5 415.4h0M537.1 431.6h0M542.0 415.1h0M548.0 428.3h0M563.9 428.3h0M526.9 414.4h0M535.9 434.8h0M524.9 414.7h0M540.5 412.1h0M568.0 428.1h0M567.1 426.7h0M523.7 414.7h0M546.3 413.5h0M571.0 427.8h0M538.0 415.3h0M540.2 415.5h0M598.1 424.9h0M524.9 431.0h0M537.5 414.3h0M568.8 427.7h0M537.9 429.5h0M549.1 428.1h0M543.1 414.2h0M527.4 430.5h0M582.7 425.9h0M521.3 432.0h0M590.6 420.1h0M522.4 431.9h0M537.9 430.1h0M537.4 431.0h0M530.2 430.9h0M525.6 414.1h0M558.2 427.7h0M542.8 415.2h0M547.5 428.6h0M535.2 412.5h0M537.1 432.3h0M527.8 415.1h0M555.4 417.1h0M536.5 430.0h0M575.9 416.7h0M523.4 431.9h0M549.8 429.1h0M595.3 426.6h0M563.3 412.7h0M599.8 424.8h0M535.3 414.7h0M583.4 417.2h0M549.5 412.8h0M548.5 416.2h0M574.6 418.2h0M539.5 415.3h0M557.4 417.2h0M537.6 430.5h0M531.2 415.1h0M536.4 410.6h0M567.9 427.5h0M542.0 415.6h0M532.7 410.5h0M572.5 426.4h0M530.5 415.3h0M559.3 415.2h0M530.4 415.1h0M556.9 427.8h0M563.7 429.5h0M544.7 414.6h0M543.1 430.3h0M591.6 417.1h0M564.6 415.1h0M525.0 430.4h0M530.5 433.2h0M526.7 414.8h0M587.5 420.1h0M608.6 424.8h0M547.9 411.6h0M537.6 430.1h0M545.5 429.9h0M566.0 415.6h0M523.1 410.2h0M572.0 418.2h0M549.1 415.6h0M545.5 412.3h0M532.2 432.9h0M531.8 436.3h0M537.1 407.3h0M525.3 435.9h0M534.2 430.5h0M558.6 428.3h0M564.4 427.8h0M556.0 428.8h0M549.3 415.0h0M536.6 415.4h0M550.6 428.7h0M592.8 426.2h0M540.2 414.8h0M541.7 414.7h0M563.0 427.4h0M543.2 432.3h0M603.2 416.9h0M528.2 430.4h0M575.4 427.8h0M560.8 415.3h0M558.1 415.2h0M539.9 429.1h0M565.8 428.1h0M552.0 428.6h0M533.6 414.0h0M554.9 415.9h0M530.3 413.8h0M594.0 426.4h0M554.1 416.9h0M528.3 414.3h0M575.5 431.8h0M541.1 429.2h0M543.7 415.2h0M549.6 412.1h0M523.0 414.6h0M571.4 417.6h0M533.5 415.2h0M552.4 428.3h0M534.6 411.2h0M570.7 428.2h0M567.1 418.0h0M521.9 430.8h0M546.0 428.7h0M541.2 409.9h0M536.1 414.7h0M574.1 418.7h0M559.0 427.7h0M551.0 416.4h0M555.9 416.9h0M560.8 417.5h0M573.5 418.3h0M529.9 433.3h0M606.8 421.8h0M532.0 430.4h0M555.6 428.1h0M542.3 431.5h0M529.0 414.5h0M537.6 429.8h0M533.6 414.1h0M523.9 413.8h0M550.8 414.9h0M599.2 426.8h0M534.9 430.0h0M543.3 430.5h0M538.0 415.6h0M551.5 416.1h0M550.2 415.5h0M611.1 426.8h0M523.8 430.7h0M574.3 430.9h0M554.1 416.7h0M523.6 430.6h0M541.8 414.8h0M526.7 430.4h0M571.4 426.7h0M553.2 416.7h0M548.5 429.8h0M547.3 429.9h0M550.6 415.6h0M554.4 415.0h0M577.2 426.8h0M582.5 426.5h0M557.4 413.6h0M606.1 426.2h0M568.2 417.8h0M604.7 420.9h0M534.6 430.2h0M530.6 411.7h0M548.1 412.8h0M597.5 418.7h0M593.2 415.6h0M539.4 429.9h0M550.5 429.1h0M550.5 414.8h0M533.5 414.4h0M555.0 416.3h0M552.7 429.4h0M525.0 410.8h0M544.9 415.9h0M567.0 428.2h0M543.9 415.3h0M522.2 413.2h0M550.6 428.2h0M602.1 421.0h0M562.2 417.2h0M579.7 426.5h0M527.2 430.5h0M534.6 430.0h0M541.5 414.9h0M575.4 418.4h0M554.2 416.9h0M533.6 430.6h0M550.4 416.1h0M532.7 413.8h0M524.8 414.5h0M563.9 430.6h0M572.4 418.2h0M531.2 430.4h0M553.6 428.6h0M555.0 415.1h0M556.3 417.1h0M576.0 426.4h0M577.7 418.5h0M569.7 430.8h0M568.4 413.7h0M558.5 416.5h0M522.8 415.3h0M538.9 429.7h0M567.5 427.3h0M584.0 419.5h0M570.5 426.9h0M528.3 430.8h0M586.4 426.2h0M563.3 412.9h0M550.0 416.0h0M540.4 430.6h0M546.8 429.2h0M589.6 420.2h0M525.6 430.8h0M534.8 431.2h0M564.6 428.0h0M523.9 413.8h0M531.2 412.9h0M539.8 432.5h0M554.2 415.7h0M565.6 428.1h0M539.4 430.7h0M527.4 413.2h0M542.5 411.6h0M538.7 429.7h0M542.8 415.1h0M535.0 413.2h0M524.3 413.1h0M536.7 429.9h0M541.6 429.6h0M558.9 416.8h0M559.5 417.5h0M557.7 417.0h0M532.0 432.6h0M597.3 425.0h0M544.0 413.9h0M567.8 418.1h0M535.2 430.1h0M552.0 416.4h0M547.2 415.5h0M587.8 425.8h0M535.9 415.4h0M534.7 415.0h0M561.7 412.7h0M525.2 432.3h0M612.5 422.7h0M573.1 418.4h0M542.3 415.0h0M585.1 427.1h0M537.2 414.9h0M543.6 429.2h0M538.6 437.3h0M527.5 431.0h0M530.0 413.9h0M558.6 412.7h0M547.4 428.1h0M544.5 414.7h0M549.5 429.2h0M587.7 419.4h0M599.6 421.2h0M529.6 431.4h0M545.8 429.0h0M594.0 418.8h0M551.9 413.5h0M548.7 413.1h0M538.1 430.0h0M565.4 417.0h0M537.3 433.1h0M586.8 426.8h0M575.3 429.4h0M533.4 413.7h0M535.9 413.8h0M579.0 418.6h0M539.0 414.6h0M540.5 415.7h0M565.4 427.7h0M544.7 414.1h0M545.6 429.0h0M559.6 417.5h0M574.2 414.2h0M571.3 428.5h0M597.0 425.7h0M536.6 414.9h0M579.8 426.7h0M606.0 424.3h0M538.8 430.1h0M547.8 410.3h0M533.9 435.5h0M566.8 417.2h0M540.0 429.2h0M571.3 429.3h0M558.5 431.2h0M549.4 416.2h0M523.3 413.4h0M564.0 430.3h0M552.7 415.7h0M539.2 415.4h0M537.5 415.1h0M568.0 428.6h0M564.0 415.7h0M542.7 432.2h0M529.9 415.2h0M558.3 432.2h0M548.2 428.8h0M527.0 412.5h0M571.2 430.0h0M531.9 432.9h0M530.4 415.1h0M569.4 433.4h0M542.0 428.7h0M580.9 426.4h0M565.3 417.6h0M534.9 430.7h0M570.0 426.6h0M540.5 430.1h0M596.2 427.9h0M539.4 414.2h0M544.0 429.7h0M605.4 421.3h0M545.4 415.9h0M530.6 432.1h0M590.6 425.6h0M536.8 430.1h0M547.3 428.4h0M527.2 415.1h0M539.2 412.8h0M577.3 410.1h0M555.2 428.4h0M535.0 414.7h0M526.7 431.9h0M550.3 428.7h0M559.2 429.8h0M544.9 415.0h0M524.3 432.0h0M529.5 431.7h0M545.4 428.4h0M589.1 427.3h0M582.8 426.1h0M608.2 421.9h0M556.6 417.1h0M548.3 415.3h0M521.9 430.4h0M523.5 431.1h0M559.7 427.2h0M594.8 417.0h0M541.1 412.8h0M561.6 417.3h0M532.0 415.3h0M550.7 428.7h0M535.8 430.2h0M555.0 415.6h0M557.2 427.8h0M528.3 431.5h0M541.9 415.4h0M571.0 417.8h0M572.7 418.5h0M556.1 433.7h0M548.1 428.0h0M552.1 428.3h0M556.7 428.2h0M594.9 418.7h0M550.2 428.9h0M532.1 414.6h0M533.6 430.7h0M554.4 414.3h0M536.8 415.5h0M555.4 428.9h0M523.1 414.6h0M586.6 428.9h0M611.9 420.4h0M533.9 413.6h0M539.1 429.7h0M528.2 430.3h0M523.7 431.9h0M598.0 418.5h0M589.1 420.0h0M559.0 429.1h0M545.8 415.5h0M572.9 428.1h0M548.1 428.5h0M546.0 428.4h0M572.6 427.1h0M541.8 414.9h0M565.1 429.4h0M528.4 415.2h0M558.8 416.4h0M535.2 412.5h0M609.5 420.4h0M550.4 431.8h0M537.7 433.0h0M528.9 430.9h0M541.9 430.0h0M553.9 427.6h0M530.8 414.5h0M527.5 432.8h0M550.3 414.5h0M528.8 415.0h0M585.0 427.2h0M536.9 415.2h0M584.7 418.1h0M588.6 417.6h0M561.2 414.0h0M568.7 427.9h0M534.9 409.4h0M525.6 431.8h0M549.9 428.0h0M528.3 430.8h0M524.8 413.8h0M536.4 415.2h0M540.0 430.6h0M561.6 429.2h0M545.8 416.0h0M521.7 430.4h0M541.9 411.1h0M534.3 431.6h0M553.2 428.5h0M555.3 413.2h0M552.1 414.9h0M607.8 422.8h0M544.6 430.1h0M542.8 430.3h0M559.1 414.2h0M541.2 415.8h0M523.6 432.4h0M546.0 428.3h0M573.0 415.8h0M565.8 417.7h0M534.2 430.1h0M541.7 413.6h0M536.7 429.7h0M553.1 428.4h0M581.9 418.5h0M577.0 427.5h0M535.5 413.7h0M529.6 431.7h0M527.0 432.6h0M535.4 430.5h0M536.2 411.2h0M533.7 430.8h0M536.1 431.7h0M565.7 428.0h0M558.3 412.9h0M551.0 431.0h0M588.4 419.4h0M587.9 418.0h0M523.7 430.4h0M552.6 416.2h0M552.0 429.6h0M593.5 427.6h0M530.5 433.3h0M533.8 412.2h0M553.2 416.6h0M556.6 430.5h0M553.2 429.2h0M570.0 417.9h0M543.2 412.6h0M547.6 415.8h0M574.2 429.9h0M535.3 430.3h0M539.5 431.9h0M530.8 432.6h0M575.4 415.8h0M523.4 414.4h0M522.7 431.7h0M537.2 415.6h0M552.5 431.7h0M543.5 413.0h0M574.8 418.5h0M531.2 431.4h0M532.2 430.2h0M558.9 430.3h0M536.5 414.1h0M574.6 427.2h0M561.9 428.7h0M539.7 415.0h0M535.0 415.3h0M539.1 430.2h0M598.4 425.0h0M537.7 429.7h0M527.1 412.6h0M540.5 429.3h0M575.0 426.2h0M599.6 419.3h0M543.6 430.1h0M550.1 429.1h0M529.9 414.2h0M555.6 427.8h0M556.2 416.9h0M531.1 414.4h0M564.4 427.7h0M559.4 428.8h0M548.7 428.2h0M560.2 427.3h0M575.5 417.7h0M607.8 424.9h0M567.1 428.7h0M528.0 430.4h0M532.0 432.1h0M522.5 414.2h0M532.8 431.7h0M554.7 434.9h0M533.9 430.1h0M522.1 431.4h0M529.6 415.3h0M569.2 417.2h0M577.0 427.4h0M553.6 429.2h0M540.1 414.2h0M530.5 413.8h0M526.1 431.4h0M533.3 414.6h0M533.1 412.8h0M552.6 416.4h0M601.4 427.1h0M548.7 430.0h0M561.4 427.3h0M571.1 426.4h0M547.6 428.5h0M544.1 428.5h0M544.6 414.6h0M527.9 430.5h0M526.6 431.3h0M558.1 416.0h0M529.1 415.0h0M573.7 428.1h0M540.7 415.2h0M536.5 430.0h0M552.8 416.6h0M582.3 418.5h0M608.5 421.0h0M560.7 416.9h0M559.2 428.6h0M585.9 427.7h0M537.3 429.6h0M556.2 427.9h0M540.9 414.6h0M579.2 426.7h0M586.4 417.1h0M550.1 415.9h0M528.3 432.7h0M580.0 427.7h0M532.4 413.5h0M558.2 416.3h0M541.7 415.6h0M538.9 429.9h0M558.9 415.5h0M524.5 430.7h0M544.4 414.8h0M564.8 415.9h0M585.2 415.0h0M540.0 415.0h0M560.6 433.1h0M535.0 433.2h0M587.8 417.5h0M581.0 417.2h0M555.0 408.1h0M607.1 424.4h0M551.1 429.1h0M551.6 428.3h0M543.1 413.5h0M543.8 428.5h0M527.3 433.9h0M584.4 426.4h0M576.8 417.2h0M570.2 427.3h0M534.3 432.3h0M592.4 417.8h0M535.3 412.4h0M546.5 428.8h0M573.5 427.0h0M550.7 415.4h0M531.9 432.4h0M524.1 414.0h0M542.1 414.7h0M529.1 435.4h0M568.7 417.4h0M538.1 430.8h0M588.2 428.1h0M569.3 426.8h0M535.3 431.1h0M585.1 417.9h0M611.6 422.0h0M544.1 430.7h0M554.7 416.8h0M528.2 413.4h0M523.5 414.5h0M546.9 429.0h0M546.2 414.6h0M535.7 410.1h0M540.3 414.8h0M522.5 432.0h0M538.9 430.8h0M526.1 432.4h0M524.9 415.3h0M558.0 428.9h0M547.7 412.4h0M549.9 414.9h0M526.7 433.1h0M557.8 428.4h0M577.2 417.8h0M563.8 415.6h0M558.9 429.0h0M567.5 414.5h0M554.0 416.5h0M555.5 416.5h0M560.0 416.7h0M543.0 429.4h0M539.3 432.4h0M565.0 431.8h0M532.1 407.4h0M585.4 427.4h0M562.5 427.1h0M553.2 429.9h0M557.6 428.8h0M592.7 426.3h0M571.8 426.7h0M581.9 426.5h0M546.7 428.5h0M551.8 428.3h0M521.6 430.6h0M558.3 427.9h0M528.5 432.2h0M558.8 427.3h0M569.0 416.1h0M529.2 433.4h0M561.6 427.7h0M541.0 429.4h0M537.6 414.9h0M554.9 429.8h0M590.7 429.2h0M579.5 427.6h0M562.5 416.0h0M522.2 431.4h0M534.9 430.5h0M546.7 416.1h0M602.3 421.8h0M537.2 429.6h0M590.1 427.7h0M539.4 415.2h0M590.6 426.4h0M532.2 430.6h0M553.5 428.0h0M559.9 416.4h0M575.9 418.9h0M605.9 418.9h0M548.6 415.1h0M583.8 428.0h0M578.4 418.6h0M550.0 428.1h0M533.2 415.1h0M561.3 415.0h0M541.0 415.6h0M546.4 430.2h0M559.2 415.5h0M560.7 427.2h0M582.6 419.4h0M527.6 415.1h0M527.4 414.3h0M531.2 432.3h0M533.6 413.9h0M562.7 416.1h0M529.5 414.6h0M561.8 435.1h0M536.7 415.5h0M546.6 428.7h0M574.4 418.6h0M573.3 428.6h0M525.1 413.7h0M526.7 432.1h0M525.0 430.3h0M547.3 429.0h0M543.5 430.9h0M579.0 428.9h0M528.4 431.5h0M528.4 431.1h0M529.0 413.8h0M543.3 430.3h0M528.1 431.8h0M531.8 415.1h0M552.2 415.6h0M556.6 416.9h0M552.1 414.9h0M565.9 427.3h0M568.8 414.8h0M563.1 427.7h0M534.2 412.4h0M539.8 414.9h0M523.5 430.4h0M598.0 424.8h0M532.6 414.5h0M577.0 427.3h0M541.8 415.5h0M533.7 414.7h0M552.6 428.0h0M547.8 413.9h0M525.4 431.5h0M577.6 426.4h0M580.5 419.0h0M564.2 416.9h0M544.4 431.1h0M583.9 416.8h0M532.9 431.0h0M548.1 428.1h0M590.7 420.2h0M556.4 428.0h0M554.6 415.8h0M555.9 415.2h0M587.5 417.3h0M565.6 417.9h0M552.0 415.4h0M525.4 431.3h0M559.7 427.4h0M531.4 414.9h0M564.5 415.8h0M534.5 411.1h0M528.4 413.7h0M541.0 415.6h0M537.7 415.5h0M587.9 428.5h0M523.3 433.3h0M551.3 429.2h0M553.2 415.7h0M558.2 416.1h0M536.3 414.8h0M549.1 428.5h0M572.8 427.6h0M556.6 429.8h0M529.2 430.4h0M533.1 430.1h0M545.7 430.2h0M549.1 415.5h0M550.4 414.3h0M522.8 414.7h0M544.8 414.9h0M524.4 431.0h0M563.7 432.5h0M603.4 419.7h0M532.2 415.1h0M553.1 427.8h0M553.9 428.9h0M560.5 427.2h0M536.3 415.5h0M572.8 427.1h0M570.1 427.5h0M554.2 429.1h0M555.6 416.7h0M555.4 415.5h0M569.8 429.6h0M564.6 417.4h0M565.1 414.9h0M589.4 427.0h0M524.7 414.7h0M531.7 415.1h0M569.5 417.0h0M561.9 417.5h0M550.4 416.0h0M528.5 415.3h0M551.8 429.3h0M537.7 430.2h0M562.5 412.8h0M529.3 431.0h0M555.3 429.2h0M559.4 414.8h0M578.4 426.7h0M552.3 430.3h0M521.5 430.9h0M547.7 416.2h0M550.2 435.2h0M545.8 415.4h0M541.0 414.6h0M553.5 416.7h0M528.7 434.2h0M538.4 414.9h0M533.8 431.1h0M554.7 429.0h0M547.2 430.1h0M569.6 427.9h0M562.4 427.8h0M559.4 415.6h0M525.7 414.0h0M572.4 414.1h0M544.6 414.6h0M527.4 414.6h0M564.6 427.6h0M538.0 429.6h0M552.6 414.7h0M529.5 415.2h0M563.3 427.4h0M584.8 427.1h0M539.1 411.8h0M579.9 426.1h0M551.6 416.4h0M553.1 414.1h0M585.7 417.2h0M554.8 417.1h0M529.0 430.2h0M540.3 430.9h0M558.0 430.5h0M575.6 418.7h0M530.9 434.8h0M547.9 415.3h0M565.5 428.3h0M562.8 428.3h0M558.0 416.9h0M603.1 421.9h0M547.4 430.8h0M573.7 418.7h0M555.4 428.3h0M556.9 429.3h0M556.1 416.9h0M569.5 418.2h0M533.1 431.5h0M545.1 414.8h0M602.0 419.5h0M553.7 414.7h0M533.8 430.5h0M585.2 418.2h0M526.6 414.2h0M552.6 428.5h0M581.3 416.9h0M567.6 427.1h0M555.5 416.6h0M553.6 414.6h0M544.4 408.7h0M574.8 418.7h0M534.6 431.3h0M564.5 416.3h0M559.1 417.5h0M580.8 418.7h0M531.7 412.4h0M565.9 417.5h0M550.4 430.9h0M522.3 414.1h0M588.2 427.6h0M565.0 415.8h0M578.8 427.9h0M579.6 428.0h0M553.0 429.8h0M527.5 414.6h0M579.9 431.8h0M545.5 428.3h0M549.1 414.2h0M544.1 429.5h0M558.6 428.2h0M536.5 431.7h0M591.8 417.1h0M550.3 415.5h0M553.2 415.2h0M556.9 412.4h0M558.9 413.0h0M526.1 431.6h0M559.1 417.2h0M540.6 414.7h0M576.1 426.9h0M557.6 429.3h0M547.9 430.6h0M610.4 422.1h0M605.6 421.1h0M535.7 413.8h0M566.0 417.5h0M531.8 415.3h0M608.1 425.0h0M525.1 414.6h0M579.3 418.6h0M543.9 412.7h0M532.7 431.1h0M529.8 431.3h0M551.2 430.4h0M565.5 416.5h0M547.3 415.9h0M558.4 427.6h0M551.8 429.4h0M568.2 430.3h0M566.9 427.2h0M554.4 416.6h0M556.0 427.8h0M551.8 415.1h0M535.1 430.9h0M537.9 415.4h0M573.9 428.9h0M543.3 429.3h0M543.4 433.5h0M534.4 430.3h0M568.4 417.0h0M536.9 431.8h0M535.1 414.6h0M540.3 414.8h0M549.5 432.5h0M550.7 415.4h0M605.2 421.9h0M563.6 417.3h0M546.7 428.1h0M595.0 416.6h0M569.4 428.3h0M529.9 430.5h0M529.1 430.4h0M597.4 425.1h0M550.8 429.5h0M544.4 413.5h0M577.9 428.6h0M563.5 427.6h0M565.6 416.3h0M519.7 465.7h0M532.6 398.0h0M546.5 404.7h0M549.4 402.1h0M573.3 404.7h0M576.2 408.8h0M564.3 430.9h0M529.6 437.6h0" stroke="#8c8c8c" stroke-width="1.8" stroke-linecap="round" fill="none"/>
<path d="M507.7 424.2h0M523.2 446.3h0M521.2 444.2h0M519.3 442.0h0M517.5 439.6h0M515.9 437.2h0M514.5 434.6h0M513.3 431.9h0M512.4 429.1h0M511.9 426.2h0M511.8 423.2h0M512.0 420.2h0M512.6 417.3h0M513.6 414.4h0M514.9 411.6h0M516.4 408.9h0M518.2 406.4h0M520.1 404.0h0M522.2 401.7h0M523.3 442.9h0M521.7 441.0h0M520.3 439.1h0M519.0 437.0h0M517.8 434.9h0M516.8 432.6h0M515.9 430.3h0M515.4 427.9h0M515.0 425.4h0M514.9 423.0h0M515.1 420.5h0M515.6 418.0h0M516.3 415.6h0M517.3 413.2h0M518.4 410.9h0M519.7 408.7h0M521.2 406.6h0M522.8 404.6h0M523.0 440.2h0M521.9 438.6h0M520.8 437.0h0M519.9 435.3h0M519.0 433.5h0M518.3 431.7h0M517.7 429.8h0M517.2 427.8h0M516.9 425.9h0M516.8 423.9h0M516.9 421.9h0M517.1 419.9h0M517.5 417.9h0M518.1 416.0h0M518.8 414.1h0M519.6 412.2h0M520.6 410.4h0M521.6 408.7h0M522.8 407.0h0" stroke="#8c8c8c" stroke-width="1.8" stroke-linecap="round" fill="none"/>
<path d="M507.9 395.9h0M510.1 392.9h0M512.3 390.4h0M514.3 387.7h0M516.6 384.6h0M518.6 381.9h0M507.9 450.8h0M509.7 453.4h0M512.0 456.5h0M514.0 459.5h0" stroke="#8c8c8c" stroke-width="2.3" stroke-linecap="round" fill="none"/>
<rect x="474.5" y="351.5" width="161.5" height="144" fill="none" stroke="#111" stroke-width="1.5"/>
<line x1="471.7" y1="356.5" x2="474.5" y2="356.5" stroke="#111" stroke-width="1.3"/>
<text font-size="12.6" text-anchor="middle" transform="translate(470.30 358.30) rotate(-90) scale(1.035 1)" stroke="#1a1a1a" stroke-width="0.25">10</text>
<line x1="471.7" y1="390.0" x2="474.5" y2="390.0" stroke="#111" stroke-width="1.3"/>
<text font-size="12.6" text-anchor="middle" transform="translate(470.30 391.80) rotate(-90) scale(1.035 1)" stroke="#1a1a1a" stroke-width="0.25">5</text>
<line x1="471.7" y1="423.5" x2="474.5" y2="423.5" stroke="#111" stroke-width="1.3"/>
<text font-size="12.6" text-anchor="middle" transform="translate(470.30 423.70) rotate(-90) scale(1.035 1)" stroke="#1a1a1a" stroke-width="0.25">0</text>
<line x1="471.7" y1="457.0" x2="474.5" y2="457.0" stroke="#111" stroke-width="1.3"/>
<text font-size="12.6" text-anchor="middle" transform="translate(470.30 455.50) rotate(-90) scale(1.035 1)" stroke="#1a1a1a" stroke-width="0.25">-5</text>
<line x1="471.7" y1="490.5" x2="474.5" y2="490.5" stroke="#111" stroke-width="1.3"/>
<text font-size="12.6" text-anchor="middle" transform="translate(470.30 489.00) rotate(-90) scale(1.035 1)" stroke="#1a1a1a" stroke-width="0.25">-10</text>
<line x1="481.0" y1="495.5" x2="481.0" y2="498.8" stroke="#111" stroke-width="1.3"/>
<text font-size="12.8" text-anchor="middle" transform="matrix(1 0 0 1.035 481.00 511.50)" stroke="#1a1a1a" stroke-width="0.25">0</text>
<line x1="530.6" y1="495.5" x2="530.6" y2="498.8" stroke="#111" stroke-width="1.3"/>
<text font-size="12.8" text-anchor="middle" transform="matrix(1 0 0 1.035 530.60 511.50)" stroke="#1a1a1a" stroke-width="0.25">5</text>
<line x1="580.2" y1="495.5" x2="580.2" y2="498.8" stroke="#111" stroke-width="1.3"/>
<text font-size="12.8" text-anchor="middle" transform="matrix(1 0 0 1.035 580.20 511.50)" stroke="#1a1a1a" stroke-width="0.25">10</text>
<line x1="629.8" y1="495.5" x2="629.8" y2="498.8" stroke="#111" stroke-width="1.3"/>
<text font-size="12.8" text-anchor="middle" transform="matrix(1 0 0 1.035 629.80 511.50)" stroke="#1a1a1a" stroke-width="0.25">15</text>
<text font-size="12.8" text-anchor="end" fill="#e41e78" transform="matrix(1 0 0 1.035 631.00 364.30)" stroke="#e41e78" stroke-width="0.25">0 genes</text>
<text font-size="12.8" text-anchor="end" fill="#3fbd62" transform="matrix(1 0 0 1.035 631.00 490.90)" stroke="#3fbd62" stroke-width="0.25">0 genes</text>
<text font-size="14.5" fill="#000" font-weight="bold" transform="matrix(1 0 0 1.035 8.00 535.70)" stroke="#000" stroke-width="0.25">d</text>
<text font-size="12.7" text-anchor="middle" transform="matrix(1 0 0 1.035 81.20 531.70)" stroke="#1a1a1a" stroke-width="0.25">Day 4 pm</text>
<line x1="35.4" y1="535.8" x2="127.8" y2="535.8" stroke="#231815" stroke-width="1.1"/>
<g shape-rendering="crispEdges" fill="none" stroke-width="1">
<path stroke="#ffa6ff" d="M28 579.5h33.0M94.2 587.5h33.8M28 588.5h33.0M94.2 597.5h33.8M94.2 603.5h33.8M28 608.5h33.0M94.2 608.5h33.8M28 609.5h33.0M28 630.5h33.0M28 633.5h33.0M28 635.5h33.0M28 644.5h33.0M28 649.5h33.0M28 650.5h33.0M28 651.5h33.0M28 657.5h33.0M28 664.5h33.0M28 665.5h33.0M94.2 681.5h33.8M94.2 684.5h33.8M94.2 694.5h33.8M94.2 696.5h33.8M28 701.5h33.0M94.2 701.5h33.8M28 705.5h33.0M164.2 710.5h33.4M164.2 714.5h33.4M94.2 715.5h33.8M28 716.5h33.0M28 717.5h33.0M94.2 718.5h33.8M94.2 720.5h33.8M28 722.5h33.0M94.2 722.5h33.8M94.2 727.5h33.8M94.2 730.5h33.8M94.2 732.5h33.8M61 734.5h33.2M94.2 743.5h33.8M94.2 744.5h33.8M61 745.5h33.2M94.2 746.5h33.8M94.2 750.5h33.8M28 751.5h33.0M94.2 754.5h33.8M94.2 758.5h33.8M28 766.5h33.0M94.2 766.5h33.8M94.2 769.5h33.8M94.2 772.5h33.8M61 776.5h33.2M61 777.5h33.2M94.2 777.5h33.8M94.2 792.5h33.8M28 802.5h33.0M61 822.5h33.2M61 824.5h33.2M94.2 825.5h33.8M94.2 828.5h33.8M94.2 830.5h33.8M61 831.5h33.2M61 836.5h33.2M94.2 838.5h33.8M61 839.5h33.2M61 840.5h33.2M94.2 840.5h33.8M61 841.5h33.2M61 845.5h33.2M61 848.5h33.2M61 897.5h33.2M61 900.5h33.2M61 908.5h33.2M61 909.5h33.2M61 910.5h33.2M131 910.5h33.2M61 914.5h33.2M61 928.5h33.2M61 938.5h33.2M61 942.5h33.2M61 947.5h33.2M61 949.5h33.2M61 952.5h33.2M61 967.5h33.2"/>
<path stroke="#6666ff" d="M61 579.5h33.2M61 580.5h33.2M61 581.5h33.2M131 581.5h33.2M61 585.5h33.2M131 586.5h33.2M131 587.5h33.2M61 589.5h33.2M131 589.5h33.2M131 590.5h33.2M61 591.5h33.2M61 592.5h33.2M131 592.5h33.2M61 594.5h33.2M131 594.5h33.2M61 595.5h33.2M61 596.5h33.2M61 597.5h33.2M131 597.5h33.2M131 598.5h33.2M61 600.5h33.2M61 601.5h33.2M61 603.5h33.2M131 603.5h33.2M61 608.5h33.2M131 618.5h33.2M131 620.5h33.2M61 621.5h33.2M131 624.5h33.2M131 626.5h33.2M131 628.5h33.2M61 638.5h33.2M131 641.5h33.2M131 649.5h33.2M61 650.5h33.2M131 655.5h33.2M131 659.5h33.2M131 664.5h33.2M131 665.5h33.2M61 673.5h33.2M131 680.5h33.2M131 682.5h33.2M131 686.5h33.2M131 707.5h33.2M131 710.5h33.2M131 716.5h33.2M131 718.5h33.2M131 721.5h33.2M131 722.5h33.2M131 723.5h33.2M131 750.5h33.2M131 751.5h33.2M131 762.5h33.2M131 765.5h33.2M131 778.5h33.2M61 810.5h33.2M164.2 819.5h33.4M164.2 827.5h33.4M164.2 831.5h33.4M164.2 842.5h33.4M164.2 844.5h33.4M164.2 866.5h33.4M164.2 884.5h33.4M164.2 885.5h33.4M164.2 903.5h33.4M164.2 906.5h33.4M164.2 907.5h33.4M164.2 909.5h33.4M94.2 911.5h33.8M164.2 912.5h33.4M164.2 914.5h33.4M164.2 922.5h33.4M164.2 923.5h33.4M164.2 924.5h33.4"/>
<path stroke="#ff73ff" d="M94.2 579.5h33.8M164.2 579.5h33.4M164.2 581.5h33.4M28 584.5h33.0M164.2 588.5h33.4M28 591.5h33.0M28 592.5h33.0M94.2 592.5h33.8M94.2 593.5h33.8M28 594.5h33.0M94.2 594.5h33.8M28 597.5h33.0M28 598.5h33.0M164.2 599.5h33.4M94.2 600.5h33.8M164.2 600.5h33.4M164.2 605.5h33.4M164.2 606.5h33.4M164.2 619.5h33.4M28 621.5h33.0M164.2 621.5h33.4M164.2 623.5h33.4M28 626.5h33.0M164.2 630.5h33.4M164.2 631.5h33.4M164.2 632.5h33.4M164.2 637.5h33.4M164.2 647.5h33.4M164.2 650.5h33.4M94.2 660.5h33.8M94.2 665.5h33.8M28 669.5h33.0M28 670.5h33.0M94.2 670.5h33.8M94.2 676.5h33.8M94.2 690.5h33.8M94.2 692.5h33.8M61 730.5h33.2M94.2 735.5h33.8M94.2 748.5h33.8M94.2 749.5h33.8M61 754.5h33.2M61 758.5h33.2M94.2 763.5h33.8M94.2 764.5h33.8M61 768.5h33.2M94.2 791.5h33.8M164.2 796.5h33.4M164.2 797.5h33.4M164.2 798.5h33.4M164.2 799.5h33.4M164.2 808.5h33.4M164.2 809.5h33.4M164.2 811.5h33.4M164.2 812.5h33.4M164.2 813.5h33.4M61 819.5h33.2M61 833.5h33.2M61 842.5h33.2M61 856.5h33.2M61 857.5h33.2M61 861.5h33.2M61 863.5h33.2M61 866.5h33.2M61 868.5h33.2M61 870.5h33.2M131 870.5h33.2M61 872.5h33.2M61 873.5h33.2M131 876.5h33.2M61 878.5h33.2M131 878.5h33.2M131 884.5h33.2M131 887.5h33.2M61 888.5h33.2M61 893.5h33.2M61 894.5h33.2M131 895.5h33.2M131 896.5h33.2M61 903.5h33.2M131 912.5h33.2M61 913.5h33.2M61 915.5h33.2M131 915.5h33.2M131 917.5h33.2M131 922.5h33.2M131 932.5h33.2M61 934.5h33.2M131 939.5h33.2M131 946.5h33.2M131 948.5h33.2M131 953.5h33.2M131 958.5h33.2M131 960.5h33.2M131 961.5h33.2M131 962.5h33.2M131 964.5h33.2M131 965.5h33.2M131 971.5h33.2M131 972.5h33.2M131 978.5h33.2M131 981.5h33.2"/>
<path stroke="#5959ff" d="M131 579.5h33.2M131 582.5h33.2M131 583.5h33.2M131 585.5h33.2M131 591.5h33.2M61 593.5h33.2M131 599.5h33.2M131 602.5h33.2M61 610.5h33.2M131 630.5h33.2M61 634.5h33.2M131 634.5h33.2M131 635.5h33.2M131 637.5h33.2M131 639.5h33.2M131 647.5h33.2M131 648.5h33.2M131 650.5h33.2M131 651.5h33.2M61 671.5h33.2M131 673.5h33.2M61 674.5h33.2M131 675.5h33.2M131 676.5h33.2M131 681.5h33.2M131 685.5h33.2M131 687.5h33.2M131 689.5h33.2M131 692.5h33.2M131 698.5h33.2M131 700.5h33.2M131 701.5h33.2M131 702.5h33.2M131 704.5h33.2M131 706.5h33.2M131 709.5h33.2M131 715.5h33.2M131 719.5h33.2M131 720.5h33.2M131 724.5h33.2M164.2 735.5h33.4M131 780.5h33.2M164.2 787.5h33.4M61 808.5h33.2M164.2 854.5h33.4M164.2 860.5h33.4M164.2 861.5h33.4M164.2 868.5h33.4M164.2 869.5h33.4M164.2 875.5h33.4M164.2 879.5h33.4M164.2 880.5h33.4M164.2 882.5h33.4M164.2 883.5h33.4M164.2 887.5h33.4M164.2 888.5h33.4M164.2 889.5h33.4M164.2 890.5h33.4M164.2 891.5h33.4M164.2 892.5h33.4M164.2 908.5h33.4M164.2 917.5h33.4"/>
<path stroke="#ff99ff" d="M28 580.5h33.0M94.2 583.5h33.8M28 585.5h33.0M28 593.5h33.0M94.2 595.5h33.8M28 600.5h33.0M28 607.5h33.0M28 610.5h33.0M28 612.5h33.0M28 616.5h33.0M28 617.5h33.0M28 619.5h33.0M28 620.5h33.0M164.2 622.5h33.4M164.2 624.5h33.4M28 638.5h33.0M164.2 639.5h33.4M28 640.5h33.0M164.2 643.5h33.4M28 645.5h33.0M28 655.5h33.0M28 658.5h33.0M28 673.5h33.0M94.2 683.5h33.8M164.2 685.5h33.4M94.2 686.5h33.8M164.2 686.5h33.4M94.2 689.5h33.8M94.2 693.5h33.8M94.2 699.5h33.8M164.2 700.5h33.4M28 702.5h33.0M28 703.5h33.0M28 704.5h33.0M94.2 704.5h33.8M94.2 705.5h33.8M94.2 706.5h33.8M94.2 708.5h33.8M94.2 714.5h33.8M28 715.5h33.0M28 718.5h33.0M94.2 725.5h33.8M61 727.5h33.2M61 728.5h33.2M61 733.5h33.2M94.2 733.5h33.8M61 736.5h33.2M28 738.5h33.0M61 740.5h33.2M94.2 740.5h33.8M94.2 741.5h33.8M94.2 742.5h33.8M94.2 745.5h33.8M61 747.5h33.2M61 750.5h33.2M61 751.5h33.2M94.2 751.5h33.8M94.2 753.5h33.8M94.2 755.5h33.8M61 762.5h33.2M94.2 765.5h33.8M61 773.5h33.2M94.2 776.5h33.8M94.2 778.5h33.8M94.2 789.5h33.8M94.2 817.5h33.8M94.2 818.5h33.8M61 821.5h33.2M61 826.5h33.2M61 830.5h33.2M61 832.5h33.2M61 838.5h33.2M61 851.5h33.2M131 877.5h33.2M61 884.5h33.2M61 887.5h33.2M61 904.5h33.2M131 904.5h33.2M131 907.5h33.2M131 908.5h33.2M131 913.5h33.2M61 917.5h33.2M61 922.5h33.2M61 924.5h33.2M61 926.5h33.2M61 932.5h33.2M131 934.5h33.2M61 939.5h33.2M61 953.5h33.2"/>
<path stroke="#ff66ff" d="M94.2 580.5h33.8M164.2 583.5h33.4M164.2 585.5h33.4M164.2 587.5h33.4M164.2 590.5h33.4M164.2 592.5h33.4M94.2 599.5h33.8M164.2 610.5h33.4M164.2 615.5h33.4M164.2 618.5h33.4M164.2 620.5h33.4M28 622.5h33.0M28 623.5h33.0M28 624.5h33.0M28 627.5h33.0M164.2 627.5h33.4M164.2 634.5h33.4M28 637.5h33.0M94.2 640.5h33.8M28 646.5h33.0M164.2 649.5h33.4M94.2 653.5h33.8M94.2 654.5h33.8M94.2 655.5h33.8M94.2 657.5h33.8M94.2 658.5h33.8M94.2 666.5h33.8M94.2 667.5h33.8M94.2 671.5h33.8M94.2 673.5h33.8M94.2 674.5h33.8M94.2 675.5h33.8M94.2 697.5h33.8M61 735.5h33.2M61 744.5h33.2M61 786.5h33.2M61 787.5h33.2M61 790.5h33.2M164.2 795.5h33.4M164.2 805.5h33.4M164.2 806.5h33.4M164.2 816.5h33.4M61 817.5h33.2M61 818.5h33.2M61 834.5h33.2M61 853.5h33.2M61 855.5h33.2M61 869.5h33.2M131 871.5h33.2M131 874.5h33.2M61 880.5h33.2M61 881.5h33.2M61 882.5h33.2M61 883.5h33.2M131 888.5h33.2M131 891.5h33.2M61 892.5h33.2M131 893.5h33.2M131 898.5h33.2M131 903.5h33.2M131 923.5h33.2M131 925.5h33.2M131 927.5h33.2M131 928.5h33.2M61 929.5h33.2M61 930.5h33.2M131 930.5h33.2M131 931.5h33.2M61 935.5h33.2M131 937.5h33.2M131 941.5h33.2M131 942.5h33.2M131 947.5h33.2M131 950.5h33.2M131 954.5h33.2M131 959.5h33.2M131 963.5h33.2M131 966.5h33.2M131 969.5h33.2M131 973.5h33.2M131 975.5h33.2M131 976.5h33.2M131 979.5h33.2M131 980.5h33.2"/>
<path stroke="#4d4dff" d="M131 580.5h33.2M131 584.5h33.2M131 601.5h33.2M61 609.5h33.2M61 615.5h33.2M131 619.5h33.2M61 636.5h33.2M131 636.5h33.2M131 638.5h33.2M61 653.5h33.2M131 677.5h33.2M131 678.5h33.2M131 679.5h33.2M131 688.5h33.2M131 691.5h33.2M131 693.5h33.2M131 694.5h33.2M131 695.5h33.2M131 696.5h33.2M131 697.5h33.2M131 699.5h33.2M131 703.5h33.2M131 705.5h33.2M131 711.5h33.2M131 712.5h33.2M131 713.5h33.2M131 714.5h33.2M131 717.5h33.2M131 725.5h33.2M164.2 818.5h33.4M164.2 859.5h33.4M164.2 870.5h33.4M164.2 871.5h33.4M164.2 873.5h33.4M164.2 874.5h33.4M164.2 876.5h33.4M164.2 877.5h33.4M164.2 878.5h33.4M164.2 881.5h33.4M164.2 893.5h33.4M164.2 895.5h33.4M164.2 896.5h33.4M164.2 904.5h33.4M94.2 909.5h33.8M164.2 916.5h33.4M164.2 930.5h33.4M164.2 933.5h33.4M164.2 934.5h33.4M164.2 935.5h33.4M164.2 938.5h33.4M164.2 939.5h33.4"/>
<path stroke="#ff80ff" d="M164.2 580.5h33.4M28 581.5h33.0M94.2 582.5h33.8M164.2 582.5h33.4M28 583.5h33.0M164.2 586.5h33.4M28 589.5h33.0M94.2 590.5h33.8M164.2 607.5h33.4M164.2 608.5h33.4M164.2 612.5h33.4M164.2 614.5h33.4M164.2 616.5h33.4M28 618.5h33.0M164.2 625.5h33.4M28 629.5h33.0M164.2 633.5h33.4M28 641.5h33.0M164.2 641.5h33.4M164.2 642.5h33.4M164.2 645.5h33.4M164.2 648.5h33.4M94.2 668.5h33.8M94.2 669.5h33.8M94.2 687.5h33.8M94.2 688.5h33.8M164.2 691.5h33.4M94.2 719.5h33.8M94.2 721.5h33.8M164.2 723.5h33.4M61 729.5h33.2M61 731.5h33.2M61 732.5h33.2M94.2 734.5h33.8M61 739.5h33.2M61 742.5h33.2M61 743.5h33.2M94.2 752.5h33.8M94.2 756.5h33.8M94.2 761.5h33.8M94.2 762.5h33.8M94.2 768.5h33.8M61 770.5h33.2M61 772.5h33.2M94.2 775.5h33.8M61 789.5h33.2M61 791.5h33.2M164.2 794.5h33.4M164.2 810.5h33.4M61 835.5h33.2M61 852.5h33.2M61 859.5h33.2M61 864.5h33.2M61 879.5h33.2M131 879.5h33.2M131 880.5h33.2M131 881.5h33.2M131 882.5h33.2M131 883.5h33.2M61 885.5h33.2M131 885.5h33.2M61 886.5h33.2M131 886.5h33.2M61 891.5h33.2M131 894.5h33.2M131 897.5h33.2M131 899.5h33.2M61 901.5h33.2M131 909.5h33.2M131 914.5h33.2M61 916.5h33.2M61 918.5h33.2M61 919.5h33.2M61 925.5h33.2M61 927.5h33.2M61 931.5h33.2M131 933.5h33.2M131 935.5h33.2M131 949.5h33.2M131 952.5h33.2"/>
<path stroke="#ff4dff" d="M94.2 581.5h33.8M164.2 593.5h33.4M164.2 594.5h33.4M164.2 595.5h33.4M164.2 597.5h33.4M164.2 609.5h33.4M164.2 628.5h33.4M164.2 651.5h33.4M94.2 662.5h33.8M94.2 691.5h33.8M61 792.5h33.2M164.2 802.5h33.4M164.2 803.5h33.4M164.2 804.5h33.4M61 862.5h33.2M61 875.5h33.2M131 875.5h33.2M131 900.5h33.2M131 901.5h33.2M131 902.5h33.2M61 912.5h33.2M131 919.5h33.2M131 921.5h33.2M131 929.5h33.2M131 936.5h33.2M131 943.5h33.2M131 956.5h33.2M131 970.5h33.2"/>
<path stroke="#ff8cff" d="M28 582.5h33.0M94.2 584.5h33.8M28 586.5h33.0M28 587.5h33.0M94.2 589.5h33.8M28 590.5h33.0M94.2 598.5h33.8M28 599.5h33.0M28 601.5h33.0M94.2 601.5h33.8M28 606.5h33.0M28 613.5h33.0M28 625.5h33.0M28 628.5h33.0M28 636.5h33.0M164.2 638.5h33.4M28 639.5h33.0M94.2 639.5h33.8M164.2 640.5h33.4M28 642.5h33.0M164.2 644.5h33.4M164.2 646.5h33.4M28 647.5h33.0M28 654.5h33.0M28 656.5h33.0M94.2 682.5h33.8M164.2 693.5h33.4M94.2 712.5h33.8M94.2 716.5h33.8M94.2 717.5h33.8M164.2 722.5h33.4M61 726.5h33.2M94.2 736.5h33.8M94.2 747.5h33.8M61 749.5h33.2M61 753.5h33.2M61 755.5h33.2M61 756.5h33.2M61 757.5h33.2M94.2 757.5h33.8M94.2 760.5h33.8M61 769.5h33.2M94.2 774.5h33.8M61 775.5h33.2M94.2 788.5h33.8M61 823.5h33.2M61 825.5h33.2M61 829.5h33.2M61 837.5h33.2M61 843.5h33.2M61 847.5h33.2M61 850.5h33.2M61 858.5h33.2M61 865.5h33.2M61 871.5h33.2M131 872.5h33.2M131 873.5h33.2M131 890.5h33.2M61 899.5h33.2M61 902.5h33.2M131 905.5h33.2M131 906.5h33.2M61 907.5h33.2M131 911.5h33.2M61 921.5h33.2M61 933.5h33.2M61 936.5h33.2M61 937.5h33.2M131 940.5h33.2M131 951.5h33.2"/>
<path stroke="#8080ff" d="M61 582.5h33.2M61 586.5h33.2M131 596.5h33.2M131 606.5h33.2M61 611.5h33.2M94.2 612.5h33.8M61 617.5h33.2M131 617.5h33.2M61 619.5h33.2M61 620.5h33.2M131 621.5h33.2M61 623.5h33.2M131 643.5h33.2M61 646.5h33.2M61 652.5h33.2M131 652.5h33.2M61 654.5h33.2M131 656.5h33.2M131 658.5h33.2M61 660.5h33.2M61 663.5h33.2M164.2 664.5h33.4M61 667.5h33.2M131 669.5h33.2M61 670.5h33.2M131 671.5h33.2M131 674.5h33.2M131 732.5h33.2M131 735.5h33.2M164.2 742.5h33.4M164.2 744.5h33.4M131 754.5h33.2M131 773.5h33.2M131 776.5h33.2M131 779.5h33.2M131 781.5h33.2M131 782.5h33.2M164.2 782.5h33.4M131 783.5h33.2M131 786.5h33.2M131 790.5h33.2M131 792.5h33.2M61 802.5h33.2M61 803.5h33.2M61 806.5h33.2M61 807.5h33.2M61 809.5h33.2M61 812.5h33.2M164.2 821.5h33.4M164.2 822.5h33.4M164.2 823.5h33.4M164.2 824.5h33.4M164.2 828.5h33.4M164.2 829.5h33.4M164.2 832.5h33.4M164.2 836.5h33.4M164.2 839.5h33.4M164.2 841.5h33.4M164.2 847.5h33.4M164.2 850.5h33.4M164.2 855.5h33.4M164.2 858.5h33.4M164.2 863.5h33.4M164.2 897.5h33.4M164.2 898.5h33.4M94.2 899.5h33.8M164.2 902.5h33.4M94.2 912.5h33.8M28 917.5h33.0M164.2 920.5h33.4M28 927.5h33.0M164.2 928.5h33.4M28 940.5h33.0M28 963.5h33.0M28 972.5h33.0"/>
<path stroke="#7373ff" d="M61 583.5h33.2M61 584.5h33.2M61 587.5h33.2M61 588.5h33.2M131 588.5h33.2M61 590.5h33.2M131 593.5h33.2M131 595.5h33.2M61 598.5h33.2M61 599.5h33.2M131 600.5h33.2M61 602.5h33.2M131 605.5h33.2M131 615.5h33.2M131 616.5h33.2M131 623.5h33.2M131 625.5h33.2M131 627.5h33.2M131 629.5h33.2M61 631.5h33.2M61 632.5h33.2M131 632.5h33.2M61 633.5h33.2M61 635.5h33.2M131 640.5h33.2M131 642.5h33.2M61 651.5h33.2M131 653.5h33.2M131 654.5h33.2M131 657.5h33.2M61 659.5h33.2M131 660.5h33.2M131 663.5h33.2M164.2 665.5h33.4M131 666.5h33.2M131 667.5h33.2M131 668.5h33.2M131 670.5h33.2M61 672.5h33.2M131 672.5h33.2M131 683.5h33.2M131 684.5h33.2M131 708.5h33.2M131 727.5h33.2M131 728.5h33.2M131 731.5h33.2M131 739.5h33.2M164.2 743.5h33.4M131 749.5h33.2M131 752.5h33.2M164.2 756.5h33.4M131 758.5h33.2M131 777.5h33.2M164.2 786.5h33.4M164.2 817.5h33.4M164.2 820.5h33.4M164.2 830.5h33.4M164.2 833.5h33.4M164.2 837.5h33.4M164.2 838.5h33.4M164.2 843.5h33.4M164.2 849.5h33.4M164.2 853.5h33.4M164.2 867.5h33.4M164.2 886.5h33.4M164.2 913.5h33.4M164.2 915.5h33.4M164.2 921.5h33.4M164.2 925.5h33.4M164.2 929.5h33.4M164.2 969.5h33.4"/>
<path stroke="#ff59ff" d="M164.2 584.5h33.4M164.2 589.5h33.4M94.2 591.5h33.8M164.2 591.5h33.4M28 595.5h33.0M28 596.5h33.0M164.2 601.5h33.4M28 602.5h33.0M164.2 602.5h33.4M164.2 603.5h33.4M164.2 604.5h33.4M28 605.5h33.0M164.2 611.5h33.4M164.2 613.5h33.4M164.2 617.5h33.4M164.2 626.5h33.4M164.2 629.5h33.4M164.2 635.5h33.4M164.2 636.5h33.4M28 648.5h33.0M164.2 652.5h33.4M94.2 656.5h33.8M94.2 659.5h33.8M94.2 661.5h33.8M94.2 663.5h33.8M94.2 664.5h33.8M94.2 672.5h33.8M94.2 698.5h33.8M94.2 713.5h33.8M61 771.5h33.2M61 788.5h33.2M164.2 793.5h33.4M164.2 800.5h33.4M164.2 807.5h33.4M164.2 814.5h33.4M164.2 815.5h33.4M61 854.5h33.2M61 867.5h33.2M131 869.5h33.2M61 876.5h33.2M61 877.5h33.2M61 889.5h33.2M131 889.5h33.2M61 890.5h33.2M131 892.5h33.2M61 895.5h33.2M61 896.5h33.2M61 911.5h33.2M131 916.5h33.2M131 918.5h33.2M131 920.5h33.2M131 924.5h33.2M131 926.5h33.2M61 941.5h33.2M131 945.5h33.2M131 955.5h33.2M131 957.5h33.2M131 967.5h33.2M131 968.5h33.2M131 974.5h33.2M131 977.5h33.2"/>
<path stroke="#ffccff" d="M94.2 585.5h33.8M28 611.5h33.0M94.2 620.5h33.8M94.2 632.5h33.8M94.2 637.5h33.8M28 659.5h33.0M28 674.5h33.0M28 675.5h33.0M28 677.5h33.0M28 685.5h33.0M94.2 685.5h33.8M28 687.5h33.0M28 688.5h33.0M28 689.5h33.0M164.2 694.5h33.4M28 695.5h33.0M164.2 702.5h33.4M94.2 703.5h33.8M28 706.5h33.0M164.2 711.5h33.4M28 713.5h33.0M28 719.5h33.0M164.2 719.5h33.4M28 720.5h33.0M164.2 720.5h33.4M28 721.5h33.0M94.2 726.5h33.8M28 731.5h33.0M28 743.5h33.0M61 760.5h33.2M61 761.5h33.2M28 762.5h33.0M28 763.5h33.0M28 765.5h33.0M28 768.5h33.0M61 780.5h33.2M94.2 783.5h33.8M94.2 786.5h33.8M28 792.5h33.0M28 800.5h33.0M28 805.5h33.0M28 806.5h33.0M94.2 806.5h33.8M94.2 820.5h33.8M28 824.5h33.0M94.2 824.5h33.8M94.2 826.5h33.8M28 828.5h33.0M28 830.5h33.0M131 830.5h33.2M94.2 831.5h33.8M94.2 832.5h33.8M94.2 839.5h33.8M28 844.5h33.0M94.2 846.5h33.8M94.2 857.5h33.8M131 862.5h33.2M94.2 864.5h33.8M28 868.5h33.0M61 944.5h33.2M61 969.5h33.2M61 972.5h33.2M61 980.5h33.2"/>
<path stroke="#ffb2ff" d="M94.2 586.5h33.8M94.2 602.5h33.8M28 614.5h33.0M28 615.5h33.0M28 643.5h33.0M94.2 650.5h33.8M28 652.5h33.0M28 653.5h33.0M28 666.5h33.0M28 671.5h33.0M28 678.5h33.0M94.2 678.5h33.8M28 679.5h33.0M61 679.5h33.2M94.2 679.5h33.8M94.2 680.5h33.8M28 686.5h33.0M164.2 690.5h33.4M28 692.5h33.0M164.2 692.5h33.4M94.2 695.5h33.8M94.2 700.5h33.8M94.2 702.5h33.8M94.2 707.5h33.8M94.2 711.5h33.8M28 712.5h33.0M164.2 713.5h33.4M164.2 716.5h33.4M164.2 717.5h33.4M164.2 721.5h33.4M94.2 724.5h33.8M28 725.5h33.0M61 737.5h33.2M94.2 737.5h33.8M61 738.5h33.2M94.2 739.5h33.8M61 748.5h33.2M61 752.5h33.2M94.2 759.5h33.8M61 765.5h33.2M61 766.5h33.2M61 767.5h33.2M94.2 771.5h33.8M94.2 773.5h33.8M61 774.5h33.2M94.2 780.5h33.8M61 781.5h33.2M61 782.5h33.2M94.2 784.5h33.8M61 785.5h33.2M94.2 785.5h33.8M94.2 787.5h33.8M28 801.5h33.0M94.2 814.5h33.8M61 820.5h33.2M94.2 822.5h33.8M28 823.5h33.0M61 827.5h33.2M94.2 827.5h33.8M94.2 829.5h33.8M94.2 836.5h33.8M94.2 837.5h33.8M61 844.5h33.2M61 846.5h33.2M94.2 848.5h33.8M94.2 866.5h33.8M61 898.5h33.2M61 905.5h33.2M61 906.5h33.2M61 923.5h33.2M61 946.5h33.2M61 950.5h33.2M61 951.5h33.2M61 962.5h33.2"/>
<path stroke="#ffbfff" d="M94.2 588.5h33.8M94.2 596.5h33.8M94.2 609.5h33.8M28 631.5h33.0M94.2 631.5h33.8M28 632.5h33.0M28 634.5h33.0M94.2 635.5h33.8M94.2 647.5h33.8M94.2 652.5h33.8M28 663.5h33.0M28 668.5h33.0M94.2 677.5h33.8M28 690.5h33.0M28 691.5h33.0M28 696.5h33.0M28 697.5h33.0M164.2 701.5h33.4M164.2 708.5h33.4M94.2 709.5h33.8M94.2 710.5h33.8M28 711.5h33.0M164.2 712.5h33.4M164.2 718.5h33.4M94.2 723.5h33.8M164.2 725.5h33.4M28 734.5h33.0M94.2 738.5h33.8M61 746.5h33.2M61 759.5h33.2M61 763.5h33.2M61 764.5h33.2M94.2 767.5h33.8M94.2 770.5h33.8M28 773.5h33.0M61 778.5h33.2M61 783.5h33.2M61 784.5h33.2M94.2 790.5h33.8M131 795.5h33.2M131 796.5h33.2M94.2 819.5h33.8M94.2 821.5h33.8M94.2 823.5h33.8M61 828.5h33.2M94.2 841.5h33.8M94.2 842.5h33.8M94.2 847.5h33.8M61 849.5h33.2M94.2 849.5h33.8M94.2 850.5h33.8M61 860.5h33.2M131 861.5h33.2M94.2 865.5h33.8M94.2 867.5h33.8M61 940.5h33.2M61 948.5h33.2M61 981.5h33.2"/>
<path stroke="#ff40ff" d="M164.2 596.5h33.4M164.2 598.5h33.4M164.2 801.5h33.4M61 874.5h33.2M61 920.5h33.2M131 944.5h33.2"/>
<path stroke="#ff33ff" d="M28 603.5h33.0M28 604.5h33.0M131 938.5h33.2"/>
<path stroke="#9999ff" d="M61 604.5h33.2M131 610.5h33.2M131 612.5h33.2M131 614.5h33.2M61 629.5h33.2M61 630.5h33.2M131 645.5h33.2M131 646.5h33.2M61 655.5h33.2M61 664.5h33.2M164.2 676.5h33.4M131 726.5h33.2M164.2 727.5h33.4M131 730.5h33.2M131 733.5h33.2M131 734.5h33.2M164.2 734.5h33.4M164.2 736.5h33.4M131 737.5h33.2M164.2 737.5h33.4M131 744.5h33.2M164.2 745.5h33.4M131 746.5h33.2M131 747.5h33.2M164.2 751.5h33.4M131 756.5h33.2M131 757.5h33.2M164.2 758.5h33.4M164.2 759.5h33.4M164.2 760.5h33.4M131 761.5h33.2M164.2 762.5h33.4M131 763.5h33.2M164.2 767.5h33.4M131 769.5h33.2M164.2 773.5h33.4M164.2 774.5h33.4M131 775.5h33.2M164.2 778.5h33.4M164.2 780.5h33.4M164.2 781.5h33.4M164.2 788.5h33.4M164.2 789.5h33.4M164.2 791.5h33.4M61 797.5h33.2M131 799.5h33.2M61 801.5h33.2M61 804.5h33.2M61 813.5h33.2M61 814.5h33.2M164.2 825.5h33.4M131 843.5h33.2M164.2 848.5h33.4M28 901.5h33.0M28 902.5h33.0M94.2 905.5h33.8M164.2 910.5h33.4M164.2 911.5h33.4M94.2 919.5h33.8M28 920.5h33.0M28 924.5h33.0M28 926.5h33.0M164.2 926.5h33.4M28 930.5h33.0M94.2 934.5h33.8M94.2 937.5h33.8M164.2 952.5h33.4M94.2 954.5h33.8M28 957.5h33.0M28 958.5h33.0M28 959.5h33.0M94.2 961.5h33.8M28 962.5h33.0M164.2 970.5h33.4M94.2 974.5h33.8M94.2 976.5h33.8M28 979.5h33.0M94.2 981.5h33.8"/>
<path stroke="#ffffff" d="M94.2 604.5h33.8M94.2 616.5h33.8M94.2 618.5h33.8M94.2 623.5h33.8M94.2 627.5h33.8M94.2 642.5h33.8M94.2 651.5h33.8M164.2 653.5h33.4M164.2 658.5h33.4M164.2 677.5h33.4M61 686.5h33.2M164.2 688.5h33.4M164.2 695.5h33.4M164.2 696.5h33.4M61 700.5h33.2M61 703.5h33.2M61 704.5h33.2M61 705.5h33.2M164.2 706.5h33.4M28 726.5h33.0M94.2 728.5h33.8M28 750.5h33.0M28 754.5h33.0M164.2 769.5h33.4M28 771.5h33.0M28 772.5h33.0M94.2 779.5h33.8M94.2 782.5h33.8M61 793.5h33.2M28 794.5h33.0M131 801.5h33.2M94.2 802.5h33.8M94.2 803.5h33.8M94.2 805.5h33.8M28 807.5h33.0M94.2 808.5h33.8M94.2 809.5h33.8M28 815.5h33.0M28 832.5h33.0M28 834.5h33.0M28 835.5h33.0M131 836.5h33.2M28 837.5h33.0M131 837.5h33.2M28 838.5h33.0M28 839.5h33.0M131 841.5h33.2M131 845.5h33.2M28 849.5h33.0M28 852.5h33.0M94.2 854.5h33.8M28 855.5h33.0M28 859.5h33.0M94.2 859.5h33.8M94.2 860.5h33.8M131 864.5h33.2M131 865.5h33.2M131 866.5h33.2M94.2 882.5h33.8M94.2 883.5h33.8M94.2 884.5h33.8M94.2 885.5h33.8M28 887.5h33.0M94.2 916.5h33.8M28 937.5h33.0M164.2 941.5h33.4M164.2 946.5h33.4M28 954.5h33.0M61 958.5h33.2M61 960.5h33.2M164.2 960.5h33.4M61 963.5h33.2M164.2 964.5h33.4M61 965.5h33.2M61 973.5h33.2M164.2 976.5h33.4M61 979.5h33.2"/>
<path stroke="#8c8cff" d="M131 604.5h33.2M131 607.5h33.2M131 609.5h33.2M61 612.5h33.2M61 622.5h33.2M131 622.5h33.2M61 626.5h33.2M61 627.5h33.2M61 628.5h33.2M131 633.5h33.2M61 640.5h33.2M131 644.5h33.2M61 658.5h33.2M131 662.5h33.2M61 665.5h33.2M61 666.5h33.2M61 707.5h33.2M61 721.5h33.2M131 740.5h33.2M164.2 740.5h33.4M131 743.5h33.2M131 745.5h33.2M164.2 747.5h33.4M131 753.5h33.2M164.2 754.5h33.4M131 755.5h33.2M164.2 755.5h33.4M164.2 757.5h33.4M131 759.5h33.2M164.2 761.5h33.4M131 766.5h33.2M131 774.5h33.2M164.2 775.5h33.4M164.2 776.5h33.4M131 791.5h33.2M61 815.5h33.2M131 824.5h33.2M164.2 835.5h33.4M164.2 840.5h33.4M164.2 845.5h33.4M164.2 846.5h33.4M164.2 851.5h33.4M164.2 856.5h33.4M164.2 857.5h33.4M164.2 862.5h33.4M164.2 864.5h33.4M164.2 899.5h33.4M164.2 901.5h33.4M164.2 905.5h33.4M94.2 906.5h33.8M94.2 907.5h33.8M94.2 908.5h33.8M94.2 938.5h33.8M28 944.5h33.0M94.2 949.5h33.8M94.2 950.5h33.8M94.2 956.5h33.8M94.2 957.5h33.8M94.2 963.5h33.8M94.2 964.5h33.8M28 965.5h33.0M94.2 966.5h33.8M164.2 971.5h33.4M164.2 972.5h33.4M94.2 973.5h33.8M164.2 978.5h33.4M94.2 979.5h33.8"/>
<path stroke="#a6a6ff" d="M61 605.5h33.2M61 607.5h33.2M131 608.5h33.2M94.2 611.5h33.8M94.2 613.5h33.8M131 613.5h33.2M61 641.5h33.2M61 642.5h33.2M61 649.5h33.2M61 662.5h33.2M61 708.5h33.2M61 720.5h33.2M164.2 726.5h33.4M164.2 728.5h33.4M164.2 730.5h33.4M131 738.5h33.2M164.2 738.5h33.4M131 741.5h33.2M131 748.5h33.2M164.2 748.5h33.4M164.2 750.5h33.4M164.2 753.5h33.4M131 764.5h33.2M131 772.5h33.2M164.2 783.5h33.4M131 784.5h33.2M131 785.5h33.2M131 787.5h33.2M131 788.5h33.2M131 789.5h33.2M164.2 792.5h33.4M61 798.5h33.2M61 811.5h33.2M164.2 826.5h33.4M164.2 852.5h33.4M164.2 865.5h33.4M94.2 887.5h33.8M28 904.5h33.0M28 916.5h33.0M28 923.5h33.0M28 925.5h33.0M28 928.5h33.0M28 929.5h33.0M28 931.5h33.0M94.2 931.5h33.8M94.2 936.5h33.8M94.2 942.5h33.8M28 943.5h33.0M94.2 943.5h33.8M94.2 948.5h33.8M28 951.5h33.0M164.2 953.5h33.4M94.2 962.5h33.8M94.2 965.5h33.8M28 968.5h33.0M164.2 968.5h33.4M94.2 972.5h33.8M28 973.5h33.0M94.2 975.5h33.8M28 977.5h33.0"/>
<path stroke="#bfbfff" d="M94.2 605.5h33.8M94.2 610.5h33.8M94.2 617.5h33.8M61 618.5h33.2M94.2 619.5h33.8M94.2 624.5h33.8M61 625.5h33.2M164.2 655.5h33.4M164.2 657.5h33.4M61 661.5h33.2M61 669.5h33.2M164.2 669.5h33.4M164.2 670.5h33.4M164.2 674.5h33.4M61 681.5h33.2M61 716.5h33.2M61 725.5h33.2M164.2 729.5h33.4M131 736.5h33.2M164.2 749.5h33.4M164.2 763.5h33.4M164.2 766.5h33.4M131 768.5h33.2M164.2 772.5h33.4M164.2 777.5h33.4M164.2 779.5h33.4M131 793.5h33.2M61 794.5h33.2M131 797.5h33.2M131 798.5h33.2M61 800.5h33.2M131 800.5h33.2M131 809.5h33.2M131 816.5h33.2M131 823.5h33.2M131 825.5h33.2M131 826.5h33.2M131 839.5h33.2M131 840.5h33.2M131 842.5h33.2M131 854.5h33.2M94.2 869.5h33.8M28 872.5h33.0M28 874.5h33.0M94.2 874.5h33.8M28 877.5h33.0M28 882.5h33.0M28 890.5h33.0M28 893.5h33.0M28 894.5h33.0M28 898.5h33.0M28 903.5h33.0M94.2 904.5h33.8M28 907.5h33.0M28 908.5h33.0M28 913.5h33.0M94.2 913.5h33.8M94.2 914.5h33.8M28 919.5h33.0M94.2 929.5h33.8M28 933.5h33.0M94.2 935.5h33.8M94.2 944.5h33.8M28 946.5h33.0M28 950.5h33.0M164.2 955.5h33.4M164.2 956.5h33.4M94.2 960.5h33.8M28 966.5h33.0M28 970.5h33.0M28 971.5h33.0M28 974.5h33.0M94.2 978.5h33.8M28 980.5h33.0M94.2 980.5h33.8"/>
<path stroke="#b2b2ff" d="M61 606.5h33.2M61 624.5h33.2M61 645.5h33.2M61 647.5h33.2M61 656.5h33.2M61 657.5h33.2M131 661.5h33.2M164.2 663.5h33.4M164.2 666.5h33.4M61 668.5h33.2M164.2 673.5h33.4M61 675.5h33.2M61 697.5h33.2M61 713.5h33.2M61 717.5h33.2M61 722.5h33.2M61 724.5h33.2M131 729.5h33.2M164.2 731.5h33.4M164.2 739.5h33.4M164.2 741.5h33.4M131 742.5h33.2M164.2 752.5h33.4M131 760.5h33.2M131 767.5h33.2M131 770.5h33.2M131 771.5h33.2M164.2 784.5h33.4M164.2 785.5h33.4M164.2 790.5h33.4M61 796.5h33.2M61 799.5h33.2M131 812.5h33.2M61 816.5h33.2M28 870.5h33.0M28 885.5h33.0M28 889.5h33.0M94.2 891.5h33.8M28 892.5h33.0M28 895.5h33.0M28 896.5h33.0M28 897.5h33.0M94.2 897.5h33.8M28 899.5h33.0M164.2 900.5h33.4M28 910.5h33.0M28 912.5h33.0M28 918.5h33.0M94.2 927.5h33.8M94.2 930.5h33.8M94.2 939.5h33.8M94.2 940.5h33.8M28 941.5h33.0M94.2 941.5h33.8M164.2 945.5h33.4M28 952.5h33.0M94.2 958.5h33.8M28 960.5h33.0M28 961.5h33.0M28 964.5h33.0M28 967.5h33.0M94.2 971.5h33.8M28 975.5h33.0M61 976.5h33.2M28 978.5h33.0"/>
<path stroke="#d9d9ff" d="M94.2 606.5h33.8M131 611.5h33.2M94.2 615.5h33.8M94.2 628.5h33.8M61 639.5h33.2M61 643.5h33.2M61 644.5h33.2M61 648.5h33.2M164.2 654.5h33.4M164.2 675.5h33.4M61 682.5h33.2M61 688.5h33.2M61 693.5h33.2M61 694.5h33.2M61 702.5h33.2M164.2 704.5h33.4M61 706.5h33.2M61 709.5h33.2M61 714.5h33.2M61 719.5h33.2M164.2 732.5h33.4M164.2 733.5h33.4M164.2 764.5h33.4M94.2 797.5h33.8M94.2 800.5h33.8M131 808.5h33.2M131 810.5h33.2M131 815.5h33.2M28 833.5h33.0M28 869.5h33.0M28 871.5h33.0M28 873.5h33.0M94.2 873.5h33.8M94.2 876.5h33.8M28 878.5h33.0M94.2 879.5h33.8M28 880.5h33.0M94.2 880.5h33.8M28 884.5h33.0M28 888.5h33.0M94.2 890.5h33.8M94.2 895.5h33.8M94.2 903.5h33.8M94.2 915.5h33.8M94.2 917.5h33.8M94.2 922.5h33.8M94.2 928.5h33.8M94.2 932.5h33.8M94.2 933.5h33.8M28 938.5h33.0M28 945.5h33.0M94.2 946.5h33.8M28 947.5h33.0M164.2 948.5h33.4M164.2 950.5h33.4M164.2 951.5h33.4M94.2 953.5h33.8M164.2 958.5h33.4M28 969.5h33.0M164.2 973.5h33.4M61 977.5h33.2M61 978.5h33.2"/>
<path stroke="#fff2ff" d="M94.2 607.5h33.8M94.2 614.5h33.8M94.2 630.5h33.8M94.2 641.5h33.8M94.2 645.5h33.8M94.2 649.5h33.8M61 678.5h33.2M164.2 680.5h33.4M164.2 684.5h33.4M164.2 689.5h33.4M28 693.5h33.0M164.2 697.5h33.4M61 698.5h33.2M61 699.5h33.2M164.2 703.5h33.4M164.2 705.5h33.4M28 707.5h33.0M164.2 707.5h33.4M28 728.5h33.0M28 736.5h33.0M28 747.5h33.0M28 753.5h33.0M28 761.5h33.0M28 769.5h33.0M28 774.5h33.0M28 778.5h33.0M28 782.5h33.0M28 785.5h33.0M28 789.5h33.0M94.2 793.5h33.8M94.2 794.5h33.8M94.2 798.5h33.8M28 810.5h33.0M94.2 811.5h33.8M131 811.5h33.2M28 817.5h33.0M131 817.5h33.2M131 821.5h33.2M28 825.5h33.0M28 826.5h33.0M131 829.5h33.2M28 840.5h33.0M28 848.5h33.0M131 849.5h33.2M28 850.5h33.0M131 852.5h33.2M28 853.5h33.0M94.2 855.5h33.8M131 857.5h33.2M28 858.5h33.0M131 859.5h33.2M94.2 861.5h33.8M94.2 862.5h33.8M94.2 863.5h33.8M28 866.5h33.0M61 943.5h33.2M61 945.5h33.2M61 954.5h33.2M61 957.5h33.2M164.2 959.5h33.4M61 974.5h33.2M164.2 974.5h33.4M164.2 980.5h33.4"/>
<path stroke="#4040ff" d="M61 613.5h33.2M61 637.5h33.2M131 690.5h33.2M164.2 834.5h33.4M164.2 872.5h33.4M164.2 894.5h33.4M164.2 918.5h33.4M164.2 927.5h33.4M164.2 932.5h33.4M164.2 937.5h33.4"/>
<path stroke="#3333ff" d="M61 614.5h33.2M131 631.5h33.2M94.2 910.5h33.8M164.2 919.5h33.4M164.2 936.5h33.4"/>
<path stroke="#ccccff" d="M61 616.5h33.2M94.2 621.5h33.8M94.2 625.5h33.8M94.2 626.5h33.8M94.2 638.5h33.8M164.2 660.5h33.4M164.2 667.5h33.4M164.2 668.5h33.4M164.2 671.5h33.4M164.2 672.5h33.4M61 676.5h33.2M61 692.5h33.2M61 696.5h33.2M61 701.5h33.2M61 712.5h33.2M61 715.5h33.2M61 723.5h33.2M164.2 746.5h33.4M164.2 765.5h33.4M164.2 768.5h33.4M164.2 771.5h33.4M61 795.5h33.2M61 805.5h33.2M131 806.5h33.2M131 813.5h33.2M131 827.5h33.2M131 853.5h33.2M28 862.5h33.0M28 863.5h33.0M28 864.5h33.0M94.2 870.5h33.8M28 875.5h33.0M94.2 875.5h33.8M28 876.5h33.0M94.2 878.5h33.8M28 879.5h33.0M28 881.5h33.0M94.2 881.5h33.8M28 883.5h33.0M28 886.5h33.0M94.2 886.5h33.8M94.2 888.5h33.8M94.2 889.5h33.8M28 891.5h33.0M94.2 892.5h33.8M94.2 898.5h33.8M94.2 900.5h33.8M94.2 901.5h33.8M28 905.5h33.0M28 909.5h33.0M28 915.5h33.0M94.2 918.5h33.8M94.2 920.5h33.8M28 921.5h33.0M94.2 921.5h33.8M28 922.5h33.0M94.2 923.5h33.8M94.2 924.5h33.8M28 932.5h33.0M28 934.5h33.0M28 942.5h33.0M94.2 945.5h33.8M94.2 947.5h33.8M164.2 947.5h33.4M28 948.5h33.0M28 949.5h33.0M94.2 951.5h33.8M28 953.5h33.0M164.2 954.5h33.4M94.2 955.5h33.8M164.2 957.5h33.4M164.2 963.5h33.4M164.2 966.5h33.4M94.2 970.5h33.8M164.2 975.5h33.4M94.2 977.5h33.8M28 981.5h33.0M164.2 981.5h33.4"/>
<path stroke="#ffd9ff" d="M94.2 622.5h33.8M94.2 643.5h33.8M28 660.5h33.0M28 662.5h33.0M28 672.5h33.0M28 680.5h33.0M28 681.5h33.0M28 683.5h33.0M28 684.5h33.0M61 690.5h33.2M28 698.5h33.0M28 699.5h33.0M28 709.5h33.0M164.2 709.5h33.4M28 714.5h33.0M164.2 715.5h33.4M28 724.5h33.0M94.2 729.5h33.8M28 730.5h33.0M94.2 731.5h33.8M28 732.5h33.0M28 735.5h33.0M28 740.5h33.0M61 741.5h33.2M28 742.5h33.0M28 744.5h33.0M28 745.5h33.0M28 752.5h33.0M28 759.5h33.0M28 760.5h33.0M61 779.5h33.2M28 784.5h33.0M28 786.5h33.0M131 794.5h33.2M28 799.5h33.0M28 803.5h33.0M28 804.5h33.0M28 814.5h33.0M94.2 815.5h33.8M28 816.5h33.0M131 818.5h33.2M28 819.5h33.0M28 827.5h33.0M28 829.5h33.0M28 831.5h33.0M94.2 833.5h33.8M94.2 834.5h33.8M28 836.5h33.0M28 843.5h33.0M131 847.5h33.2M131 848.5h33.2M131 850.5h33.2M94.2 851.5h33.8M131 851.5h33.2M28 854.5h33.0M131 855.5h33.2M131 856.5h33.2M131 858.5h33.2M131 860.5h33.2M131 863.5h33.2M28 867.5h33.0M61 955.5h33.2M61 959.5h33.2M61 961.5h33.2M61 970.5h33.2"/>
<path stroke="#f2f2ff" d="M94.2 629.5h33.8M164.2 659.5h33.4M61 677.5h33.2M164.2 678.5h33.4M164.2 679.5h33.4M61 680.5h33.2M164.2 681.5h33.4M61 683.5h33.2M164.2 683.5h33.4M61 685.5h33.2M61 687.5h33.2M61 691.5h33.2M164.2 698.5h33.4M28 708.5h33.0M61 711.5h33.2M28 741.5h33.0M28 756.5h33.0M164.2 770.5h33.4M28 780.5h33.0M28 781.5h33.0M28 787.5h33.0M28 788.5h33.0M94.2 796.5h33.8M131 804.5h33.2M94.2 807.5h33.8M131 807.5h33.2M28 808.5h33.0M28 822.5h33.0M131 822.5h33.2M131 834.5h33.2M94.2 845.5h33.8M131 846.5h33.2M28 847.5h33.0M28 851.5h33.0M28 856.5h33.0M28 857.5h33.0M28 860.5h33.0M131 867.5h33.2M131 868.5h33.2M94.2 871.5h33.8M94.2 872.5h33.8M94.2 877.5h33.8M94.2 894.5h33.8M94.2 896.5h33.8M28 911.5h33.0M28 914.5h33.0M94.2 925.5h33.8M28 935.5h33.0M28 936.5h33.0M164.2 943.5h33.4M164.2 944.5h33.4M28 955.5h33.0M28 956.5h33.0M61 956.5h33.2M164.2 961.5h33.4M164.2 965.5h33.4M94.2 968.5h33.8M94.2 969.5h33.8M61 975.5h33.2M28 976.5h33.0M164.2 979.5h33.4"/>
<path stroke="#ffe6ff" d="M94.2 633.5h33.8M94.2 648.5h33.8M28 661.5h33.0M28 667.5h33.0M28 676.5h33.0M28 682.5h33.0M164.2 682.5h33.4M61 684.5h33.2M164.2 687.5h33.4M61 689.5h33.2M28 694.5h33.0M28 700.5h33.0M28 710.5h33.0M28 723.5h33.0M164.2 724.5h33.4M28 729.5h33.0M28 733.5h33.0M28 737.5h33.0M28 739.5h33.0M28 746.5h33.0M28 748.5h33.0M28 755.5h33.0M28 757.5h33.0M28 758.5h33.0M28 764.5h33.0M28 767.5h33.0M28 775.5h33.0M28 776.5h33.0M28 777.5h33.0M28 779.5h33.0M94.2 781.5h33.8M28 783.5h33.0M28 790.5h33.0M28 791.5h33.0M28 793.5h33.0M28 795.5h33.0M94.2 795.5h33.8M28 796.5h33.0M28 797.5h33.0M28 798.5h33.0M131 803.5h33.2M28 809.5h33.0M94.2 810.5h33.8M28 811.5h33.0M28 812.5h33.0M28 813.5h33.0M94.2 813.5h33.8M131 814.5h33.2M94.2 816.5h33.8M28 818.5h33.0M131 819.5h33.2M28 820.5h33.0M131 820.5h33.2M131 831.5h33.2M131 832.5h33.2M94.2 835.5h33.8M131 835.5h33.2M28 841.5h33.0M28 842.5h33.0M94.2 843.5h33.8M28 845.5h33.0M28 846.5h33.0M94.2 852.5h33.8M94.2 856.5h33.8M94.2 858.5h33.8M94.2 868.5h33.8M164.2 942.5h33.4M61 966.5h33.2M61 968.5h33.2M61 971.5h33.2"/>
<path stroke="#e6e6ff" d="M94.2 634.5h33.8M94.2 636.5h33.8M94.2 644.5h33.8M94.2 646.5h33.8M164.2 656.5h33.4M164.2 661.5h33.4M164.2 662.5h33.4M61 695.5h33.2M164.2 699.5h33.4M61 710.5h33.2M61 718.5h33.2M28 727.5h33.0M28 749.5h33.0M28 770.5h33.0M94.2 799.5h33.8M94.2 801.5h33.8M131 802.5h33.2M94.2 804.5h33.8M131 805.5h33.2M94.2 812.5h33.8M28 821.5h33.0M131 828.5h33.2M131 833.5h33.2M131 838.5h33.2M94.2 844.5h33.8M131 844.5h33.2M94.2 853.5h33.8M28 861.5h33.0M28 865.5h33.0M94.2 893.5h33.8M28 900.5h33.0M94.2 902.5h33.8M28 906.5h33.0M94.2 926.5h33.8M28 939.5h33.0M164.2 940.5h33.4M164.2 949.5h33.4M94.2 952.5h33.8M94.2 959.5h33.8M164.2 962.5h33.4M61 964.5h33.2M94.2 967.5h33.8M164.2 967.5h33.4M164.2 977.5h33.4"/>
<path stroke="#2626ff" d="M164.2 931.5h33.4"/>
</g>
<rect x="12.8" y="579" width="15.2" height="25" fill="#eef03a"/>
<text font-size="12.5" text-anchor="middle" fill="#000" transform="matrix(1 0 0 1.035 20.40 598.50)" stroke="#000" stroke-width="0.25">1</text>
<rect x="12.8" y="604" width="15.2" height="49" fill="#9acd3b"/>
<text font-size="12.5" text-anchor="middle" fill="#000" transform="matrix(1 0 0 1.035 20.40 635.50)" stroke="#000" stroke-width="0.25">2</text>
<rect x="12.8" y="653" width="15.2" height="24" fill="#e8641e"/>
<text font-size="12.5" text-anchor="middle" fill="#000" transform="matrix(1 0 0 1.035 20.40 672.00)" stroke="#000" stroke-width="0.25">3</text>
<rect x="12.8" y="677" width="15.2" height="49" fill="#55abe8"/>
<text font-size="12.5" text-anchor="middle" fill="#000" transform="matrix(1 0 0 1.035 20.40 708.50)" stroke="#000" stroke-width="0.25">4</text>
<rect x="12.8" y="726" width="15.2" height="67" fill="#d7e43a"/>
<text font-size="12.5" text-anchor="middle" fill="#000" transform="matrix(1 0 0 1.035 20.40 766.50)" stroke="#000" stroke-width="0.25">5</text>
<rect x="12.8" y="793" width="15.2" height="24" fill="#3b7bbd"/>
<text font-size="12.5" text-anchor="middle" fill="#000" transform="matrix(1 0 0 1.035 20.40 812.00)" stroke="#000" stroke-width="0.25">6</text>
<rect x="12.8" y="817" width="15.2" height="52" fill="#e8a83c"/>
<text font-size="12.5" text-anchor="middle" fill="#000" transform="matrix(1 0 0 1.035 20.40 850.00)" stroke="#000" stroke-width="0.25">7</text>
<rect x="12.8" y="869" width="15.2" height="28" fill="#3cb878"/>
<text font-size="12.5" text-anchor="middle" fill="#000" transform="matrix(1 0 0 1.035 20.40 890.00)" stroke="#000" stroke-width="0.25">8</text>
<rect x="12.8" y="897" width="15.2" height="43" fill="#e0297a"/>
<text font-size="12.5" text-anchor="middle" fill="#000" transform="matrix(1 0 0 1.035 20.40 925.50)" stroke="#000" stroke-width="0.25">9</text>
<rect x="12.8" y="940" width="15.2" height="42" fill="#efd89a"/>
<text font-size="12.5" text-anchor="middle" fill="#000" transform="matrix(1 0 0 1.035 19.50 968.00)" stroke="#000" stroke-width="0.25">10</text>
<rect x="27.9" y="577.8" width="169.7" height="99.2" fill="none" stroke="#1d1d8a" stroke-width="2.2" stroke-dasharray="6.6 6.6"/>
<rect x="27.9" y="869.3" width="169.7" height="112.2" fill="none" stroke="#1d1d8a" stroke-width="2.2" stroke-dasharray="6.6 6.6"/>
<text font-size="12.9" transform="translate(35.50 576.50) rotate(-45)" stroke="#1a1a1a" stroke-width="0.25">Control</text>
<text font-size="12.9" transform="translate(70.00 575.80) rotate(-45)" stroke="#1a1a1a" stroke-width="0.25"><tspan font-style="italic">Lif</tspan> eKO</text>
<text font-size="12.9" transform="translate(102.00 575.50) rotate(-45)" stroke="#1a1a1a" stroke-width="0.25"><tspan font-style="italic">Lif</tspan> eKO</text>
<text font-size="12.9" transform="translate(118.50 577.00) rotate(-45)" stroke="#1a1a1a" stroke-width="0.25">+rLif</text>
<text font-size="12.9" transform="translate(141.30 566.30) rotate(-45)" stroke="#1a1a1a" stroke-width="0.25">Wildtype</text>
<text font-size="12.9" transform="translate(149.80 575.50) rotate(-45)" stroke="#1a1a1a" stroke-width="0.25">Day 4 am</text>
<text font-size="12.9" transform="translate(176.80 566.80) rotate(-45)" stroke="#1a1a1a" stroke-width="0.25">Wildtype</text>
<text font-size="12.9" transform="translate(185.30 576.00) rotate(-45)" stroke="#1a1a1a" stroke-width="0.25">Day 5 am</text>
<text font-size="12.7" text-anchor="middle" transform="translate(215.50 626.00) rotate(90) scale(1.035 1)" stroke="#1a1a1a" stroke-width="0.25">Lif-induced</text>
<text font-size="12.7" text-anchor="middle" transform="translate(203.50 626.00) rotate(90) scale(1.035 1)" stroke="#1a1a1a" stroke-width="0.25">genes</text>
<text font-size="12.7" text-anchor="middle" transform="translate(215.50 930.00) rotate(90) scale(1.035 1)" stroke="#1a1a1a" stroke-width="0.25">Lif-suppressed</text>
<text font-size="12.7" text-anchor="middle" transform="translate(203.50 930.00) rotate(90) scale(1.035 1)" stroke="#1a1a1a" stroke-width="0.25">genes</text>
<text font-size="12.7" text-anchor="middle" transform="matrix(1 0 0 1.035 111.50 994.30)" stroke="#1a1a1a" stroke-width="0.25">LE genes</text>
<defs><linearGradient id="cb"><stop offset="0" stop-color="#0000ff"/><stop offset="0.06" stop-color="#0a0aff"/><stop offset="0.5" stop-color="#ffffff"/><stop offset="0.94" stop-color="#ff10ff"/><stop offset="1" stop-color="#ff10ff"/></linearGradient></defs>
<rect x="68.2" y="999.9" width="87.2" height="11" fill="url(#cb)"/>
<text font-size="12.7" text-anchor="middle" transform="matrix(1 0 0 1.035 68.50 1022.60)" stroke="#1a1a1a" stroke-width="0.25">-2.0</text>
<text font-size="12.7" text-anchor="middle" transform="matrix(1 0 0 1.035 111.80 1022.60)" stroke="#1a1a1a" stroke-width="0.25">0.0</text>
<text font-size="12.7" text-anchor="middle" transform="matrix(1 0 0 1.035 155.20 1022.60)" stroke="#1a1a1a" stroke-width="0.25">2.0</text>
<text font-size="12.6" text-anchor="middle" transform="matrix(1 0 0 1.035 114.60 1035.30)" stroke="#1a1a1a" stroke-width="0.25">log<tspan font-size="9" dy="3.5">2</tspan><tspan dy="-3.5"> (Fold Change)</tspan></text>
<text font-size="14.5" fill="#000" font-weight="bold" transform="matrix(1 0 0 1.035 238.00 577.40)" stroke="#000" stroke-width="0.25">e</text>
<text font-size="12.7" transform="matrix(1 0 0 1.035 381.80 580.90)" stroke="#1a1a1a" stroke-width="0.25">Gene Ontology (GO)</text>
<rect x="247.8" y="608.5" width="168.0" height="17.2" fill="#f2787c"/>
<text font-size="10.35" transform="matrix(1 0 0 1.035 250.50 614.70)" stroke="#1a1a1a" stroke-width="0.25">cellular response to cytokine stimulus</text>
<text font-size="10.35" transform="matrix(1 0 0 1.035 250.50 624.80)" stroke="#1a1a1a" stroke-width="0.25">(GO:0071345)</text>
<rect x="247.8" y="634.8" width="113.2" height="17.2" fill="#f2787c"/>
<text font-size="10.35" transform="matrix(1 0 0 1.035 250.50 641.00)" stroke="#1a1a1a" stroke-width="0.25">positive regulation of vasculature development</text>
<text font-size="10.35" transform="matrix(1 0 0 1.035 250.50 651.10)" stroke="#1a1a1a" stroke-width="0.25">(GO:1904018)</text>
<rect x="247.8" y="660.9" width="104.1" height="17.3" fill="#f2787c"/>
<text font-size="10.35" transform="matrix(1 0 0 1.035 250.50 667.10)" stroke="#1a1a1a" stroke-width="0.25">positive regulation of angiogenesis</text>
<text font-size="10.35" transform="matrix(1 0 0 1.035 250.50 677.20)" stroke="#1a1a1a" stroke-width="0.25">(GO:0045766)</text>
<rect x="247.8" y="687.2" width="97.7" height="17.4" fill="#f2787c"/>
<text font-size="10.35" transform="matrix(1 0 0 1.035 250.50 693.40)" stroke="#1a1a1a" stroke-width="0.25">respiratory tube development</text>
<text font-size="10.35" transform="matrix(1 0 0 1.035 250.50 703.50)" stroke="#1a1a1a" stroke-width="0.25">(GO:0030323)</text>
<rect x="247.8" y="713.5" width="90.7" height="17.5" fill="#f2787c"/>
<text font-size="10.35" transform="matrix(1 0 0 1.035 250.50 719.70)" stroke="#1a1a1a" stroke-width="0.25">respiratory system development</text>
<text font-size="10.35" transform="matrix(1 0 0 1.035 250.50 729.80)" stroke="#1a1a1a" stroke-width="0.25">(GO:0060541)</text>
<line x1="247" y1="600.3" x2="247" y2="740.3" stroke="#111" stroke-width="1.4"/>
<line x1="246.3" y1="740.3" x2="422.7" y2="740.3" stroke="#111" stroke-width="1.4"/>
<line x1="247.0" y1="740.3" x2="247.0" y2="745.9" stroke="#111" stroke-width="1.3"/>
<text font-size="13.2" text-anchor="middle" transform="matrix(1 0 0 1.035 247.00 759.60)" stroke="#1a1a1a" stroke-width="0.25">0</text>
<line x1="297.4" y1="740.3" x2="297.4" y2="745.9" stroke="#111" stroke-width="1.3"/>
<text font-size="13.2" text-anchor="middle" transform="matrix(1 0 0 1.035 297.40 759.60)" stroke="#1a1a1a" stroke-width="0.25">2</text>
<line x1="347.8" y1="740.3" x2="347.8" y2="745.9" stroke="#111" stroke-width="1.3"/>
<text font-size="13.2" text-anchor="middle" transform="matrix(1 0 0 1.035 347.80 759.60)" stroke="#1a1a1a" stroke-width="0.25">4</text>
<line x1="398.2" y1="740.3" x2="398.2" y2="745.9" stroke="#111" stroke-width="1.3"/>
<text font-size="13.2" text-anchor="middle" transform="matrix(1 0 0 1.035 398.20 759.60)" stroke="#1a1a1a" stroke-width="0.25">6</text>
<text font-size="12.8" text-anchor="middle" transform="matrix(1 0 0 1.035 328.50 772.30)" stroke="#1a1a1a" stroke-width="0.25">-log<tspan font-size="10" dy="4">10</tspan><tspan dy="-4" font-size="6"> </tspan>(<tspan font-style="italic">P</tspan><tspan font-size="9"> </tspan>value)</text>
<text font-size="12.7" text-anchor="middle" transform="matrix(1 0 0 1.035 324.50 599.10)" stroke="#1a1a1a" stroke-width="0.25">Lif-induced genes</text>
<rect x="471.90000000000003" y="608.5" width="138.6" height="17.2" fill="#64dcfa"/>
<text font-size="10.35" transform="matrix(1 0 0 1.035 474.60 614.70)" stroke="#1a1a1a" stroke-width="0.25">cadherin binding involved in cell-cell adhesion</text>
<text font-size="10.35" transform="matrix(1 0 0 1.035 474.60 624.80)" stroke="#1a1a1a" stroke-width="0.25">(GO:0098641)</text>
<rect x="471.90000000000003" y="634.8" width="122.1" height="17.2" fill="#64dcfa"/>
<text font-size="10.35" transform="matrix(1 0 0 1.035 474.60 641.00)" stroke="#1a1a1a" stroke-width="0.25">transforming growth factor beta binding</text>
<text font-size="10.35" transform="matrix(1 0 0 1.035 474.60 651.10)" stroke="#1a1a1a" stroke-width="0.25">(GO:0050431)</text>
<rect x="471.90000000000003" y="660.9" width="115.7" height="17.3" fill="#64dcfa"/>
<text font-size="10.35" transform="matrix(1 0 0 1.035 474.60 667.10)" stroke="#1a1a1a" stroke-width="0.25">glutathione transferase activity</text>
<text font-size="10.35" transform="matrix(1 0 0 1.035 474.60 677.20)" stroke="#1a1a1a" stroke-width="0.25">(GO:0004364)</text>
<rect x="471.90000000000003" y="687.2" width="104.7" height="17.4" fill="#64dcfa"/>
<text font-size="10.35" transform="matrix(1 0 0 1.035 474.60 693.40)" stroke="#1a1a1a" stroke-width="0.25">phospholipase inhibitor activity</text>
<text font-size="10.35" transform="matrix(1 0 0 1.035 474.60 703.50)" stroke="#1a1a1a" stroke-width="0.25">(GO:0004859)</text>
<rect x="471.90000000000003" y="713.5" width="104.7" height="17.5" fill="#64dcfa"/>
<text font-size="10.35" transform="matrix(1 0 0 1.035 474.60 719.70)" stroke="#1a1a1a" stroke-width="0.25">1-phosphatidylinositol-3-kinase activity</text>
<text font-size="10.35" transform="matrix(1 0 0 1.035 474.60 729.80)" stroke="#1a1a1a" stroke-width="0.25">(GO:0016303)</text>
<line x1="471.1" y1="600.3" x2="471.1" y2="740.3" stroke="#111" stroke-width="1.4"/>
<line x1="470.40000000000003" y1="740.3" x2="647.08" y2="740.3" stroke="#111" stroke-width="1.4"/>
<line x1="471.1" y1="740.3" x2="471.1" y2="745.9" stroke="#111" stroke-width="1.3"/>
<text font-size="13.2" text-anchor="middle" transform="matrix(1 0 0 1.035 471.10 759.60)" stroke="#1a1a1a" stroke-width="0.25">0</text>
<line x1="514.9200000000001" y1="740.3" x2="514.9200000000001" y2="745.9" stroke="#111" stroke-width="1.3"/>
<text font-size="13.2" text-anchor="middle" transform="matrix(1 0 0 1.035 514.92 759.60)" stroke="#1a1a1a" stroke-width="0.25">1</text>
<line x1="558.74" y1="740.3" x2="558.74" y2="745.9" stroke="#111" stroke-width="1.3"/>
<text font-size="13.2" text-anchor="middle" transform="matrix(1 0 0 1.035 558.74 759.60)" stroke="#1a1a1a" stroke-width="0.25">2</text>
<line x1="602.5600000000001" y1="740.3" x2="602.5600000000001" y2="745.9" stroke="#111" stroke-width="1.3"/>
<text font-size="13.2" text-anchor="middle" transform="matrix(1 0 0 1.035 602.56 759.60)" stroke="#1a1a1a" stroke-width="0.25">3</text>
<line x1="646.38" y1="740.3" x2="646.38" y2="745.9" stroke="#111" stroke-width="1.3"/>
<text font-size="13.2" text-anchor="middle" transform="matrix(1 0 0 1.035 646.38 759.60)" stroke="#1a1a1a" stroke-width="0.25">4</text>
<text font-size="12.8" text-anchor="middle" transform="matrix(1 0 0 1.035 559.40 772.30)" stroke="#1a1a1a" stroke-width="0.25">-log<tspan font-size="10" dy="4">10</tspan><tspan dy="-4" font-size="6"> </tspan>(<tspan font-style="italic">P</tspan><tspan font-size="9"> </tspan>value)</text>
<text font-size="12.7" text-anchor="middle" transform="matrix(1 0 0 1.035 554.70 599.10)" stroke="#1a1a1a" stroke-width="0.25">Lif-suppressed genes</text>
<text font-size="14.5" fill="#000" font-weight="bold" transform="matrix(1 0 0 1.035 238.60 792.60)" stroke="#000" stroke-width="0.25">f</text>
<text font-size="12.7" transform="matrix(1 0 0 1.035 323.00 802.20)" stroke="#1a1a1a" stroke-width="0.25">TF Perturbations Followed by Expression</text>
<rect x="247.8" y="826.7" width="168.6" height="17.6" fill="#f2787c"/>
<text font-size="10.35" transform="matrix(1 0 0 1.035 250.50 834.50)" stroke="#1a1a1a" stroke-width="0.25">Down-regulated genes in <tspan font-style="italic">Hmga2</tspan> KO mouse</text>
<text font-size="10.35" transform="matrix(1 0 0 1.035 250.50 844.60)" stroke="#1a1a1a" stroke-width="0.25">GSE55340 CREEDSID GENE 48</text>
<rect x="247.8" y="853" width="150.1" height="17.6" fill="#f2787c"/>
<text font-size="10.35" transform="matrix(1 0 0 1.035 250.50 860.80)" stroke="#1a1a1a" stroke-width="0.25">Up-regulated genes in Myc-activated mouse</text>
<text font-size="10.35" transform="matrix(1 0 0 1.035 250.50 870.90)" stroke="#1a1a1a" stroke-width="0.25">GSE4356 CREEDSID GENE 750</text>
<rect x="247.8" y="879.3" width="145.7" height="17.6" fill="#f2787c"/>
<text font-size="10.35" transform="matrix(1 0 0 1.035 250.50 887.10)" stroke="#1a1a1a" stroke-width="0.25">Up-regulated genes in Stat3-activated mouse</text>
<text font-size="10.35" transform="matrix(1 0 0 1.035 250.50 897.20)" stroke="#1a1a1a" stroke-width="0.25">GSE21060 CREEDSID GENE 3063</text>
<rect x="247.8" y="905.6" width="134.0" height="17.6" fill="#f2787c"/>
<text font-size="10.35" transform="matrix(1 0 0 1.035 250.50 913.40)" stroke="#1a1a1a" stroke-width="0.25">Down-regulated genes in <tspan font-style="italic">Ovol1</tspan> KO mouse</text>
<text font-size="10.35" transform="matrix(1 0 0 1.035 250.50 923.50)" stroke="#1a1a1a" stroke-width="0.25">GSE55071 CREEDSID GENE 2560</text>
<rect x="247.8" y="932.2" width="134.0" height="17.6" fill="#f2787c"/>
<text font-size="10.35" transform="matrix(1 0 0 1.035 250.50 940.00)" stroke="#1a1a1a" stroke-width="0.25">Up-regulated genes in <tspan font-style="italic">Hes1</tspan> OE mouse</text>
<text font-size="10.35" transform="matrix(1 0 0 1.035 250.50 950.10)" stroke="#1a1a1a" stroke-width="0.25">GSE54622 CREEDSID GENE 2771</text>
<line x1="247" y1="818.5" x2="247" y2="958.5" stroke="#111" stroke-width="1.4"/>
<line x1="246.3" y1="958.5" x2="423.97999999999996" y2="958.5" stroke="#111" stroke-width="1.4"/>
<line x1="247.0" y1="958.5" x2="247.0" y2="964.1" stroke="#111" stroke-width="1.3"/>
<text font-size="13.2" text-anchor="middle" transform="matrix(1 0 0 1.035 247.00 977.80)" stroke="#1a1a1a" stroke-width="0.25">0</text>
<line x1="276.38" y1="958.5" x2="276.38" y2="964.1" stroke="#111" stroke-width="1.3"/>
<text font-size="13.2" text-anchor="middle" transform="matrix(1 0 0 1.035 276.38 977.80)" stroke="#1a1a1a" stroke-width="0.25">2</text>
<line x1="305.76" y1="958.5" x2="305.76" y2="964.1" stroke="#111" stroke-width="1.3"/>
<text font-size="13.2" text-anchor="middle" transform="matrix(1 0 0 1.035 305.76 977.80)" stroke="#1a1a1a" stroke-width="0.25">4</text>
<line x1="335.14" y1="958.5" x2="335.14" y2="964.1" stroke="#111" stroke-width="1.3"/>
<text font-size="13.2" text-anchor="middle" transform="matrix(1 0 0 1.035 335.14 977.80)" stroke="#1a1a1a" stroke-width="0.25">6</text>
<line x1="364.52" y1="958.5" x2="364.52" y2="964.1" stroke="#111" stroke-width="1.3"/>
<text font-size="13.2" text-anchor="middle" transform="matrix(1 0 0 1.035 364.52 977.80)" stroke="#1a1a1a" stroke-width="0.25">8</text>
<line x1="393.9" y1="958.5" x2="393.9" y2="964.1" stroke="#111" stroke-width="1.3"/>
<text font-size="13.2" text-anchor="middle" transform="matrix(1 0 0 1.035 393.90 977.80)" stroke="#1a1a1a" stroke-width="0.25">10</text>
<line x1="423.28" y1="958.5" x2="423.28" y2="964.1" stroke="#111" stroke-width="1.3"/>
<text font-size="13.2" text-anchor="middle" transform="matrix(1 0 0 1.035 423.28 977.80)" stroke="#1a1a1a" stroke-width="0.25">12</text>
<text font-size="12.8" text-anchor="middle" transform="matrix(1 0 0 1.035 328.20 990.50)" stroke="#1a1a1a" stroke-width="0.25">-log<tspan font-size="10" dy="4">10</tspan><tspan dy="-4" font-size="6"> </tspan>(<tspan font-style="italic">P</tspan><tspan font-size="9"> </tspan>value)</text>
<text font-size="12.7" text-anchor="middle" transform="matrix(1 0 0 1.035 324.50 817.30)" stroke="#1a1a1a" stroke-width="0.25">Lif-induced genes</text>
<rect x="471.90000000000003" y="826.7" width="140.9" height="17.6" fill="#64dcfa"/>
<text font-size="10.35" transform="matrix(1 0 0 1.035 474.60 834.50)" stroke="#1a1a1a" stroke-width="0.25">Down-regulated genes in <tspan font-style="italic">Pgr</tspan> KO mouse</text>
<text font-size="10.35" transform="matrix(1 0 0 1.035 474.60 844.60)" stroke="#1a1a1a" stroke-width="0.25">GSE39920 CREEDSID GENE 3079</text>
<rect x="471.90000000000003" y="853" width="110.7" height="17.6" fill="#64dcfa"/>
<text font-size="10.35" transform="matrix(1 0 0 1.035 474.60 860.80)" stroke="#1a1a1a" stroke-width="0.25">Down-regulated genes in <tspan font-style="italic">Pgr</tspan> KO mouse</text>
<text font-size="10.35" transform="matrix(1 0 0 1.035 474.60 870.90)" stroke="#1a1a1a" stroke-width="0.25">GSE39920 CREEDSID GENE 3080</text>
<rect x="471.90000000000003" y="879.3" width="107.3" height="17.6" fill="#64dcfa"/>
<text font-size="10.35" transform="matrix(1 0 0 1.035 474.60 887.10)" stroke="#1a1a1a" stroke-width="0.25">Down-regulated genes in <tspan font-style="italic">Pgr</tspan> KO mouse</text>
<text font-size="10.35" transform="matrix(1 0 0 1.035 474.60 897.20)" stroke="#1a1a1a" stroke-width="0.25">GSE39920 CREEDSID GENE 3078</text>
<rect x="471.90000000000003" y="905.6" width="47.9" height="17.6" fill="#64dcfa"/>
<text font-size="10.35" transform="matrix(1 0 0 1.035 474.60 913.40)" stroke="#1a1a1a" stroke-width="0.25">Down-regulated genes in <tspan font-style="italic">Pgr</tspan> KO mouse</text>
<text font-size="10.35" transform="matrix(1 0 0 1.035 474.60 923.50)" stroke="#1a1a1a" stroke-width="0.25">GSE39920 CREEDSID GENE 3077</text>
<rect x="471.90000000000003" y="932.2" width="41.2" height="17.6" fill="#64dcfa"/>
<text font-size="10.35" transform="matrix(1 0 0 1.035 474.60 940.00)" stroke="#1a1a1a" stroke-width="0.25">Up-regulated genes in <tspan font-style="italic">Pgr</tspan> KO mouse</text>
<text font-size="10.35" transform="matrix(1 0 0 1.035 474.60 950.10)" stroke="#1a1a1a" stroke-width="0.25">GSE39920 CREEDSID GENE 3079</text>
<line x1="471.1" y1="818.5" x2="471.1" y2="958.5" stroke="#111" stroke-width="1.4"/>
<line x1="470.40000000000003" y1="958.5" x2="647.8100000000001" y2="958.5" stroke="#111" stroke-width="1.4"/>
<line x1="471.1" y1="958.5" x2="471.1" y2="964.1" stroke="#111" stroke-width="1.3"/>
<text font-size="13.2" text-anchor="middle" transform="matrix(1 0 0 1.035 471.10 977.80)" stroke="#1a1a1a" stroke-width="0.25">0</text>
<line x1="529.77" y1="958.5" x2="529.77" y2="964.1" stroke="#111" stroke-width="1.3"/>
<text font-size="13.2" text-anchor="middle" transform="matrix(1 0 0 1.035 529.77 977.80)" stroke="#1a1a1a" stroke-width="0.25">10</text>
<line x1="588.44" y1="958.5" x2="588.44" y2="964.1" stroke="#111" stroke-width="1.3"/>
<text font-size="13.2" text-anchor="middle" transform="matrix(1 0 0 1.035 588.44 977.80)" stroke="#1a1a1a" stroke-width="0.25">20</text>
<line x1="647.11" y1="958.5" x2="647.11" y2="964.1" stroke="#111" stroke-width="1.3"/>
<text font-size="13.2" text-anchor="middle" transform="matrix(1 0 0 1.035 647.11 977.80)" stroke="#1a1a1a" stroke-width="0.25">30</text>
<text font-size="12.8" text-anchor="middle" transform="matrix(1 0 0 1.035 559.40 990.50)" stroke="#1a1a1a" stroke-width="0.25">-log<tspan font-size="10" dy="4">10</tspan><tspan dy="-4" font-size="6"> </tspan>(<tspan font-style="italic">P</tspan><tspan font-size="9"> </tspan>value)</text>
<text font-size="12.7" text-anchor="middle" transform="matrix(1 0 0 1.035 554.70 817.30)" stroke="#1a1a1a" stroke-width="0.25">Lif-suppressed genes</text>
</svg></body></html>
